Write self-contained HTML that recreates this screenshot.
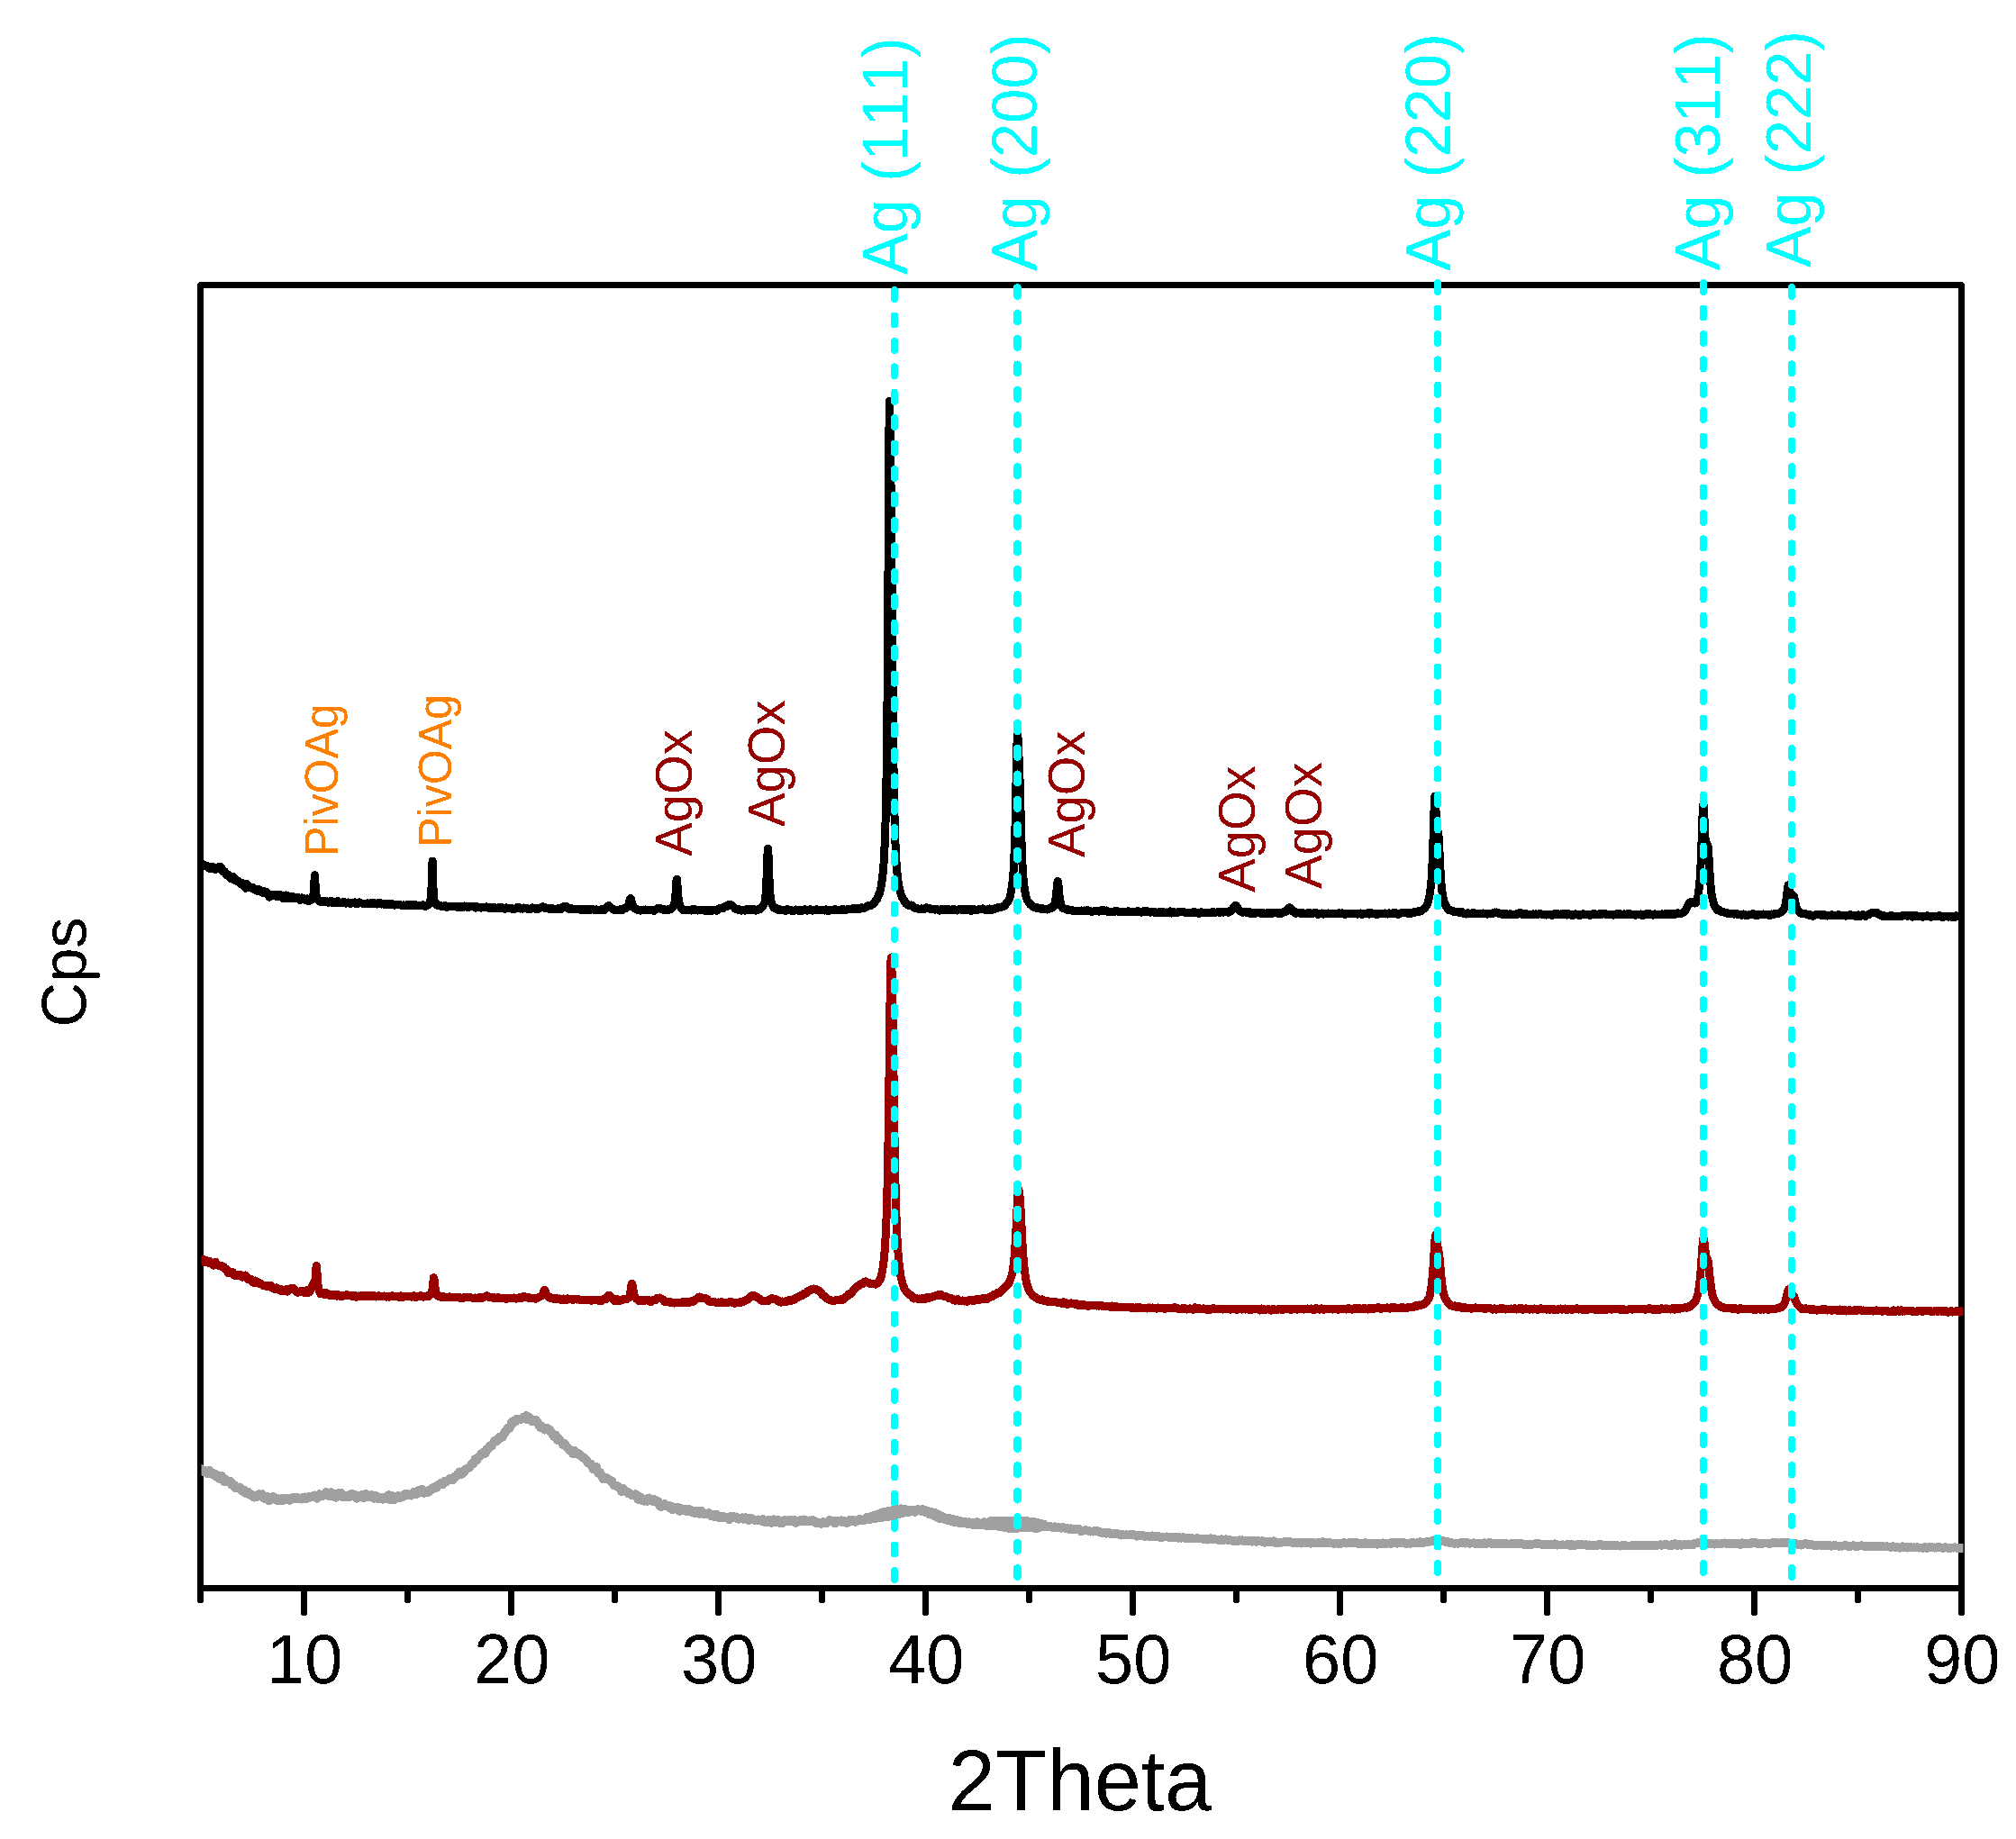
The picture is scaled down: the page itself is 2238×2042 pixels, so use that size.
<!DOCTYPE html>
<html lang="en">
<head>
<meta charset="utf-8">
<title>XRD pattern</title>
<style>html,body{margin:0;padding:0;background:#fff}svg{display:block}</style>
</head>
<body>
<svg width="2238" height="2042" viewBox="0 0 2238 2042">
<rect width="2238" height="2042" fill="#fff"/>
<g fill="none" stroke="#000" stroke-width="7" stroke-linecap="round" stroke-linejoin="round" shape-rendering="crispEdges">
<rect x="222.5" y="316.5" width="1955.0" height="1447.0"/>
<path d="M222.5 1763.5V1776.5M337.5 1763.5V1790.5M452.5 1763.5V1776.5M567.5 1763.5V1790.5M682.5 1763.5V1776.5M797.5 1763.5V1790.5M912.5 1763.5V1776.5M1027.5 1763.5V1790.5M1142.5 1763.5V1776.5M1257.5 1763.5V1790.5M1372.5 1763.5V1776.5M1487.5 1763.5V1790.5M1602.5 1763.5V1776.5M1717.5 1763.5V1790.5M1832.5 1763.5V1776.5M1947.5 1763.5V1790.5M2062.5 1763.5V1776.5M2177.5 1763.5V1790.5"/>
</g>
<clipPath id="cp"><rect x="223.5" y="0" width="1956.0" height="2042"/></clipPath>
<g clip-path="url(#cp)" shape-rendering="crispEdges">
<path d="M222.5 1400.4L222.96 1399.9L223.42 1400.5L223.88 1400.5L224.34 1399.9L224.8 1400.2L225.26 1399.1L225.72 1398L226.18 1399.6L226.64 1399.7L227.1 1400.8L227.56 1401.7L228.02 1400.9L228.48 1400.5L228.94 1399.7L229.4 1399.9L229.86 1400.5L230.32 1400.2L230.78 1400.3L231.24 1400.1L231.7 1400.1L232.16 1401.5L232.62 1402.6L233.08 1403L233.54 1402L234 1401.7L234.46 1402.1L234.92 1402.2L235.38 1402.2L235.84 1403.2L236.3 1402.8L236.76 1403.3L237.22 1405.2L237.68 1404.2L238.14 1403.7L238.6 1402.1L239.06 1401.2L239.52 1402L239.98 1402.5L240.44 1404L240.9 1404.6L241.36 1404.7L241.82 1405.1L242.28 1405.3L242.74 1405L243.2 1405.5L243.66 1405.5L244.12 1405.6L244.58 1405.5L245.04 1405.2L245.5 1405.6L245.96 1406.4L246.42 1407.1L246.88 1407.2L247.34 1406.5L247.8 1406.9L248.26 1406.6L248.72 1407L249.18 1408.8L249.64 1408.9L250.1 1409.3L250.56 1410.1L251.02 1409.6L251.48 1409.4L251.94 1410.9L252.4 1411.1L252.86 1413.3L253.32 1413.2L253.78 1412.8L254.24 1412.9L254.7 1412.1L255.16 1412.7L255.62 1413.8L256.08 1413.9L256.54 1413L257 1413.2L257.46 1412.5L257.92 1412.6L258.38 1412.9L258.84 1413L259.3 1413.8L259.76 1414.5L260.22 1416.1L260.68 1416L261.14 1415L261.6 1415.9L262.06 1415.2L262.52 1416.1L262.98 1416.4L263.44 1415.6L263.9 1415.6L264.36 1415.6L264.82 1416.9L265.28 1416.4L265.74 1416.6L266.2 1415.8L266.66 1415.6L267.12 1415.6L267.58 1416.6L268.04 1417L268.5 1417.8L268.96 1418.2L269.42 1416.5L269.88 1417.5L270.34 1416.9L270.8 1417L271.26 1417.4L271.72 1416.1L272.18 1416L272.64 1416.8L273.1 1416.6L273.56 1418.2L274.02 1419.4L274.48 1418.4L274.94 1420L275.4 1420.5L275.86 1419.4L276.32 1420.8L276.78 1420L277.24 1420.2L277.7 1421.6L278.16 1421.4L278.62 1421.9L279.08 1420.7L279.54 1421.1L280 1422.5L280.46 1422.7L280.92 1424.1L281.38 1423.2L281.84 1423.1L282.3 1422.7L282.76 1423.2L283.22 1422.2L283.68 1422L284.14 1422.7L284.6 1423.2L285.06 1425L285.52 1424.5L285.98 1424.7L286.44 1423.5L286.9 1424.3L287.36 1425.4L287.82 1425.6L288.28 1425.7L288.74 1425.3L289.2 1424.9L289.66 1425.1L290.12 1426.1L290.58 1426.3L291.04 1426.5L291.5 1427.3L291.96 1427.3L292.42 1427.3L292.88 1427.2L293.34 1427.4L293.8 1427.6L294.26 1427.5L294.72 1428L295.18 1427.6L295.64 1427.6L296.1 1428.1L296.56 1428.7L297.02 1428.1L297.48 1428.2L297.94 1428.1L298.4 1427.2L298.86 1428.4L299.32 1428.5L299.78 1428.3L300.24 1428.1L300.7 1427.3L301.16 1427.6L301.62 1428.9L302.08 1429.8L302.54 1429.6L303 1430.3L303.46 1429.6L303.92 1430.5L304.38 1431.4L304.84 1431.3L305.3 1431.5L305.76 1430.4L306.22 1430.7L306.68 1430.4L307.14 1429.9L307.6 1431.2L308.06 1431.3L308.52 1431.8L308.98 1432.2L309.44 1432L309.9 1432.6L310.36 1431.3L310.82 1431.4L311.28 1431.6L311.74 1431.2L312.2 1433L312.66 1433.8L313.12 1433.1L313.58 1433.5L314.04 1433.1L314.5 1432.2L314.96 1433.4L315.42 1433.8L315.88 1433.6L316.34 1433.6L316.8 1432.5L317.26 1431.8L317.72 1432.1L318.18 1432.1L318.64 1432.8L319.1 1434.2L319.56 1433.1L320.02 1433L320.48 1432.9L320.94 1431.7L321.4 1431.6L321.86 1431.6L322.32 1430.8L322.78 1430.8L323.24 1430.7L323.7 1430.5L324.16 1430.5L324.62 1430.4L325.08 1431L325.54 1430.7L326 1430.5L326.46 1431.3L326.92 1431.5L327.38 1432.6L327.84 1433.5L328.3 1433.4L328.76 1434.5L329.22 1434.6L329.68 1435.1L330.14 1435.3L330.6 1434.9L331.06 1434.5L331.52 1434.1L331.98 1434.3L332.44 1434.1L332.9 1434.5L333.36 1434.6L333.82 1433.7L334.28 1433.6L334.74 1433.8L335.2 1433.6L335.66 1433.7L336.12 1434.3L336.58 1434.6L337.04 1435L337.5 1435.2L337.96 1435.3L338.42 1435.2L338.88 1434.6L339.34 1434.7L339.8 1433.7L340.26 1432.8L340.72 1433.9L341.18 1434.8L341.64 1434.5L342.1 1435.5L342.56 1434.8L343.02 1434L343.48 1434.8L343.94 1434.3L344.4 1433.6L344.86 1432.3L345.32 1431.2L345.78 1430.4L346.24 1428.8L346.7 1427.8L347.16 1426.8L347.62 1425.4L348.08 1425.4L348.54 1425.8L349 1425.3L349.46 1424.1L349.92 1421.2L350.38 1415.5L350.84 1409L351.3 1405.5L351.76 1409.4L352.22 1417L352.68 1422.9L353.14 1427.8L353.6 1430.8L354.06 1432.6L354.52 1434.5L354.98 1434.8L355.44 1435.9L355.9 1436.7L356.36 1436.5L356.82 1436.4L357.28 1436.3L357.74 1436.2L358.2 1435.7L358.66 1436.4L359.12 1436.3L359.58 1436.6L360.04 1437.4L360.5 1436.6L360.96 1436.9L361.42 1436.4L361.88 1435.5L362.34 1436.3L362.8 1436.1L363.26 1435.9L363.72 1436.5L364.18 1436.6L364.64 1437.2L365.1 1438.3L365.56 1438.3L366.02 1437.8L366.48 1437.4L366.94 1437.2L367.4 1437.5L367.86 1438.3L368.32 1438.5L368.78 1438.5L369.24 1438.2L369.7 1437.8L370.16 1438L370.62 1438.1L371.08 1438L371.54 1438L372 1437.8L372.46 1437.7L372.92 1438.1L373.38 1439L373.84 1439.2L374.3 1438.8L374.76 1438.8L375.22 1437.9L375.68 1437.8L376.14 1438.2L376.6 1438.7L377.06 1439.2L377.52 1439.5L377.98 1439.1L378.44 1438.8L378.9 1438.2L379.36 1438.1L379.82 1438.5L380.28 1438.4L380.74 1439.2L381.2 1439.2L381.66 1439L382.12 1439L382.58 1438.7L383.04 1438.2L383.5 1438.2L383.96 1438L384.42 1437.7L384.88 1437.7L385.34 1437.7L385.8 1438.2L386.26 1438.1L386.72 1438.9L387.18 1438.8L387.64 1438.5L388.1 1438.4L388.56 1438.3L389.02 1438.6L389.48 1438.7L389.94 1439.2L390.4 1439L390.86 1439.3L391.32 1439.4L391.78 1439L392.24 1439L392.7 1438.6L393.16 1438.3L393.62 1438.2L394.08 1438.7L394.54 1438.8L395 1439.4L395.46 1440.2L395.92 1440L396.38 1439.7L396.84 1439.7L397.3 1439L397.76 1439.1L398.22 1439.5L398.68 1439.6L399.14 1439.5L399.6 1438.9L400.06 1438.8L400.52 1438.8L400.98 1439L401.44 1439.3L401.9 1439.2L402.36 1438.9L402.82 1439L403.28 1438.8L403.74 1438.8L404.2 1439.1L404.66 1438.9L405.12 1439.1L405.58 1439.1L406.04 1439.1L406.5 1439.3L406.96 1439L407.42 1439.6L407.88 1439.6L408.34 1439.4L408.8 1439.5L409.26 1438.9L409.72 1439L410.18 1439.1L410.64 1438.9L411.1 1438.9L411.56 1438.7L412.02 1438.4L412.48 1439.2L412.94 1439.7L413.4 1439.6L413.86 1439.5L414.32 1439.1L414.78 1438.8L415.24 1438.8L415.7 1438.9L416.16 1439L416.62 1439.1L417.08 1439.4L417.54 1439.9L418 1439.6L418.46 1439.7L418.92 1439.3L419.38 1439.2L419.84 1439L420.3 1439.2L420.76 1438.8L421.22 1438.9L421.68 1439.1L422.14 1439.1L422.6 1439.4L423.06 1439.4L423.52 1439.5L423.98 1439.3L424.44 1439.6L424.9 1439.6L425.36 1439.3L425.82 1439.3L426.28 1438.9L426.74 1439L427.2 1439.1L427.66 1439.5L428.12 1439.7L428.58 1440L429.04 1440.2L429.5 1439.4L429.96 1439.6L430.42 1439.5L430.88 1439.3L431.34 1440L431.8 1440.2L432.26 1439.7L432.72 1439.9L433.18 1439.7L433.64 1439.7L434.1 1439.4L434.56 1439.2L435.02 1439L435.48 1438.7L435.94 1439.3L436.4 1439.4L436.86 1439.7L437.32 1439.9L437.78 1439.7L438.24 1439.8L438.7 1439.8L439.16 1439.4L439.62 1439.6L440.08 1439.5L440.54 1439.5L441 1439.5L441.46 1439.5L441.92 1439.8L442.38 1440.2L442.84 1440.3L443.3 1440.3L443.76 1439.7L444.22 1439L444.68 1438.9L445.14 1438.9L445.6 1439.3L446.06 1439.8L446.52 1440.4L446.98 1440.8L447.44 1440.4L447.9 1440.2L448.36 1439.6L448.82 1439.1L449.28 1439.3L449.74 1439.6L450.2 1439.7L450.66 1439.6L451.12 1439.5L451.58 1439.2L452.04 1439.1L452.5 1439.3L452.96 1439.3L453.42 1439.3L453.88 1439.5L454.34 1439.3L454.8 1439.3L455.26 1439.3L455.72 1439.8L456.18 1439.8L456.64 1440L457.1 1440.1L457.56 1439.5L458.02 1439.1L458.48 1439.1L458.94 1438.9L459.4 1439.2L459.86 1439.5L460.32 1439.1L460.78 1439.5L461.24 1440.2L461.7 1440.7L462.16 1440.7L462.62 1440.3L463.08 1439.8L463.54 1439.2L464 1439.4L464.46 1439.6L464.92 1439.9L465.38 1439.8L465.84 1439.9L466.3 1439.6L466.76 1438.7L467.22 1439.2L467.68 1438.7L468.14 1438.9L468.6 1439.5L469.06 1439.4L469.52 1439.8L469.98 1440.1L470.44 1439.8L470.9 1439.6L471.36 1439.9L471.82 1439.7L472.28 1439.6L472.74 1439.5L473.2 1439L473.66 1439.2L474.12 1439.2L474.58 1439.4L475.04 1439.7L475.5 1439.7L475.96 1439.4L476.42 1439.4L476.88 1438.3L477.34 1437.8L477.8 1437.4L478.26 1436.4L478.72 1436L479.18 1434.5L479.64 1433.1L480.1 1430.4L480.56 1427L481.02 1422.2L481.48 1418.6L481.94 1419.9L482.4 1424L482.86 1428.6L483.32 1432L483.78 1434.2L484.24 1435.9L484.7 1437.1L485.16 1438.3L485.62 1438.9L486.08 1439.2L486.54 1439.2L487 1438.8L487.46 1439.2L487.92 1439.3L488.38 1439.4L488.84 1439.8L489.3 1439.8L489.76 1440.3L490.22 1440.5L490.68 1440.3L491.14 1440.3L491.6 1439.9L492.06 1439.7L492.52 1440.2L492.98 1440.1L493.44 1440.2L493.9 1440.5L494.36 1440.4L494.82 1440.6L495.28 1440.7L495.74 1440.4L496.2 1440.2L496.66 1440.1L497.12 1440L497.58 1440.4L498.04 1440.2L498.5 1440.3L498.96 1439.8L499.42 1439.8L499.88 1440.3L500.34 1440.2L500.8 1440.6L501.26 1440.3L501.72 1440L502.18 1440.1L502.64 1440.4L503.1 1440.2L503.56 1440.4L504.02 1440.2L504.48 1440.4L504.94 1440.3L505.4 1440.2L505.86 1440.4L506.32 1440.1L506.78 1440.4L507.24 1440.6L507.7 1440.5L508.16 1440.6L508.62 1440.4L509.08 1440.2L509.54 1440.6L510 1440.8L510.46 1441.4L510.92 1441.4L511.38 1441.7L511.84 1441.5L512.3 1441.7L512.76 1442L513.22 1441.2L513.68 1441.3L514.14 1440.7L514.6 1440.7L515.06 1440.8L515.52 1440.8L515.98 1440.9L516.44 1440.6L516.9 1440.8L517.36 1440.6L517.82 1440.4L518.28 1440.4L518.74 1440.4L519.2 1440.5L519.66 1440.2L520.12 1440.3L520.58 1440.2L521.04 1440.3L521.5 1440.7L521.96 1440.8L522.42 1440.8L522.88 1440.8L523.34 1440.9L523.8 1441.1L524.26 1441.4L524.72 1441.4L525.18 1441.3L525.64 1441.7L526.1 1441.1L526.56 1441.1L527.02 1441.3L527.48 1440.9L527.94 1441.1L528.4 1441.5L528.86 1441.6L529.32 1441.7L529.78 1441.7L530.24 1441.5L530.7 1441.1L531.16 1441.4L531.62 1441.2L532.08 1440.8L532.54 1440.6L533 1440.1L533.46 1440.6L533.92 1440.8L534.38 1441.3L534.84 1441.4L535.3 1441.1L535.76 1441.1L536.22 1440.7L536.68 1440.3L537.14 1440.2L537.6 1440L538.06 1440.1L538.52 1440L538.98 1439.9L539.44 1439.5L539.9 1439.4L540.36 1439.1L540.82 1438.7L541.28 1439.2L541.74 1439.1L542.2 1439.7L542.66 1440.2L543.12 1440.3L543.58 1440.1L544.04 1440.1L544.5 1440.3L544.96 1440.2L545.42 1440.8L545.88 1440.8L546.34 1440.8L546.8 1441.1L547.26 1441L547.72 1440.8L548.18 1440.9L548.64 1440.9L549.1 1440.9L549.56 1441.3L550.02 1441L550.48 1441L550.94 1441.1L551.4 1441.3L551.86 1441.5L552.32 1441.1L552.78 1440.7L553.24 1440.5L553.7 1441L554.16 1441.3L554.62 1441.7L555.08 1441.8L555.54 1441.5L556 1441.6L556.46 1441.2L556.92 1441.3L557.38 1441.5L557.84 1441.2L558.3 1441.4L558.76 1441.4L559.22 1441.2L559.68 1441.5L560.14 1441.4L560.6 1441.8L561.06 1442L561.52 1442.1L561.98 1442.6L562.44 1442L562.9 1442L563.36 1441.7L563.82 1441.4L564.28 1441.7L564.74 1441.8L565.2 1441.9L565.66 1441.8L566.12 1441.6L566.58 1441.7L567.04 1441.8L567.5 1441.4L567.96 1441.7L568.42 1441.5L568.88 1441.3L569.34 1441.5L569.8 1441.1L570.26 1441L570.72 1441.1L571.18 1441L571.64 1441.4L572.1 1441.7L572.56 1441.7L573.02 1442.1L573.48 1441.9L573.94 1441.4L574.4 1441.4L574.86 1441.3L575.32 1441.6L575.78 1441.6L576.24 1441.3L576.7 1440.9L577.16 1440.5L577.62 1440.4L578.08 1440.9L578.54 1441.4L579 1441.5L579.46 1440.8L579.92 1440.3L580.38 1439.9L580.84 1439.6L581.3 1439.8L581.76 1440L582.22 1440L582.68 1439.8L583.14 1439.9L583.6 1440.2L584.06 1440L584.52 1440.2L584.98 1440.9L585.44 1440.9L585.9 1440.9L586.36 1441.1L586.82 1440.7L587.28 1440.7L587.74 1441.1L588.2 1441.3L588.66 1441.8L589.12 1441.7L589.58 1441.6L590.04 1441.4L590.5 1441.5L590.96 1441.9L591.42 1441.9L591.88 1441.9L592.34 1441.4L592.8 1441.2L593.26 1441.5L593.72 1441.6L594.18 1441.8L594.64 1442.3L595.1 1442L595.56 1441.7L596.02 1441.6L596.48 1440.9L596.94 1441.2L597.4 1441L597.86 1440.5L598.32 1440.3L598.78 1439.8L599.24 1439.7L599.7 1439.9L600.16 1439.5L600.62 1439.2L601.08 1439L601.54 1438.1L602 1437.6L602.46 1436.9L602.92 1435.7L603.38 1434.5L603.84 1433.3L604.3 1432.2L604.76 1432.3L605.22 1433.4L605.68 1434.8L606.14 1436.1L606.6 1437.2L607.06 1438L607.52 1438.6L607.98 1439.2L608.44 1439.4L608.9 1439.3L609.36 1439.8L609.82 1440.7L610.28 1441.1L610.74 1441.2L611.2 1441L611.66 1440.9L612.12 1441.1L612.58 1441.8L613.04 1441.8L613.5 1441.8L613.96 1441.8L614.42 1441.6L614.88 1442.2L615.34 1442.2L615.8 1442.8L616.26 1442.8L616.72 1442.6L617.18 1442.3L617.64 1441.9L618.1 1441.6L618.56 1441.8L619.02 1442L619.48 1442.1L619.94 1442.4L620.4 1442.2L620.86 1442.2L621.32 1442L621.78 1442.5L622.24 1442.6L622.7 1443L623.16 1443.5L623.62 1443.4L624.08 1443.5L624.54 1443.1L625 1442.3L625.46 1442.2L625.92 1442L626.38 1442.5L626.84 1443.2L627.3 1443.1L627.76 1443.8L628.22 1443.9L628.68 1443.5L629.14 1443.2L629.6 1442.6L630.06 1441.9L630.52 1442.3L630.98 1442.4L631.44 1442.7L631.9 1443L632.36 1442.7L632.82 1442.4L633.28 1442.3L633.74 1442.2L634.2 1442.5L634.66 1443L635.12 1443.1L635.58 1443.3L636.04 1443.2L636.5 1442.8L636.96 1442.7L637.42 1443.1L637.88 1443L638.34 1442.9L638.8 1442.6L639.26 1442.6L639.72 1442.6L640.18 1443L640.64 1443L641.1 1442.7L641.56 1442.4L642.02 1442.6L642.48 1442.7L642.94 1443.1L643.4 1443.4L643.86 1443.4L644.32 1443.5L644.78 1443.1L645.24 1443.3L645.7 1443.1L646.16 1443.1L646.62 1443.4L647.08 1443.4L647.54 1443.3L648 1443.8L648.46 1443.8L648.92 1443.2L649.38 1443.7L649.84 1443.3L650.3 1443.1L650.76 1443.4L651.22 1443.3L651.68 1443.5L652.14 1443.5L652.6 1443.6L653.06 1443.2L653.52 1443.3L653.98 1443.3L654.44 1443.1L654.9 1443.4L655.36 1443.4L655.82 1443.8L656.28 1444.2L656.74 1444.1L657.2 1443.8L657.66 1443.9L658.12 1443.7L658.58 1443.8L659.04 1443.7L659.5 1443.6L659.96 1443.8L660.42 1443.8L660.88 1444L661.34 1443.6L661.8 1443.5L662.26 1443.2L662.72 1443.2L663.18 1443.6L663.64 1443.5L664.1 1443.9L664.56 1444.2L665.02 1444.1L665.48 1444.1L665.94 1443.3L666.4 1443.2L666.86 1443.1L667.32 1443.3L667.78 1444.4L668.24 1444.1L668.7 1444.1L669.16 1443.5L669.62 1442.7L670.08 1443L670.54 1442.9L671 1442.8L671.46 1442.9L671.92 1442.6L672.38 1442.6L672.84 1441.8L673.3 1441.4L673.76 1440.5L674.22 1439.7L674.68 1439.3L675.14 1438.6L675.6 1438.1L676.06 1438.2L676.52 1438.3L676.98 1439.1L677.44 1439.8L677.9 1440.1L678.36 1441.2L678.82 1441.2L679.28 1441.7L679.74 1442L680.2 1442L680.66 1442.7L681.12 1443.6L681.58 1443.9L682.04 1444.5L682.5 1444L682.96 1443.4L683.42 1443.2L683.88 1442.3L684.34 1442.5L684.8 1442.4L685.26 1442.9L685.72 1444L686.18 1444.2L686.64 1444.6L687.1 1444.4L687.56 1443.9L688.02 1444.2L688.48 1443.5L688.94 1444.1L689.4 1444.1L689.86 1443.4L690.32 1443.8L690.78 1443L691.24 1442.9L691.7 1443.1L692.16 1442.9L692.62 1442.8L693.08 1442.8L693.54 1442.7L694 1442.2L694.46 1442.4L694.92 1442.4L695.38 1442.3L695.84 1442.4L696.3 1441.7L696.76 1441.5L697.22 1441.1L697.68 1441.1L698.14 1440.9L698.6 1439.8L699.06 1438.6L699.52 1436.4L699.98 1433.5L700.44 1430.5L700.9 1427.3L701.36 1425.3L701.82 1425.7L702.28 1427.4L702.74 1431.1L703.2 1434L703.66 1436.4L704.12 1438.2L704.58 1439.2L705.04 1440.1L705.5 1440.6L705.96 1441.5L706.42 1442L706.88 1442.7L707.34 1442.7L707.8 1443.1L708.26 1443.8L708.72 1444L709.18 1444.6L709.64 1444.2L710.1 1443.9L710.56 1443.6L711.02 1443.4L711.48 1444.3L711.94 1444.3L712.4 1444.4L712.86 1444.9L713.32 1444.2L713.78 1444L714.24 1444L714.7 1443.9L715.16 1444.3L715.62 1444.1L716.08 1444.1L716.54 1444.1L717 1443.5L717.46 1443.9L717.92 1444L718.38 1444L718.84 1444.1L719.3 1443.9L719.76 1443.9L720.22 1443.7L720.68 1444.1L721.14 1444.6L721.6 1445.1L722.06 1445.8L722.52 1445.7L722.98 1445.2L723.44 1444.7L723.9 1444.4L724.36 1444.2L724.82 1443.7L725.28 1443.6L725.74 1443L726.2 1443L726.66 1443.3L727.12 1443.5L727.58 1443.5L728.04 1443.3L728.5 1442.6L728.96 1442.1L729.42 1441.6L729.88 1441.7L730.34 1442.1L730.8 1441.8L731.26 1441.4L731.72 1441.1L732.18 1441.1L732.64 1441L733.1 1441.9L733.56 1442L734.02 1441.8L734.48 1441.9L734.94 1442.3L735.4 1442.5L735.86 1443.4L736.32 1443.9L736.78 1444.2L737.24 1445.1L737.7 1444.9L738.16 1445.2L738.62 1445.3L739.08 1444.9L739.54 1445.3L740 1445.4L740.46 1445.4L740.92 1445.3L741.38 1445.6L741.84 1445.7L742.3 1445.5L742.76 1446.1L743.22 1445.9L743.68 1446.1L744.14 1446.2L744.6 1445.9L745.06 1445.9L745.52 1446.4L745.98 1446.6L746.44 1446.6L746.9 1446.5L747.36 1446.8L747.82 1446.9L748.28 1447L748.74 1447.1L749.2 1446.7L749.66 1446.6L750.12 1446.7L750.58 1446.8L751.04 1446.8L751.5 1446.8L751.96 1446.7L752.42 1446.6L752.88 1446.7L753.34 1446.6L753.8 1446.5L754.26 1446.7L754.72 1446.7L755.18 1446.5L755.64 1446.7L756.1 1446.6L756.56 1446.4L757.02 1446.7L757.48 1446.1L757.94 1445.9L758.4 1445.6L758.86 1445.1L759.32 1445.8L759.78 1446.5L760.24 1446.5L760.7 1446.8L761.16 1446.9L761.62 1445.8L762.08 1446.1L762.54 1446.3L763 1445.5L763.46 1446.1L763.92 1446.2L764.38 1445.9L764.84 1446.7L765.3 1446.4L765.76 1446.1L766.22 1446.1L766.68 1445.7L767.14 1445.8L767.6 1445.4L768.06 1445L768.52 1444.5L768.98 1444.1L769.44 1444.3L769.9 1444.7L770.36 1445.1L770.82 1444.4L771.28 1444L771.74 1443.7L772.2 1442.7L772.66 1443L773.12 1442.4L773.58 1441.7L774.04 1441.9L774.5 1441.8L774.96 1441.9L775.42 1441.5L775.88 1440.7L776.34 1439.9L776.8 1440L777.26 1440.1L777.72 1440.4L778.18 1440.9L778.64 1440.9L779.1 1441.5L779.56 1441.6L780.02 1441.9L780.48 1441.9L780.94 1441.6L781.4 1441.5L781.86 1441.6L782.32 1441.5L782.78 1441.4L783.24 1442.2L783.7 1442.2L784.16 1442.3L784.62 1442.7L785.08 1442.6L785.54 1442.8L786 1443.6L786.46 1444.2L786.92 1444.6L787.38 1445.3L787.84 1445.1L788.3 1445.4L788.76 1445.3L789.22 1445.1L789.68 1445.1L790.14 1445L790.6 1445L791.06 1445.4L791.52 1445.9L791.98 1445.8L792.44 1445.8L792.9 1445.8L793.36 1445.5L793.82 1445.9L794.28 1446.3L794.74 1446.3L795.2 1446.5L795.66 1446.5L796.12 1446.4L796.58 1446.2L797.04 1446.1L797.5 1446L797.96 1446.1L798.42 1446.4L798.88 1446.7L799.34 1446.6L799.8 1446.5L800.26 1446.2L800.72 1445.6L801.18 1445.6L801.64 1445.8L802.1 1445.8L802.56 1446.6L803.02 1446.8L803.48 1446.8L803.94 1446.8L804.4 1446.2L804.86 1446.3L805.32 1446.3L805.78 1446.4L806.24 1446.6L806.7 1446.7L807.16 1446.3L807.62 1446.1L808.08 1446L808.54 1446L809 1446L809.46 1446.1L809.92 1446.1L810.38 1445.4L810.84 1445.7L811.3 1445.3L811.76 1445.5L812.22 1446.2L812.68 1446.5L813.14 1446.6L813.6 1446.6L814.06 1446.9L814.52 1446.8L814.98 1446.9L815.44 1447.2L815.9 1447.1L816.36 1447.1L816.82 1447L817.28 1446.9L817.74 1446.6L818.2 1446.3L818.66 1446.6L819.12 1446.5L819.58 1446.4L820.04 1446.5L820.5 1446.6L820.96 1446.1L821.42 1445.8L821.88 1445.9L822.34 1445.9L822.8 1446.2L823.26 1446L823.72 1445.7L824.18 1445.3L824.64 1445.2L825.1 1445.4L825.56 1444.9L826.02 1445L826.48 1444.6L826.94 1444.5L827.4 1444L827.86 1443.4L828.32 1443.5L828.78 1443.1L829.24 1443.3L829.7 1443.2L830.16 1442.8L830.62 1442.4L831.08 1441.7L831.54 1441.4L832 1440.5L832.46 1439.9L832.92 1440.2L833.38 1439.6L833.84 1439.4L834.3 1439.5L834.76 1438.7L835.22 1438.7L835.68 1438.8L836.14 1438.5L836.6 1438.5L837.06 1438.5L837.52 1438.7L837.98 1439L838.44 1439.6L838.9 1440.1L839.36 1440.2L839.82 1440.4L840.28 1440.6L840.74 1440.6L841.2 1441.1L841.66 1441.6L842.12 1441.6L842.58 1441.8L843.04 1442L843.5 1442.2L843.96 1442.6L844.42 1443.2L844.88 1443.6L845.34 1444.1L845.8 1444.3L846.26 1444.6L846.72 1444.4L847.18 1444.3L847.64 1444.4L848.1 1444.8L848.56 1444.9L849.02 1444.9L849.48 1444.8L849.94 1444.5L850.4 1444.9L850.86 1444.9L851.32 1444.8L851.78 1444.8L852.24 1444.2L852.7 1444.5L853.16 1444.3L853.62 1443.8L854.08 1443.6L854.54 1442.7L855 1442.5L855.46 1442.1L855.92 1441.9L856.38 1441.9L856.84 1441.9L857.3 1441.8L857.76 1441.8L858.22 1442L858.68 1442.5L859.14 1443L859.6 1442.6L860.06 1442.9L860.52 1442.7L860.98 1442.7L861.44 1443.3L861.9 1442.8L862.36 1443.3L862.82 1443.7L863.28 1444.4L863.74 1445L864.2 1445L864.66 1445L865.12 1444.7L865.58 1445.7L866.04 1445.6L866.5 1445.9L866.96 1446.1L867.42 1445.2L867.88 1445.2L868.34 1445.2L868.8 1445L869.26 1445.4L869.72 1445.6L870.18 1445.5L870.64 1445.6L871.1 1445.5L871.56 1445.3L872.02 1444.9L872.48 1444.9L872.94 1445L873.4 1445L873.86 1445.2L874.32 1445L874.78 1444.7L875.24 1444.1L875.7 1443.8L876.16 1443.3L876.62 1443.3L877.08 1444L877.54 1444.1L878 1444.7L878.46 1444.5L878.92 1444L879.38 1443.8L879.84 1443L880.3 1442.9L880.76 1442.8L881.22 1442.6L881.68 1443.2L882.14 1442.8L882.6 1442.5L883.06 1442.2L883.52 1441.4L883.98 1441.2L884.44 1440.8L884.9 1440.6L885.36 1440.4L885.82 1440.3L886.28 1440.4L886.74 1440.3L887.2 1439.7L887.66 1439.9L888.12 1439.6L888.58 1438.9L889.04 1438.9L889.5 1438.2L889.96 1438.2L890.42 1438.7L890.88 1438.5L891.34 1438.3L891.8 1437.5L892.26 1436.6L892.72 1436.2L893.18 1436.3L893.64 1436.4L894.1 1436.4L894.56 1436.3L895.02 1435.7L895.48 1435.1L895.94 1434.5L896.4 1434.1L896.86 1433.4L897.32 1433L897.78 1433.3L898.24 1433L898.7 1433.2L899.16 1433.2L899.62 1432.4L900.08 1432.2L900.54 1431.7L901 1431.5L901.46 1431.6L901.92 1431.4L902.38 1431.5L902.84 1431.1L903.3 1431L903.76 1431.5L904.22 1431.2L904.68 1431.3L905.14 1431.5L905.6 1431.3L906.06 1431.8L906.52 1432.3L906.98 1432.4L907.44 1432.5L907.9 1432.7L908.36 1432.7L908.82 1432.9L909.28 1433.1L909.74 1433.5L910.2 1433.7L910.66 1434.1L911.12 1435.1L911.58 1435.6L912.04 1436.5L912.5 1437.4L912.96 1437.8L913.42 1438L913.88 1438.6L914.34 1438.6L914.8 1438.6L915.26 1439.5L915.72 1439.5L916.18 1440.1L916.64 1440.9L917.1 1441.1L917.56 1441.3L918.02 1442L918.48 1442.1L918.94 1442.6L919.4 1442.9L919.86 1443.1L920.32 1443.1L920.78 1443.1L921.24 1443.3L921.7 1443.3L922.16 1443.6L922.62 1443.6L923.08 1443.9L923.54 1444.4L924 1444.4L924.46 1444.4L924.92 1444.7L925.38 1444.3L925.84 1444.5L926.3 1444.1L926.76 1444.2L927.22 1443.9L927.68 1443.9L928.14 1444L928.6 1443.4L929.06 1443.7L929.52 1443.4L929.98 1443.4L930.44 1443.6L930.9 1443.4L931.36 1443.3L931.82 1443.4L932.28 1443.5L932.74 1443.4L933.2 1443.4L933.66 1443.2L934.12 1442.6L934.58 1442.8L935.04 1442.7L935.5 1442.8L935.96 1443.2L936.42 1442.7L936.88 1442.4L937.34 1441.4L937.8 1440.9L938.26 1440.7L938.72 1440L939.18 1440.1L939.64 1439.6L940.1 1439.2L940.56 1439.3L941.02 1438.7L941.48 1437.9L941.94 1437.3L942.4 1436.7L942.86 1436.7L943.32 1436.8L943.78 1437.2L944.24 1437L944.7 1436.5L945.16 1436L945.62 1435.3L946.08 1434.3L946.54 1433.9L947 1433.3L947.46 1432.7L947.92 1432.6L948.38 1431.9L948.84 1431.5L949.3 1431.2L949.76 1430.5L950.22 1429.8L950.68 1429.1L951.14 1428.4L951.6 1428.4L952.06 1428.6L952.52 1428.4L952.98 1428.2L953.44 1427.3L953.9 1426.9L954.36 1426.7L954.82 1426.1L955.28 1426.1L955.74 1425.5L956.2 1425.5L956.66 1425.7L957.12 1425.7L957.58 1425.5L958.04 1424.9L958.5 1424.4L958.96 1423.8L959.42 1424.1L959.88 1424L960.34 1423.4L960.8 1423.4L961.26 1422.9L961.72 1423.1L962.18 1423.7L962.64 1424L963.1 1424.2L963.56 1424.5L964.02 1424.5L964.48 1424.9L964.94 1425.1L965.4 1424.8L965.86 1425.3L966.32 1425L966.78 1425.1L967.24 1426L967.7 1425.7L968.16 1425.9L968.62 1425.9L969.08 1425.4L969.54 1425.4L970 1425.3L970.46 1425.3L970.92 1425.5L971.38 1425.6L971.84 1425.8L972.3 1426.2L972.76 1425.6L973.22 1425.5L973.68 1425.4L974.14 1424.6L974.6 1424.3L975.06 1423.9L975.52 1423.3L975.98 1422.3L976.44 1421.9L976.9 1420.9L977.36 1419.9L977.82 1418.9L978.28 1417.1L978.74 1415.2L979.2 1412.8L979.66 1410.3L980.12 1407.2L980.58 1404.3L981.04 1400.5L981.5 1396L981.96 1391.2L982.42 1384.6L982.88 1377.4L983.34 1369.1L983.8 1358.9L984.26 1346.3L984.72 1331.1L985.18 1312.4L985.64 1289.6L986.1 1263L986.56 1231.6L987.02 1195.1L987.48 1156.6L987.94 1118.5L988.4 1087.2L988.86 1068.2L989.32 1063L989.78 1070L990.24 1085.9L990.7 1107.7L991.16 1134.6L991.62 1165.8L992.08 1199.2L992.54 1232.1L993 1261.9L993.46 1288.6L993.92 1311.3L994.38 1330.3L994.84 1346.6L995.3 1359.8L995.76 1370L996.22 1378.8L996.68 1386.5L997.14 1392.8L997.6 1398.2L998.06 1402.7L998.52 1406.6L998.98 1410.2L999.44 1413.6L999.9 1416.5L1000.36 1418.9L1000.82 1420.9L1001.28 1423L1001.74 1424.7L1002.2 1426.1L1002.66 1427.3L1003.12 1428.4L1003.58 1429.8L1004.04 1430.8L1004.5 1431.9L1004.96 1432.3L1005.42 1433L1005.88 1433.9L1006.34 1434.2L1006.8 1435L1007.26 1435.4L1007.72 1435.5L1008.18 1436.7L1008.64 1437.3L1009.1 1437.3L1009.56 1437.5L1010.02 1437.5L1010.48 1437.7L1010.94 1438.3L1011.4 1439L1011.86 1438.8L1012.32 1439.4L1012.78 1439.8L1013.24 1440.6L1013.7 1441.4L1014.16 1441.7L1014.62 1442L1015.08 1441.7L1015.54 1441.7L1016 1441.4L1016.46 1441.4L1016.92 1441.4L1017.38 1441.7L1017.84 1442.1L1018.3 1442.1L1018.76 1442.4L1019.22 1442.1L1019.68 1442.1L1020.14 1442.1L1020.6 1442L1021.06 1442.1L1021.52 1442.2L1021.98 1442.3L1022.44 1442.5L1022.9 1442.4L1023.36 1441.9L1023.82 1441.9L1024.28 1441.4L1024.74 1441.7L1025.2 1441.8L1025.66 1441.7L1026.12 1442L1026.58 1442L1027.04 1442.4L1027.5 1442.4L1027.96 1442.1L1028.42 1441.1L1028.88 1440.7L1029.34 1440.6L1029.8 1440.8L1030.26 1441.6L1030.72 1441.5L1031.18 1441.4L1031.64 1441L1032.1 1440.6L1032.56 1440.4L1033.02 1440.4L1033.48 1440.3L1033.94 1440.3L1034.4 1440L1034.86 1439.8L1035.32 1440L1035.78 1439.6L1036.24 1439.5L1036.7 1439.4L1037.16 1439.4L1037.62 1439L1038.08 1439L1038.54 1439L1039 1438.4L1039.46 1438.7L1039.92 1438.5L1040.38 1438.5L1040.84 1438.2L1041.3 1438.1L1041.76 1437.6L1042.22 1437.1L1042.68 1437.6L1043.14 1438L1043.6 1438.3L1044.06 1438.2L1044.52 1437.7L1044.98 1437.4L1045.44 1438.2L1045.9 1438.5L1046.36 1438.9L1046.82 1439.1L1047.28 1438.9L1047.74 1439.1L1048.2 1439.2L1048.66 1439.6L1049.12 1439.7L1049.58 1439.9L1050.04 1440L1050.5 1439.7L1050.96 1439.8L1051.42 1439.9L1051.88 1440.3L1052.34 1440.8L1052.8 1441L1053.26 1441.5L1053.72 1441.8L1054.18 1441.5L1054.64 1441.7L1055.1 1441.2L1055.56 1441.6L1056.02 1441.6L1056.48 1441.8L1056.94 1442.6L1057.4 1442.5L1057.86 1443.2L1058.32 1443.4L1058.78 1443L1059.24 1443.1L1059.7 1443.3L1060.16 1443.6L1060.62 1444.3L1061.08 1444.1L1061.54 1443.4L1062 1443.1L1062.46 1442.6L1062.92 1442.5L1063.38 1443L1063.84 1443.4L1064.3 1443.9L1064.76 1444.5L1065.22 1445L1065.68 1444.5L1066.14 1444.6L1066.6 1444.8L1067.06 1444.1L1067.52 1444.7L1067.98 1444.5L1068.44 1444L1068.9 1444.6L1069.36 1444.5L1069.82 1444.8L1070.28 1445L1070.74 1445L1071.2 1444.5L1071.66 1444.5L1072.12 1444.4L1072.58 1444.6L1073.04 1445.3L1073.5 1444.8L1073.96 1445.1L1074.42 1444.7L1074.88 1444.2L1075.34 1444.2L1075.8 1444L1076.26 1443.6L1076.72 1443.6L1077.18 1443.5L1077.64 1443.3L1078.1 1443.5L1078.56 1443.7L1079.02 1444.1L1079.48 1444.2L1079.94 1443.9L1080.4 1443.9L1080.86 1443.9L1081.32 1444.1L1081.78 1444.3L1082.24 1444.3L1082.7 1443.5L1083.16 1443.1L1083.62 1442.8L1084.08 1442.5L1084.54 1443.1L1085 1443.5L1085.46 1443.4L1085.92 1443.3L1086.38 1443.1L1086.84 1442.8L1087.3 1442.8L1087.76 1443L1088.22 1443.1L1088.68 1443L1089.14 1442.9L1089.6 1442.6L1090.06 1442.4L1090.52 1441.9L1090.98 1442.2L1091.44 1442.2L1091.9 1441.9L1092.36 1442.5L1092.82 1442.1L1093.28 1441.7L1093.74 1441.6L1094.2 1441.1L1094.66 1441.3L1095.12 1441.6L1095.58 1442L1096.04 1442.3L1096.5 1441.9L1096.96 1441.7L1097.42 1441.5L1097.88 1441L1098.34 1440.9L1098.8 1440.3L1099.26 1439.9L1099.72 1440L1100.18 1440.2L1100.64 1440L1101.1 1439.8L1101.56 1439.4L1102.02 1438.7L1102.48 1438.3L1102.94 1438L1103.4 1437.4L1103.86 1437.1L1104.32 1437.2L1104.78 1437.1L1105.24 1437.2L1105.7 1437.3L1106.16 1437L1106.62 1436.7L1107.08 1436.3L1107.54 1435.4L1108 1435.6L1108.46 1435.3L1108.92 1435.7L1109.38 1435.8L1109.84 1435.3L1110.3 1434.8L1110.76 1434L1111.22 1433.2L1111.68 1432.7L1112.14 1432.7L1112.6 1432L1113.06 1432.2L1113.52 1431.5L1113.98 1430.9L1114.44 1430.6L1114.9 1429.7L1115.36 1429.9L1115.82 1429.2L1116.28 1428.8L1116.74 1428.5L1117.2 1428.1L1117.66 1427.9L1118.12 1427.4L1118.58 1427L1119.04 1426.1L1119.5 1425.5L1119.96 1424.8L1120.42 1424L1120.88 1422.6L1121.34 1421.6L1121.8 1420.2L1122.26 1418.7L1122.72 1417.5L1123.18 1415.7L1123.64 1414L1124.1 1411.4L1124.56 1409.2L1125.02 1405.5L1125.48 1401.6L1125.94 1397.3L1126.4 1390.9L1126.86 1385L1127.32 1377.5L1127.78 1368.7L1128.24 1359.7L1128.7 1348.6L1129.16 1338.6L1129.62 1330.2L1130.08 1323.7L1130.54 1321.2L1131 1321.1L1131.46 1322.9L1131.92 1327.1L1132.38 1332.3L1132.84 1338.8L1133.3 1347.3L1133.76 1356.1L1134.22 1365.6L1134.68 1374.7L1135.14 1383.1L1135.6 1390.3L1136.06 1396.6L1136.52 1402.3L1136.98 1406.8L1137.44 1410.7L1137.9 1414L1138.36 1417.4L1138.82 1420.1L1139.28 1423.1L1139.74 1425.2L1140.2 1426.5L1140.66 1428.1L1141.12 1429.2L1141.58 1430.6L1142.04 1432L1142.5 1432.7L1142.96 1433.8L1143.42 1434.6L1143.88 1435.2L1144.34 1435.9L1144.8 1436.3L1145.26 1437L1145.72 1437.2L1146.18 1438.3L1146.64 1438.5L1147.1 1438.9L1147.56 1439.4L1148.02 1439.5L1148.48 1440.2L1148.94 1440.1L1149.4 1440.3L1149.86 1440.6L1150.32 1440.6L1150.78 1441.2L1151.24 1441.8L1151.7 1442.1L1152.16 1442.4L1152.62 1442.5L1153.08 1442.7L1153.54 1443.2L1154 1443.2L1154.46 1443.4L1154.92 1443.6L1155.38 1443.1L1155.84 1443.3L1156.3 1443.2L1156.76 1442.9L1157.22 1443.3L1157.68 1443.5L1158.14 1443.9L1158.6 1444.2L1159.06 1444.2L1159.52 1444.1L1159.98 1444.5L1160.44 1444.4L1160.9 1444.6L1161.36 1444.5L1161.82 1444.2L1162.28 1444.4L1162.74 1444.2L1163.2 1444.9L1163.66 1445.5L1164.12 1445.3L1164.58 1445.5L1165.04 1445.6L1165.5 1445.2L1165.96 1445.4L1166.42 1445.1L1166.88 1445.3L1167.34 1445.5L1167.8 1445.7L1168.26 1445.8L1168.72 1445.3L1169.18 1445.2L1169.64 1445.2L1170.1 1445.2L1170.56 1445.2L1171.02 1445.5L1171.48 1445.6L1171.94 1445.8L1172.4 1446.1L1172.86 1445.9L1173.32 1446L1173.78 1446.4L1174.24 1446.2L1174.7 1446.5L1175.16 1446.7L1175.62 1446.6L1176.08 1446.8L1176.54 1446.8L1177 1446.5L1177.46 1446.5L1177.92 1446.4L1178.38 1447.1L1178.84 1447.4L1179.3 1447.2L1179.76 1447L1180.22 1446.1L1180.68 1445.7L1181.14 1446L1181.6 1446.3L1182.06 1446.5L1182.52 1446.5L1182.98 1446.6L1183.44 1447.2L1183.9 1447.4L1184.36 1448.3L1184.82 1448.4L1185.28 1448L1185.74 1448L1186.2 1447.4L1186.66 1447.5L1187.12 1447.3L1187.58 1447.1L1188.04 1447.4L1188.5 1446.9L1188.96 1446.8L1189.42 1447.6L1189.88 1447.4L1190.34 1447.3L1190.8 1447.7L1191.26 1447.1L1191.72 1447.2L1192.18 1447.7L1192.64 1447.5L1193.1 1447.6L1193.56 1447.8L1194.02 1448.3L1194.48 1448.5L1194.94 1448.6L1195.4 1448.1L1195.86 1447.9L1196.32 1448.1L1196.78 1448.7L1197.24 1449.5L1197.7 1449.4L1198.16 1449.5L1198.62 1449.3L1199.08 1449L1199.54 1448.8L1200 1448.9L1200.46 1449.3L1200.92 1449L1201.38 1449.3L1201.84 1449.2L1202.3 1448.6L1202.76 1449L1203.22 1448.6L1203.68 1448.7L1204.14 1449.2L1204.6 1449L1205.06 1449.4L1205.52 1449.1L1205.98 1449.1L1206.44 1449.2L1206.9 1449.6L1207.36 1450.2L1207.82 1450L1208.28 1450.2L1208.74 1449.8L1209.2 1449.5L1209.66 1449.9L1210.12 1449.8L1210.58 1449.6L1211.04 1449.7L1211.5 1449.7L1211.96 1449.4L1212.42 1449.3L1212.88 1449.5L1213.34 1449.2L1213.8 1449.7L1214.26 1449.8L1214.72 1449.8L1215.18 1449.8L1215.64 1449.5L1216.1 1449.9L1216.56 1449.6L1217.02 1449.9L1217.48 1450L1217.94 1450L1218.4 1449.9L1218.86 1449.8L1219.32 1449.9L1219.78 1449.7L1220.24 1450.2L1220.7 1449.8L1221.16 1449.5L1221.62 1449.7L1222.08 1449.4L1222.54 1449.5L1223 1449.9L1223.46 1450.2L1223.92 1450.2L1224.38 1449.9L1224.84 1450.1L1225.3 1450L1225.76 1450L1226.22 1450.6L1226.68 1450.1L1227.14 1450.1L1227.6 1450.5L1228.06 1450.4L1228.52 1450.8L1228.98 1450.6L1229.44 1450.4L1229.9 1450.7L1230.36 1450.6L1230.82 1450.7L1231.28 1450.8L1231.74 1450.8L1232.2 1451.3L1232.66 1451.5L1233.12 1451.2L1233.58 1451.3L1234.04 1450.6L1234.5 1450L1234.96 1450.5L1235.42 1450.8L1235.88 1450.9L1236.34 1451.4L1236.8 1451.2L1237.26 1451L1237.72 1451.2L1238.18 1450.9L1238.64 1451L1239.1 1450.9L1239.56 1451L1240.02 1451.1L1240.48 1451L1240.94 1451.1L1241.4 1451.1L1241.86 1451.4L1242.32 1451.7L1242.78 1451.6L1243.24 1451.8L1243.7 1451.6L1244.16 1451.7L1244.62 1451.3L1245.08 1451.2L1245.54 1451.6L1246 1451.6L1246.46 1451.5L1246.92 1451.4L1247.38 1451.2L1247.84 1451.3L1248.3 1451.6L1248.76 1451.9L1249.22 1451.9L1249.68 1452L1250.14 1451.9L1250.6 1451.9L1251.06 1451.4L1251.52 1451.6L1251.98 1451.5L1252.44 1451.3L1252.9 1451.9L1253.36 1451.3L1253.82 1451.4L1254.28 1451.9L1254.74 1451.9L1255.2 1452L1255.66 1452.4L1256.12 1452L1256.58 1451.8L1257.04 1451.8L1257.5 1451.8L1257.96 1451.8L1258.42 1451.9L1258.88 1452.1L1259.34 1452.3L1259.8 1452.3L1260.26 1452.4L1260.72 1452.4L1261.18 1451.9L1261.64 1451.7L1262.1 1451.5L1262.56 1451.1L1263.02 1451.1L1263.48 1451.2L1263.94 1451.3L1264.4 1451.4L1264.86 1452.5L1265.32 1452.6L1265.78 1452.8L1266.24 1452.8L1266.7 1452.1L1267.16 1452.3L1267.62 1452.3L1268.08 1452.4L1268.54 1452.4L1269 1452.5L1269.46 1452.1L1269.92 1452.2L1270.38 1452.7L1270.84 1452.5L1271.3 1452.5L1271.76 1452.5L1272.22 1452.5L1272.68 1452.5L1273.14 1452.8L1273.6 1453L1274.06 1452.2L1274.52 1452L1274.98 1452.1L1275.44 1452.1L1275.9 1452.5L1276.36 1452L1276.82 1452.3L1277.28 1452.2L1277.74 1452.4L1278.2 1452.5L1278.66 1452.6L1279.12 1452.5L1279.58 1452L1280.04 1452.4L1280.5 1452.2L1280.96 1452.3L1281.42 1452.6L1281.88 1452.7L1282.34 1452.6L1282.8 1452.5L1283.26 1452.9L1283.72 1453.1L1284.18 1452.9L1284.64 1452.6L1285.1 1452.4L1285.56 1452L1286.02 1452.2L1286.48 1452.6L1286.94 1452.4L1287.4 1452.7L1287.86 1452.6L1288.32 1452.8L1288.78 1452.9L1289.24 1452.5L1289.7 1452.7L1290.16 1452.4L1290.62 1452L1291.08 1452L1291.54 1452.3L1292 1452.5L1292.46 1453.1L1292.92 1453.3L1293.38 1452.7L1293.84 1452.2L1294.3 1452.3L1294.76 1452.4L1295.22 1452.8L1295.68 1452.9L1296.14 1452.4L1296.6 1452.1L1297.06 1452.2L1297.52 1452.2L1297.98 1452.8L1298.44 1452.9L1298.9 1452.9L1299.36 1453L1299.82 1452.7L1300.28 1452.8L1300.74 1452.8L1301.2 1452.4L1301.66 1452.3L1302.12 1452.4L1302.58 1451.9L1303.04 1451.8L1303.5 1452.1L1303.96 1451.8L1304.42 1451.9L1304.88 1452.1L1305.34 1452L1305.8 1452.1L1306.26 1452.1L1306.72 1452.2L1307.18 1452.4L1307.64 1452.7L1308.1 1453.2L1308.56 1453.7L1309.02 1453.6L1309.48 1453.6L1309.94 1453.7L1310.4 1453.5L1310.86 1453.5L1311.32 1453.4L1311.78 1452.9L1312.24 1452.9L1312.7 1452.5L1313.16 1452.9L1313.62 1453.3L1314.08 1453.5L1314.54 1453.6L1315 1453.4L1315.46 1453.3L1315.92 1452.8L1316.38 1453.2L1316.84 1453.4L1317.3 1453.4L1317.76 1453.9L1318.22 1453.6L1318.68 1453.3L1319.14 1453.2L1319.6 1453.5L1320.06 1453.5L1320.52 1453.7L1320.98 1453.8L1321.44 1452.9L1321.9 1453.1L1322.36 1453.1L1322.82 1453.1L1323.28 1453.7L1323.74 1453.8L1324.2 1454.2L1324.66 1454.3L1325.12 1453.8L1325.58 1453L1326.04 1452.5L1326.5 1451.9L1326.96 1452.1L1327.42 1452.5L1327.88 1452.9L1328.34 1453.6L1328.8 1453.4L1329.26 1453.5L1329.72 1452.8L1330.18 1452.8L1330.64 1453.2L1331.1 1452.7L1331.56 1452.8L1332.02 1453L1332.48 1453L1332.94 1453.4L1333.4 1453.7L1333.86 1453.6L1334.32 1453.8L1334.78 1453.8L1335.24 1453.7L1335.7 1453.2L1336.16 1452.9L1336.62 1453L1337.08 1453.2L1337.54 1453.7L1338 1453.5L1338.46 1453.5L1338.92 1453.6L1339.38 1453.9L1339.84 1454.5L1340.3 1454.3L1340.76 1454.1L1341.22 1453.6L1341.68 1453.7L1342.14 1453.8L1342.6 1454.1L1343.06 1454.5L1343.52 1454.3L1343.98 1454.2L1344.44 1453.7L1344.9 1453.5L1345.36 1453L1345.82 1453.2L1346.28 1453.4L1346.74 1453.2L1347.2 1453.2L1347.66 1452.7L1348.12 1452.8L1348.58 1453L1349.04 1453.2L1349.5 1453.5L1349.96 1453.6L1350.42 1453.4L1350.88 1453.4L1351.34 1453.7L1351.8 1453.6L1352.26 1453.6L1352.72 1453.2L1353.18 1453.2L1353.64 1453.3L1354.1 1453.5L1354.56 1453.4L1355.02 1453.3L1355.48 1453.1L1355.94 1453L1356.4 1453.5L1356.86 1453.8L1357.32 1454L1357.78 1454.1L1358.24 1453.8L1358.7 1453.5L1359.16 1453.3L1359.62 1453.3L1360.08 1453.4L1360.54 1453.7L1361 1453.9L1361.46 1453.7L1361.92 1453.9L1362.38 1453.7L1362.84 1453.9L1363.3 1453.8L1363.76 1453.3L1364.22 1453.1L1364.68 1453.1L1365.14 1453.4L1365.6 1453.5L1366.06 1454L1366.52 1453.7L1366.98 1453.9L1367.44 1453.7L1367.9 1453.6L1368.36 1453.2L1368.82 1453.4L1369.28 1453.4L1369.74 1453.3L1370.2 1453.7L1370.66 1453.2L1371.12 1453.6L1371.58 1453.6L1372.04 1453.8L1372.5 1453.9L1372.96 1454.4L1373.42 1454.4L1373.88 1453.9L1374.34 1453.8L1374.8 1453.4L1375.26 1453.3L1375.72 1453.3L1376.18 1453.2L1376.64 1453.1L1377.1 1453.3L1377.56 1453.8L1378.02 1453.8L1378.48 1454.1L1378.94 1453.8L1379.4 1453.6L1379.86 1453.6L1380.32 1453.6L1380.78 1453.3L1381.24 1453.2L1381.7 1453.5L1382.16 1453.4L1382.62 1454L1383.08 1453.7L1383.54 1453.8L1384 1453.5L1384.46 1453.4L1384.92 1453.5L1385.38 1453.2L1385.84 1453.9L1386.3 1454L1386.76 1454.2L1387.22 1454.5L1387.68 1453.9L1388.14 1453.8L1388.6 1453.7L1389.06 1453.9L1389.52 1454.2L1389.98 1454.1L1390.44 1454L1390.9 1453.7L1391.36 1453.3L1391.82 1453.3L1392.28 1453.3L1392.74 1453.1L1393.2 1453.3L1393.66 1453.7L1394.12 1453.8L1394.58 1453.9L1395.04 1453.7L1395.5 1453.5L1395.96 1453.6L1396.42 1453.6L1396.88 1454.2L1397.34 1454.3L1397.8 1454.6L1398.26 1454.9L1398.72 1454.3L1399.18 1454.4L1399.64 1453.6L1400.1 1453.6L1400.56 1453.7L1401.02 1453.1L1401.48 1453.4L1401.94 1453.1L1402.4 1453.9L1402.86 1454.3L1403.32 1454.4L1403.78 1454.6L1404.24 1453.9L1404.7 1454.1L1405.16 1454.1L1405.62 1454.3L1406.08 1454.1L1406.54 1453.9L1407 1454L1407.46 1453.8L1407.92 1453.8L1408.38 1453.8L1408.84 1453.9L1409.3 1454.3L1409.76 1454.4L1410.22 1454.8L1410.68 1455.1L1411.14 1454.9L1411.6 1455L1412.06 1454.3L1412.52 1453.8L1412.98 1453.5L1413.44 1453.3L1413.9 1453.7L1414.36 1453.7L1414.82 1453.9L1415.28 1453.9L1415.74 1454.1L1416.2 1454.7L1416.66 1454.9L1417.12 1454.9L1417.58 1454.8L1418.04 1454L1418.5 1453.8L1418.96 1454L1419.42 1453.4L1419.88 1453.5L1420.34 1453.2L1420.8 1453.3L1421.26 1454L1421.72 1453.8L1422.18 1453.9L1422.64 1453.6L1423.1 1453.7L1423.56 1454.3L1424.02 1454.3L1424.48 1454.4L1424.94 1454L1425.4 1453.6L1425.86 1453.7L1426.32 1453.8L1426.78 1453.9L1427.24 1453.7L1427.7 1453.9L1428.16 1453.9L1428.62 1453.6L1429.08 1453.6L1429.54 1453.5L1430 1453.1L1430.46 1453.6L1430.92 1453.7L1431.38 1453.9L1431.84 1454.1L1432.3 1454.1L1432.76 1454.1L1433.22 1454.2L1433.68 1453.9L1434.14 1454.1L1434.6 1454.1L1435.06 1453.7L1435.52 1453.8L1435.98 1453.2L1436.44 1453.2L1436.9 1453.8L1437.36 1453.8L1437.82 1453.6L1438.28 1453.5L1438.74 1453.9L1439.2 1453.6L1439.66 1454.2L1440.12 1453.8L1440.58 1453.2L1441.04 1453.4L1441.5 1453.6L1441.96 1453.8L1442.42 1453.6L1442.88 1453.8L1443.34 1453.5L1443.8 1453.6L1444.26 1453.9L1444.72 1453.6L1445.18 1453.8L1445.64 1453.8L1446.1 1453.9L1446.56 1453.9L1447.02 1453.7L1447.48 1454L1447.94 1453.8L1448.4 1453.9L1448.86 1453.8L1449.32 1453.3L1449.78 1453.8L1450.24 1453.8L1450.7 1453.7L1451.16 1453.5L1451.62 1453L1452.08 1453.3L1452.54 1453.5L1453 1453.5L1453.46 1453.6L1453.92 1453.1L1454.38 1453.2L1454.84 1453.3L1455.3 1452.9L1455.76 1453.4L1456.22 1453.2L1456.68 1453.6L1457.14 1453.9L1457.6 1454.2L1458.06 1454.3L1458.52 1454.4L1458.98 1454.7L1459.44 1454L1459.9 1453.5L1460.36 1453L1460.82 1452.7L1461.28 1453.2L1461.74 1453.4L1462.2 1453.6L1462.66 1453.4L1463.12 1453.4L1463.58 1453.5L1464.04 1453.6L1464.5 1453.9L1464.96 1454.1L1465.42 1453.8L1465.88 1453.4L1466.34 1453.4L1466.8 1453.2L1467.26 1452.9L1467.72 1453.2L1468.18 1453.4L1468.64 1453.6L1469.1 1454L1469.56 1454.2L1470.02 1453.6L1470.48 1453.6L1470.94 1453.7L1471.4 1453.2L1471.86 1453.2L1472.32 1453.3L1472.78 1453.1L1473.24 1453.5L1473.7 1453.7L1474.16 1453.2L1474.62 1453.5L1475.08 1453.1L1475.54 1453.3L1476 1453.6L1476.46 1453.6L1476.92 1453.5L1477.38 1453.2L1477.84 1453.4L1478.3 1453.4L1478.76 1453.7L1479.22 1454L1479.68 1453.7L1480.14 1453.5L1480.6 1453.4L1481.06 1453.3L1481.52 1453.2L1481.98 1453.2L1482.44 1453L1482.9 1453L1483.36 1453.1L1483.82 1453.5L1484.28 1453.6L1484.74 1454.1L1485.2 1454.1L1485.66 1454L1486.12 1454.1L1486.58 1453.7L1487.04 1453.8L1487.5 1453.3L1487.96 1453.6L1488.42 1453.7L1488.88 1453.6L1489.34 1453.7L1489.8 1453.7L1490.26 1453.8L1490.72 1453.4L1491.18 1453.8L1491.64 1453.7L1492.1 1453.4L1492.56 1453.8L1493.02 1453.4L1493.48 1453.4L1493.94 1453.7L1494.4 1453.7L1494.86 1454.1L1495.32 1453.5L1495.78 1453.2L1496.24 1452.8L1496.7 1452.5L1497.16 1452.7L1497.62 1452.6L1498.08 1452.9L1498.54 1453.2L1499 1453.5L1499.46 1453.5L1499.92 1453.8L1500.38 1454L1500.84 1454.2L1501.3 1453.9L1501.76 1453.7L1502.22 1453.4L1502.68 1453.2L1503.14 1453.6L1503.6 1453L1504.06 1452.7L1504.52 1453L1504.98 1452.7L1505.44 1453.3L1505.9 1453.4L1506.36 1452.8L1506.82 1453.3L1507.28 1452.9L1507.74 1452.8L1508.2 1453L1508.66 1452.4L1509.12 1452.7L1509.58 1452.8L1510.04 1452.9L1510.5 1453.2L1510.96 1453.2L1511.42 1453.3L1511.88 1453.3L1512.34 1453.5L1512.8 1453.2L1513.26 1453.5L1513.72 1452.9L1514.18 1453.2L1514.64 1453.5L1515.1 1452.7L1515.56 1453.3L1516.02 1453.3L1516.48 1453.1L1516.94 1454L1517.4 1453.6L1517.86 1453.5L1518.32 1453.9L1518.78 1453.5L1519.24 1453.4L1519.7 1452.7L1520.16 1452.6L1520.62 1452.7L1521.08 1452.8L1521.54 1453.5L1522 1453.4L1522.46 1453L1522.92 1453L1523.38 1452.6L1523.84 1452.3L1524.3 1452.9L1524.76 1453.3L1525.22 1453.3L1525.68 1452.9L1526.14 1452.5L1526.6 1452.1L1527.06 1452.1L1527.52 1452.3L1527.98 1452.3L1528.44 1452.3L1528.9 1452.2L1529.36 1451.9L1529.82 1451.9L1530.28 1451.5L1530.74 1451.8L1531.2 1452.2L1531.66 1452.7L1532.12 1453.1L1532.58 1452.9L1533.04 1453L1533.5 1452.7L1533.96 1453L1534.42 1452.6L1534.88 1452.8L1535.34 1452.8L1535.8 1452.5L1536.26 1452.4L1536.72 1452.3L1537.18 1452.3L1537.64 1452.6L1538.1 1452.4L1538.56 1452.6L1539.02 1452.4L1539.48 1451.9L1539.94 1452.3L1540.4 1452L1540.86 1452.2L1541.32 1452.3L1541.78 1452.8L1542.24 1452.7L1542.7 1452.9L1543.16 1453.1L1543.62 1451.9L1544.08 1452.2L1544.54 1451.5L1545 1451.3L1545.46 1452L1545.92 1451.9L1546.38 1452.3L1546.84 1452.1L1547.3 1452.2L1547.76 1451.6L1548.22 1451.6L1548.68 1452.1L1549.14 1452L1549.6 1452.4L1550.06 1452.2L1550.52 1452.1L1550.98 1452.2L1551.44 1452.2L1551.9 1452.7L1552.36 1452.3L1552.82 1452L1553.28 1452L1553.74 1452.1L1554.2 1452.5L1554.66 1452.5L1555.12 1452.6L1555.58 1452.1L1556.04 1451.4L1556.5 1451.5L1556.96 1451.9L1557.42 1451.9L1557.88 1452.1L1558.34 1452.3L1558.8 1452L1559.26 1452.3L1559.72 1452.3L1560.18 1452.2L1560.64 1452.2L1561.1 1452.3L1561.56 1452.5L1562.02 1452.1L1562.48 1452.1L1562.94 1451.7L1563.4 1451.5L1563.86 1451.6L1564.32 1451.3L1564.78 1451.3L1565.24 1451.7L1565.7 1451.6L1566.16 1451.8L1566.62 1451.8L1567.08 1451.4L1567.54 1451.7L1568 1451.8L1568.46 1451.8L1568.92 1451.7L1569.38 1451.2L1569.84 1450.9L1570.3 1450.7L1570.76 1450.2L1571.22 1449.9L1571.68 1450.1L1572.14 1449.9L1572.6 1450.1L1573.06 1450.3L1573.52 1450L1573.98 1449.6L1574.44 1449.5L1574.9 1449.3L1575.36 1449L1575.82 1449.4L1576.28 1449.4L1576.74 1449.1L1577.2 1449.2L1577.66 1449.2L1578.12 1448.7L1578.58 1448.7L1579.04 1448.5L1579.5 1448.7L1579.96 1448.8L1580.42 1448.3L1580.88 1448.1L1581.34 1447.3L1581.8 1447.2L1582.26 1447L1582.72 1446.4L1583.18 1446.1L1583.64 1445.6L1584.1 1444.8L1584.56 1444L1585.02 1443.3L1585.48 1442.4L1585.94 1442L1586.4 1441.1L1586.86 1439.8L1587.32 1438.1L1587.78 1435.8L1588.24 1433.3L1588.7 1430.1L1589.16 1427.3L1589.62 1423.4L1590.08 1418.8L1590.54 1413.8L1591 1407.3L1591.46 1400.4L1591.92 1393L1592.38 1384.9L1592.84 1377.8L1593.3 1373.4L1593.76 1371.2L1594.22 1372L1594.68 1374.9L1595.14 1378L1595.6 1381.5L1596.06 1384.9L1596.52 1387.2L1596.98 1389.5L1597.44 1392.1L1597.9 1395.3L1598.36 1399.8L1598.82 1405L1599.28 1410.6L1599.74 1415.7L1600.2 1420.7L1600.66 1424.6L1601.12 1427.8L1601.58 1431.2L1602.04 1433.3L1602.5 1435.8L1602.96 1438L1603.42 1439.3L1603.88 1440.7L1604.34 1441.6L1604.8 1442.5L1605.26 1443.3L1605.72 1443.8L1606.18 1444.7L1606.64 1445.1L1607.1 1446L1607.56 1447L1608.02 1447.3L1608.48 1447.8L1608.94 1447.9L1609.4 1448.7L1609.86 1449L1610.32 1449.2L1610.78 1449.8L1611.24 1449.5L1611.7 1449.9L1612.16 1450.3L1612.62 1450.3L1613.08 1450.8L1613.54 1450.7L1614 1450.6L1614.46 1450.4L1614.92 1449.8L1615.38 1450.2L1615.84 1450.3L1616.3 1451L1616.76 1451.5L1617.22 1450.9L1617.68 1451.3L1618.14 1450.9L1618.6 1450.9L1619.06 1451L1619.52 1450.5L1619.98 1450.4L1620.44 1450.6L1620.9 1451.2L1621.36 1451.5L1621.82 1452.1L1622.28 1452.3L1622.74 1452.5L1623.2 1452.7L1623.66 1452.7L1624.12 1452.5L1624.58 1452.2L1625.04 1451.7L1625.5 1451.4L1625.96 1451.4L1626.42 1451.7L1626.88 1452.2L1627.34 1452.4L1627.8 1452.2L1628.26 1452.3L1628.72 1452.5L1629.18 1452.5L1629.64 1452.9L1630.1 1453L1630.56 1452.8L1631.02 1452.7L1631.48 1452.6L1631.94 1452.4L1632.4 1452.3L1632.86 1452.5L1633.32 1453.2L1633.78 1452.8L1634.24 1452.8L1634.7 1452.8L1635.16 1452.1L1635.62 1452.5L1636.08 1452.7L1636.54 1452.5L1637 1452.4L1637.46 1452.4L1637.92 1452L1638.38 1452.4L1638.84 1452.4L1639.3 1452.7L1639.76 1452.8L1640.22 1452.5L1640.68 1452.3L1641.14 1452.3L1641.6 1452.3L1642.06 1452.4L1642.52 1452.7L1642.98 1452.7L1643.44 1452.9L1643.9 1452.6L1644.36 1452.3L1644.82 1452.2L1645.28 1452.4L1645.74 1452.7L1646.2 1452.9L1646.66 1453.1L1647.12 1453L1647.58 1453.2L1648.04 1453.3L1648.5 1452.7L1648.96 1452.8L1649.42 1453L1649.88 1452.7L1650.34 1453.1L1650.8 1452.8L1651.26 1452.4L1651.72 1452.9L1652.18 1452.9L1652.64 1452.8L1653.1 1452.8L1653.56 1452.7L1654.02 1452.3L1654.48 1452.7L1654.94 1453L1655.4 1453.1L1655.86 1453.6L1656.32 1453.7L1656.78 1453.9L1657.24 1454.1L1657.7 1454.1L1658.16 1453.4L1658.62 1453.1L1659.08 1452.9L1659.54 1453.2L1660 1453.7L1660.46 1453.9L1660.92 1454.1L1661.38 1453.4L1661.84 1453.2L1662.3 1453.3L1662.76 1453.1L1663.22 1453.3L1663.68 1453.4L1664.14 1453.2L1664.6 1452.9L1665.06 1452.8L1665.52 1453L1665.98 1453.2L1666.44 1453.4L1666.9 1452.9L1667.36 1453.1L1667.82 1452.5L1668.28 1452.6L1668.74 1453.4L1669.2 1453.1L1669.66 1453.4L1670.12 1453.8L1670.58 1453.7L1671.04 1454L1671.5 1454L1671.96 1453.6L1672.42 1453.4L1672.88 1453.5L1673.34 1453.4L1673.8 1453.7L1674.26 1454L1674.72 1453.8L1675.18 1453.3L1675.64 1453.3L1676.1 1453.1L1676.56 1453.2L1677.02 1453.5L1677.48 1453.1L1677.94 1453.5L1678.4 1453.1L1678.86 1453.8L1679.32 1453.8L1679.78 1453.3L1680.24 1453.6L1680.7 1452.8L1681.16 1452.8L1681.62 1452.6L1682.08 1452.9L1682.54 1453.3L1683 1453.6L1683.46 1454L1683.92 1453.7L1684.38 1453.8L1684.84 1453.7L1685.3 1453.3L1685.76 1453.6L1686.22 1453.1L1686.68 1453.1L1687.14 1453L1687.6 1452.4L1688.06 1452.6L1688.52 1452.5L1688.98 1453L1689.44 1453.3L1689.9 1453.7L1690.36 1454.2L1690.82 1454.1L1691.28 1454.2L1691.74 1453.5L1692.2 1453.5L1692.66 1453.3L1693.12 1453L1693.58 1453.3L1694.04 1452.9L1694.5 1453.3L1694.96 1453.8L1695.42 1453.5L1695.88 1453.9L1696.34 1453.6L1696.8 1453.4L1697.26 1453.8L1697.72 1454L1698.18 1454.2L1698.64 1454L1699.1 1453.7L1699.56 1453.5L1700.02 1453.6L1700.48 1453.9L1700.94 1454L1701.4 1454.1L1701.86 1453.8L1702.32 1453.5L1702.78 1453.3L1703.24 1453.5L1703.7 1453L1704.16 1453.2L1704.62 1453.7L1705.08 1453.1L1705.54 1453.5L1706 1453.9L1706.46 1453.9L1706.92 1454.3L1707.38 1454.3L1707.84 1453.7L1708.3 1453.5L1708.76 1453.6L1709.22 1453.4L1709.68 1453.6L1710.14 1453.2L1710.6 1452.8L1711.06 1453.1L1711.52 1452.9L1711.98 1453.3L1712.44 1453.6L1712.9 1453.6L1713.36 1454L1713.82 1453.9L1714.28 1453.7L1714.74 1453.6L1715.2 1453.1L1715.66 1453.3L1716.12 1453.7L1716.58 1453.9L1717.04 1454.1L1717.5 1454.1L1717.96 1453.8L1718.42 1453.6L1718.88 1453.6L1719.34 1453.5L1719.8 1453.6L1720.26 1454.1L1720.72 1454.2L1721.18 1454L1721.64 1454L1722.1 1453.6L1722.56 1453.5L1723.02 1453.4L1723.48 1453.5L1723.94 1453.9L1724.4 1453.8L1724.86 1454.3L1725.32 1454.2L1725.78 1453.9L1726.24 1454.2L1726.7 1454L1727.16 1454.1L1727.62 1454.4L1728.08 1454.7L1728.54 1454.6L1729 1454.6L1729.46 1454.2L1729.92 1453.6L1730.38 1453.7L1730.84 1453.2L1731.3 1453.6L1731.76 1453.5L1732.22 1453L1732.68 1453.2L1733.14 1453.2L1733.6 1453.9L1734.06 1454.2L1734.52 1454.1L1734.98 1454.1L1735.44 1453.7L1735.9 1453.9L1736.36 1453.7L1736.82 1453.5L1737.28 1453.2L1737.74 1453L1738.2 1453.4L1738.66 1454L1739.12 1454.3L1739.58 1454.5L1740.04 1454.4L1740.5 1453.9L1740.96 1453.5L1741.42 1453.4L1741.88 1453.3L1742.34 1453.4L1742.8 1453.3L1743.26 1453.5L1743.72 1453.4L1744.18 1453.6L1744.64 1454.2L1745.1 1454.4L1745.56 1454.3L1746.02 1454.1L1746.48 1454L1746.94 1453.5L1747.4 1453.5L1747.86 1453.8L1748.32 1453.6L1748.78 1453.6L1749.24 1453.6L1749.7 1453L1750.16 1453L1750.62 1452.8L1751.08 1453.3L1751.54 1453.7L1752 1453.7L1752.46 1454L1752.92 1453.8L1753.38 1453.5L1753.84 1453.7L1754.3 1453.6L1754.76 1453.1L1755.22 1453.7L1755.68 1453.6L1756.14 1453.8L1756.6 1454.4L1757.06 1454.6L1757.52 1454.8L1757.98 1454.5L1758.44 1454.5L1758.9 1453.8L1759.36 1453.6L1759.82 1453.8L1760.28 1453.5L1760.74 1453.7L1761.2 1453.6L1761.66 1453.8L1762.12 1453.9L1762.58 1454.2L1763.04 1454L1763.5 1453.7L1763.96 1453.9L1764.42 1453.5L1764.88 1453.8L1765.34 1453.5L1765.8 1453.2L1766.26 1453.3L1766.72 1453.2L1767.18 1453.5L1767.64 1453.7L1768.1 1453.8L1768.56 1453.5L1769.02 1453.5L1769.48 1453.4L1769.94 1453.8L1770.4 1454.2L1770.86 1454.1L1771.32 1454.7L1771.78 1454.5L1772.24 1454.4L1772.7 1454.5L1773.16 1454L1773.62 1453.8L1774.08 1453.4L1774.54 1453.6L1775 1453.4L1775.46 1453.6L1775.92 1454.3L1776.38 1453.7L1776.84 1453.8L1777.3 1453.5L1777.76 1453.2L1778.22 1453.7L1778.68 1453.9L1779.14 1454.1L1779.6 1454.6L1780.06 1454.5L1780.52 1454.6L1780.98 1454.7L1781.44 1453.8L1781.9 1454L1782.36 1453.9L1782.82 1453.9L1783.28 1454.2L1783.74 1454L1784.2 1453.8L1784.66 1453.9L1785.12 1454L1785.58 1453.7L1786.04 1453.7L1786.5 1453.5L1786.96 1453.3L1787.42 1453.7L1787.88 1453.8L1788.34 1454L1788.8 1454.2L1789.26 1454L1789.72 1453.7L1790.18 1453.2L1790.64 1453.3L1791.1 1453.3L1791.56 1453.7L1792.02 1453.8L1792.48 1453.7L1792.94 1453.8L1793.4 1453.8L1793.86 1453.8L1794.32 1453.8L1794.78 1453.7L1795.24 1453.6L1795.7 1453.9L1796.16 1453.7L1796.62 1453.8L1797.08 1454L1797.54 1453.8L1798 1454.1L1798.46 1453.7L1798.92 1453.6L1799.38 1453.6L1799.84 1453.9L1800.3 1454.3L1800.76 1454.4L1801.22 1454.2L1801.68 1453.8L1802.14 1453.8L1802.6 1453.8L1803.06 1454.2L1803.52 1454.2L1803.98 1454.2L1804.44 1454.1L1804.9 1454.1L1805.36 1454.1L1805.82 1454.2L1806.28 1454.3L1806.74 1454.1L1807.2 1454.2L1807.66 1454L1808.12 1453.9L1808.58 1453.8L1809.04 1453.8L1809.5 1453.5L1809.96 1453.7L1810.42 1453.8L1810.88 1453.6L1811.34 1453.9L1811.8 1454.1L1812.26 1454.1L1812.72 1453.6L1813.18 1453.7L1813.64 1453.1L1814.1 1453.1L1814.56 1453.6L1815.02 1453.5L1815.48 1453.7L1815.94 1453.6L1816.4 1453.1L1816.86 1453.1L1817.32 1453.3L1817.78 1453.1L1818.24 1453.5L1818.7 1453.3L1819.16 1453.1L1819.62 1453.5L1820.08 1453.5L1820.54 1453.2L1821 1453.7L1821.46 1453.8L1821.92 1453.2L1822.38 1453.3L1822.84 1453.1L1823.3 1453.3L1823.76 1453.8L1824.22 1453.8L1824.68 1453.5L1825.14 1453.4L1825.6 1453.8L1826.06 1454.1L1826.52 1454.3L1826.98 1454L1827.44 1453.2L1827.9 1453.4L1828.36 1453.3L1828.82 1453.3L1829.28 1453.6L1829.74 1453L1830.2 1453.1L1830.66 1453.1L1831.12 1452.9L1831.58 1453.2L1832.04 1453.2L1832.5 1453L1832.96 1453.5L1833.42 1453.2L1833.88 1453.7L1834.34 1454.2L1834.8 1453.6L1835.26 1454.2L1835.72 1454L1836.18 1454.2L1836.64 1454.7L1837.1 1454.1L1837.56 1454L1838.02 1453.8L1838.48 1453.5L1838.94 1453.9L1839.4 1453.5L1839.86 1453.7L1840.32 1454.1L1840.78 1453.8L1841.24 1454.4L1841.7 1453.9L1842.16 1453.8L1842.62 1454.1L1843.08 1453.5L1843.54 1453.4L1844 1453.2L1844.46 1452.9L1844.92 1453.1L1845.38 1453.2L1845.84 1453L1846.3 1453.3L1846.76 1453.1L1847.22 1453.2L1847.68 1453.2L1848.14 1453L1848.6 1453.4L1849.06 1453.7L1849.52 1453.6L1849.98 1453.6L1850.44 1453.1L1850.9 1453L1851.36 1453.3L1851.82 1453.2L1852.28 1453.2L1852.74 1453.5L1853.2 1453.9L1853.66 1453.6L1854.12 1454.1L1854.58 1453.5L1855.04 1453.2L1855.5 1453.1L1855.96 1452.8L1856.42 1452.9L1856.88 1452.7L1857.34 1453.1L1857.8 1453.4L1858.26 1453.5L1858.72 1453.9L1859.18 1454.1L1859.64 1454L1860.1 1453.7L1860.56 1453.1L1861.02 1453L1861.48 1452.5L1861.94 1452.6L1862.4 1453.1L1862.86 1452.9L1863.32 1453.6L1863.78 1453.4L1864.24 1453.1L1864.7 1453L1865.16 1452.4L1865.62 1452.6L1866.08 1452.2L1866.54 1452.3L1867 1452.1L1867.46 1452.2L1867.92 1452.5L1868.38 1452.4L1868.84 1452.3L1869.3 1452.1L1869.76 1452.1L1870.22 1451.8L1870.68 1451.6L1871.14 1452L1871.6 1452.1L1872.06 1451.9L1872.52 1452.1L1872.98 1451.4L1873.44 1451.1L1873.9 1451.7L1874.36 1451.8L1874.82 1451.7L1875.28 1451.6L1875.74 1450.7L1876.2 1450.4L1876.66 1450.1L1877.12 1449.4L1877.58 1449.5L1878.04 1449.1L1878.5 1448.9L1878.96 1448.4L1879.42 1447.8L1879.88 1447L1880.34 1446.6L1880.8 1446.3L1881.26 1445.6L1881.72 1445.2L1882.18 1444.2L1882.64 1443.4L1883.1 1442.4L1883.56 1441.2L1884.02 1439.7L1884.48 1438.1L1884.94 1436.7L1885.4 1434.4L1885.86 1431.7L1886.32 1428.4L1886.78 1423.8L1887.24 1419.8L1887.7 1415L1888.16 1409.2L1888.62 1403.5L1889.08 1396.4L1889.54 1389.3L1890 1383L1890.46 1377.7L1890.92 1375L1891.38 1375.1L1891.84 1377.4L1892.3 1381.7L1892.76 1385.9L1893.22 1390.1L1893.68 1393.5L1894.14 1395.4L1894.6 1396.7L1895.06 1397.5L1895.52 1398L1895.98 1399.6L1896.44 1402.2L1896.9 1406.1L1897.36 1411L1897.82 1415.4L1898.28 1420.2L1898.74 1423.7L1899.2 1427L1899.66 1430.9L1900.12 1433.4L1900.58 1436.1L1901.04 1438.4L1901.5 1439.6L1901.96 1440.8L1902.42 1441.8L1902.88 1442.7L1903.34 1443.4L1903.8 1444.3L1904.26 1445.6L1904.72 1446.3L1905.18 1447.5L1905.64 1448.3L1906.1 1448.6L1906.56 1448.8L1907.02 1448.8L1907.48 1449.3L1907.94 1449L1908.4 1449.6L1908.86 1449.9L1909.32 1450L1909.78 1451.1L1910.24 1451.2L1910.7 1451.4L1911.16 1451.6L1911.62 1451.5L1912.08 1451L1912.54 1451.5L1913 1451.5L1913.46 1451.6L1913.92 1452.3L1914.38 1452.2L1914.84 1452.4L1915.3 1452.5L1915.76 1452.5L1916.22 1452.3L1916.68 1452.4L1917.14 1452.7L1917.6 1452.5L1918.06 1452.7L1918.52 1452.5L1918.98 1452.4L1919.44 1452.6L1919.9 1452.9L1920.36 1453L1920.82 1452.8L1921.28 1453.1L1921.74 1452.3L1922.2 1452.2L1922.66 1452.7L1923.12 1452.7L1923.58 1453.5L1924.04 1453.7L1924.5 1453.3L1924.96 1453L1925.42 1452.6L1925.88 1452.4L1926.34 1452.8L1926.8 1453.1L1927.26 1453.3L1927.72 1453.4L1928.18 1453.3L1928.64 1453.6L1929.1 1453.8L1929.56 1454.2L1930.02 1454L1930.48 1453.4L1930.94 1453.2L1931.4 1452.7L1931.86 1452.5L1932.32 1453.4L1932.78 1453.7L1933.24 1453.8L1933.7 1453.6L1934.16 1453.3L1934.62 1453.3L1935.08 1453.5L1935.54 1454L1936 1454L1936.46 1453.7L1936.92 1453.5L1937.38 1453.7L1937.84 1453.5L1938.3 1453.7L1938.76 1453.8L1939.22 1453.5L1939.68 1453.4L1940.14 1453.8L1940.6 1453.6L1941.06 1453.6L1941.52 1453.2L1941.98 1453L1942.44 1453.3L1942.9 1453.4L1943.36 1453.5L1943.82 1453.4L1944.28 1453.6L1944.74 1453.4L1945.2 1453.7L1945.66 1453.6L1946.12 1453.4L1946.58 1454L1947.04 1454L1947.5 1454.5L1947.96 1454.9L1948.42 1454.5L1948.88 1454.6L1949.34 1453.6L1949.8 1453.2L1950.26 1453.4L1950.72 1453.6L1951.18 1454L1951.64 1453.8L1952.1 1454L1952.56 1453.6L1953.02 1453.3L1953.48 1453.9L1953.94 1453.5L1954.4 1453.8L1954.86 1454.3L1955.32 1454.1L1955.78 1454.1L1956.24 1453.8L1956.7 1453.6L1957.16 1453.8L1957.62 1453.8L1958.08 1454.1L1958.54 1454.1L1959 1454L1959.46 1453.9L1959.92 1453.7L1960.38 1453.9L1960.84 1453.6L1961.3 1453.7L1961.76 1453.7L1962.22 1453.8L1962.68 1454.4L1963.14 1454.4L1963.6 1454.2L1964.06 1453.9L1964.52 1453.1L1964.98 1453L1965.44 1453.2L1965.9 1453.2L1966.36 1453.4L1966.82 1453.5L1967.28 1453.4L1967.74 1453.8L1968.2 1453.8L1968.66 1453.5L1969.12 1453.5L1969.58 1453.2L1970.04 1453L1970.5 1453.4L1970.96 1453.4L1971.42 1452.9L1971.88 1453L1972.34 1452.6L1972.8 1452.7L1973.26 1452.9L1973.72 1452.8L1974.18 1452.9L1974.64 1452.4L1975.1 1452.2L1975.56 1451.9L1976.02 1451.6L1976.48 1451.7L1976.94 1451.4L1977.4 1451.7L1977.86 1451.3L1978.32 1451.2L1978.78 1450.8L1979.24 1450L1979.7 1449.2L1980.16 1448.6L1980.62 1447.6L1981.08 1447L1981.54 1446.4L1982 1444.5L1982.46 1443L1982.92 1441.3L1983.38 1439.4L1983.84 1437.5L1984.3 1435.4L1984.76 1433.2L1985.22 1432L1985.68 1431.7L1986.14 1432.3L1986.6 1433.2L1987.06 1433.9L1987.52 1435.3L1987.98 1436.6L1988.44 1437.9L1988.9 1438.5L1989.36 1438.8L1989.82 1438.4L1990.28 1437.9L1990.74 1438.3L1991.2 1438.8L1991.66 1439.9L1992.12 1441.5L1992.58 1443L1993.04 1444L1993.5 1445.1L1993.96 1446.2L1994.42 1446.7L1994.88 1447.8L1995.34 1448.3L1995.8 1449.1L1996.26 1449.8L1996.72 1450L1997.18 1450.9L1997.64 1450.9L1998.1 1451.6L1998.56 1451.9L1999.02 1452L1999.48 1452.6L1999.94 1452.8L2000.4 1453.5L2000.86 1453.7L2001.32 1453.6L2001.78 1453.5L2002.24 1453.2L2002.7 1453.6L2003.16 1453.4L2003.62 1453.3L2004.08 1453.1L2004.54 1452.6L2005 1453L2005.46 1453.3L2005.92 1453.6L2006.38 1453.7L2006.84 1453.6L2007.3 1453.7L2007.76 1453.8L2008.22 1453.8L2008.68 1453.9L2009.14 1454.2L2009.6 1454L2010.06 1454.1L2010.52 1454.3L2010.98 1453.9L2011.44 1454.5L2011.9 1454.3L2012.36 1454L2012.82 1454L2013.28 1453.7L2013.74 1454L2014.2 1454.2L2014.66 1454.3L2015.12 1454.9L2015.58 1454.9L2016.04 1454.9L2016.5 1455.1L2016.96 1455.1L2017.42 1454.9L2017.88 1454.7L2018.34 1454.4L2018.8 1454.4L2019.26 1454.6L2019.72 1454.6L2020.18 1454.8L2020.64 1454.3L2021.1 1454L2021.56 1454L2022.02 1453.8L2022.48 1454.2L2022.94 1453.8L2023.4 1454.3L2023.86 1454.2L2024.32 1453.8L2024.78 1454.2L2025.24 1454L2025.7 1453.9L2026.16 1453.9L2026.62 1453.9L2027.08 1454.1L2027.54 1454.5L2028 1454.5L2028.46 1455L2028.92 1454.7L2029.38 1454.4L2029.84 1454.8L2030.3 1454.6L2030.76 1454.5L2031.22 1454.5L2031.68 1454.3L2032.14 1454.6L2032.6 1454.6L2033.06 1455.1L2033.52 1455.2L2033.98 1455L2034.44 1455.1L2034.9 1454.4L2035.36 1454.3L2035.82 1454.5L2036.28 1454.5L2036.74 1454.8L2037.2 1454.9L2037.66 1454.9L2038.12 1455L2038.58 1454.7L2039.04 1454.6L2039.5 1454.8L2039.96 1455.3L2040.42 1455.8L2040.88 1455.4L2041.34 1455L2041.8 1454.2L2042.26 1454L2042.72 1454.4L2043.18 1454.5L2043.64 1454.7L2044.1 1455L2044.56 1455.4L2045.02 1455.1L2045.48 1455.2L2045.94 1455.4L2046.4 1454.8L2046.86 1455.1L2047.32 1454.8L2047.78 1454.3L2048.24 1454.9L2048.7 1455.3L2049.16 1455.7L2049.62 1456L2050.08 1455.6L2050.54 1455.4L2051 1455.2L2051.46 1455.2L2051.92 1454.9L2052.38 1454.8L2052.84 1454.7L2053.3 1454.9L2053.76 1454.9L2054.22 1455L2054.68 1455.3L2055.14 1455.2L2055.6 1455.4L2056.06 1455.8L2056.52 1455.8L2056.98 1455.7L2057.44 1455.6L2057.9 1455L2058.36 1454.7L2058.82 1454.8L2059.28 1454.6L2059.74 1454.8L2060.2 1455L2060.66 1455.1L2061.12 1455.2L2061.58 1455.2L2062.04 1454.8L2062.5 1454.5L2062.96 1454.6L2063.42 1454.7L2063.88 1454.9L2064.34 1454.9L2064.8 1454.9L2065.26 1454.8L2065.72 1454.8L2066.18 1455.1L2066.64 1455.2L2067.1 1455.3L2067.56 1455.6L2068.02 1455.1L2068.48 1455L2068.94 1455.2L2069.4 1455.1L2069.86 1455.3L2070.32 1455.3L2070.78 1455.3L2071.24 1455L2071.7 1455L2072.16 1455.3L2072.62 1455.4L2073.08 1455.6L2073.54 1455.8L2074 1455.5L2074.46 1455.2L2074.92 1455.1L2075.38 1455.1L2075.84 1455.5L2076.3 1455.3L2076.76 1455.8L2077.22 1455.8L2077.68 1455.5L2078.14 1455.8L2078.6 1455.7L2079.06 1455.8L2079.52 1456L2079.98 1455.9L2080.44 1455.7L2080.9 1455.5L2081.36 1455.4L2081.82 1455.4L2082.28 1455L2082.74 1454.9L2083.2 1454.8L2083.66 1455L2084.12 1455.6L2084.58 1455.8L2085.04 1456L2085.5 1455.8L2085.96 1455.9L2086.42 1455.7L2086.88 1455.9L2087.34 1455.9L2087.8 1455.8L2088.26 1456L2088.72 1455.9L2089.18 1456.2L2089.64 1455.9L2090.1 1455.8L2090.56 1455.7L2091.02 1455.8L2091.48 1455.9L2091.94 1455.9L2092.4 1455.8L2092.86 1455.5L2093.32 1455.8L2093.78 1456L2094.24 1456L2094.7 1455.9L2095.16 1455.9L2095.62 1456.4L2096.08 1456L2096.54 1456.4L2097 1456.5L2097.46 1456.1L2097.92 1456.7L2098.38 1456.7L2098.84 1456.6L2099.3 1456.3L2099.76 1456.1L2100.22 1456.4L2100.68 1455.8L2101.14 1455.8L2101.6 1455.5L2102.06 1454.8L2102.52 1455L2102.98 1455.6L2103.44 1456.2L2103.9 1456.5L2104.36 1456.5L2104.82 1456.3L2105.28 1455.9L2105.74 1455.7L2106.2 1455.6L2106.66 1455L2107.12 1455.3L2107.58 1455.5L2108.04 1455.8L2108.5 1456.4L2108.96 1455.9L2109.42 1455.5L2109.88 1455.4L2110.34 1454.7L2110.8 1455.1L2111.26 1455.6L2111.72 1456L2112.18 1456.2L2112.64 1455.7L2113.1 1455.6L2113.56 1455.5L2114.02 1455.8L2114.48 1456L2114.94 1455.8L2115.4 1455.5L2115.86 1455.5L2116.32 1455.2L2116.78 1455.5L2117.24 1455.6L2117.7 1455.1L2118.16 1455.7L2118.62 1455.7L2119.08 1455.5L2119.54 1455.9L2120 1455.4L2120.46 1455.4L2120.92 1455.7L2121.38 1455.8L2121.84 1456.2L2122.3 1456.2L2122.76 1455.9L2123.22 1456L2123.68 1455.9L2124.14 1456.2L2124.6 1456.5L2125.06 1456.3L2125.52 1456.3L2125.98 1456.1L2126.44 1456.1L2126.9 1456.4L2127.36 1456.6L2127.82 1456.4L2128.28 1456L2128.74 1455.7L2129.2 1455.8L2129.66 1455.8L2130.12 1455.7L2130.58 1455.5L2131.04 1455.5L2131.5 1455.4L2131.96 1455.5L2132.42 1455.7L2132.88 1455.8L2133.34 1455.8L2133.8 1456.3L2134.26 1456.3L2134.72 1455.9L2135.18 1456L2135.64 1455.6L2136.1 1455.6L2136.56 1455.8L2137.02 1455.4L2137.48 1455.6L2137.94 1455.5L2138.4 1455.9L2138.86 1456L2139.32 1455.9L2139.78 1455.9L2140.24 1455.3L2140.7 1455.4L2141.16 1455.6L2141.62 1455.8L2142.08 1456L2142.54 1456L2143 1456.1L2143.46 1455.8L2143.92 1456.1L2144.38 1456.1L2144.84 1456L2145.3 1456.6L2145.76 1456.3L2146.22 1456.3L2146.68 1456.3L2147.14 1455.9L2147.6 1455.7L2148.06 1455.6L2148.52 1455.5L2148.98 1455.3L2149.44 1455.6L2149.9 1455.8L2150.36 1456.1L2150.82 1456.3L2151.28 1456.3L2151.74 1456.2L2152.2 1455.8L2152.66 1455.7L2153.12 1455.7L2153.58 1455.8L2154.04 1455.9L2154.5 1455.8L2154.96 1456.2L2155.42 1456.2L2155.88 1456L2156.34 1456L2156.8 1456L2157.26 1455.8L2157.72 1456.1L2158.18 1456.9L2158.64 1456.7L2159.1 1456.8L2159.56 1456.6L2160.02 1456L2160.48 1455.8L2160.94 1455.9L2161.4 1456.2L2161.86 1456.5L2162.32 1457.2L2162.78 1457L2163.24 1456.7L2163.7 1456.7L2164.16 1456.7L2164.62 1456.5L2165.08 1456.3L2165.54 1455.9L2166 1455.5L2166.46 1456.4L2166.92 1456.6L2167.38 1457L2167.84 1456.8L2168.3 1456.3L2168.76 1456.4L2169.22 1456.6L2169.68 1456.5L2170.14 1456.4L2170.6 1456.6L2171.06 1455.9L2171.52 1455.8L2171.98 1455.8L2172.44 1455.8L2172.9 1455.9L2173.36 1456.3L2173.82 1456.6L2174.28 1456.9L2174.74 1457L2175.2 1457.1L2175.66 1456.7L2176.12 1456.6L2176.58 1456.2L2177.04 1455.8L2177.5 1456L2180.5 1456.0" fill="none" stroke="#980000" stroke-width="9" stroke-linejoin="round" stroke-linecap="butt"/>
<path d="M222.5 961.8L222.96 961.6L223.42 960.2L223.88 959.2L224.34 959.3L224.8 959.3L225.26 961L225.72 961.3L226.18 961L226.64 960.8L227.1 960.5L227.56 960.7L228.02 961.7L228.48 961.5L228.94 961.2L229.4 961.4L229.86 962L230.32 962.8L230.78 963.1L231.24 963.4L231.7 962.5L232.16 963L232.62 964.3L233.08 964.2L233.54 964.5L234 964.6L234.46 963.5L234.92 963.2L235.38 962.9L235.84 962.5L236.3 962.7L236.76 962.9L237.22 963.1L237.68 963.4L238.14 963.8L238.6 964.2L239.06 965.3L239.52 964.5L239.98 965.3L240.44 965L240.9 963.6L241.36 964.3L241.82 963.5L242.28 964L242.74 963.9L243.2 963.9L243.66 963.8L244.12 962.1L244.58 962.1L245.04 962.4L245.5 963L245.96 965L246.42 966.4L246.88 966.9L247.34 967.2L247.8 967.9L248.26 967.8L248.72 968L249.18 968.7L249.64 967.6L250.1 969.2L250.56 969.2L251.02 969.3L251.48 971.7L251.94 970.8L252.4 971.3L252.86 972.5L253.32 971L253.78 971.6L254.24 972.5L254.7 972.2L255.16 973.5L255.62 974.2L256.08 975L256.54 975.7L257 976L257.46 975.8L257.92 975L258.38 973.7L258.84 974.1L259.3 973.7L259.76 974.9L260.22 977.3L260.68 976.7L261.14 977.6L261.6 977.1L262.06 976.9L262.52 977.3L262.98 977.8L263.44 978.1L263.9 977.7L264.36 979.2L264.82 979L265.28 979.5L265.74 980L266.2 980L266.66 980.1L267.12 980.9L267.58 981.2L268.04 981.5L268.5 982.4L268.96 981.1L269.42 980.7L269.88 980.9L270.34 981.1L270.8 982.2L271.26 983.8L271.72 984.7L272.18 984.9L272.64 986.2L273.1 984.3L273.56 982.2L274.02 982.9L274.48 981.9L274.94 983.5L275.4 985.1L275.86 984.8L276.32 985.5L276.78 985.4L277.24 984.5L277.7 984.9L278.16 984.8L278.62 985.9L279.08 986.3L279.54 986.4L280 986.2L280.46 985.3L280.92 987L281.38 987.4L281.84 987.6L282.3 987.9L282.76 987.6L283.22 987L283.68 987.3L284.14 988.3L284.6 988.5L285.06 989.2L285.52 989.2L285.98 988.5L286.44 987.3L286.9 988.1L287.36 988.7L287.82 989L288.28 989.4L288.74 988.6L289.2 988.9L289.66 989.2L290.12 989.8L290.58 990.6L291.04 991L291.5 990.7L291.96 990.9L292.42 990.3L292.88 989.3L293.34 990.3L293.8 991L294.26 991.9L294.72 992L295.18 991.2L295.64 991L296.1 990.8L296.56 991.7L297.02 992L297.48 992.5L297.94 993.8L298.4 994.7L298.86 996.1L299.32 995.9L299.78 995.6L300.24 994.7L300.7 994.5L301.16 994.3L301.62 993.7L302.08 993.7L302.54 993.7L303 994.1L303.46 994.6L303.92 994.4L304.38 994.2L304.84 993.4L305.3 994.2L305.76 994.8L306.22 994.9L306.68 995.6L307.14 994.2L307.6 993.6L308.06 993.6L308.52 994.4L308.98 994.7L309.44 995.1L309.9 995.2L310.36 993.7L310.82 993.5L311.28 993.7L311.74 993.7L312.2 994.4L312.66 996.1L313.12 996.2L313.58 996.5L314.04 997.5L314.5 997.6L314.96 997L315.42 996.7L315.88 996.5L316.34 995.1L316.8 995.5L317.26 995.1L317.72 994L318.18 994.1L318.64 994.7L319.1 995.9L319.56 997.3L320.02 997.9L320.48 997L320.94 996.4L321.4 995.6L321.86 995.8L322.32 996.7L322.78 996L323.24 996.3L323.7 995.3L324.16 995.1L324.62 996.1L325.08 996.1L325.54 997.8L326 997.1L326.46 997.2L326.92 997.4L327.38 996.6L327.84 997.9L328.3 997.3L328.76 997.4L329.22 997.8L329.68 997.1L330.14 997.4L330.6 997L331.06 996.6L331.52 997.5L331.98 997.9L332.44 998.6L332.9 999.4L333.36 999L333.82 998.9L334.28 998L334.74 997.2L335.2 996.9L335.66 997.1L336.12 997.2L336.58 997.6L337.04 998L337.5 997.7L337.96 998.1L338.42 998.7L338.88 999.3L339.34 999.2L339.8 999.2L340.26 998.5L340.72 997.8L341.18 998.8L341.64 999.1L342.1 999.8L342.56 1000.6L343.02 999.8L343.48 999.5L343.94 999L344.4 998.7L344.86 998.7L345.32 998.9L345.78 999.1L346.24 998.9L346.7 998.5L347.16 997.1L347.62 994.6L348.08 991.8L348.54 986.3L349 976.8L349.46 971.7L349.92 979.5L350.38 987.4L350.84 992.6L351.3 995L351.76 996.5L352.22 998.2L352.68 998.7L353.14 999.6L353.6 1000.2L354.06 1000.2L354.52 1000.4L354.98 1001.1L355.44 1001L355.9 1001.7L356.36 1001.4L356.82 1001.1L357.28 1001.4L357.74 1000.6L358.2 1000.1L358.66 1000.5L359.12 1000.1L359.58 1000.1L360.04 1001.1L360.5 1000.6L360.96 1001.2L361.42 1001.5L361.88 1001L362.34 1001.3L362.8 1000.9L363.26 1001.1L363.72 1001.8L364.18 1002L364.64 1002.2L365.1 1002.1L365.56 1001.8L366.02 1000.9L366.48 1000.7L366.94 1000.6L367.4 1000.3L367.86 1001L368.32 1001.1L368.78 1002L369.24 1002.8L369.7 1002.2L370.16 1002.4L370.62 1001.6L371.08 1001.3L371.54 1002L372 1002.2L372.46 1002.6L372.92 1002.7L373.38 1002.6L373.84 1001.6L374.3 1001.1L374.76 1000.7L375.22 1000.7L375.68 1001.1L376.14 1002L376.6 1002.2L377.06 1002.7L377.52 1002.9L377.98 1002.9L378.44 1002.7L378.9 1002.5L379.36 1002.2L379.82 1001.9L380.28 1002.7L380.74 1002.1L381.2 1002.2L381.66 1002.2L382.12 1001.7L382.58 1001.8L383.04 1002.3L383.5 1002.3L383.96 1002.7L384.42 1003.2L384.88 1002.6L385.34 1002.4L385.8 1002.5L386.26 1002L386.72 1002.2L387.18 1002.5L387.64 1002.5L388.1 1003L388.56 1002.8L389.02 1003.2L389.48 1002.9L389.94 1002.7L390.4 1003.1L390.86 1002.5L391.32 1002.3L391.78 1002.2L392.24 1002.6L392.7 1002.3L393.16 1002L393.62 1002.2L394.08 1002L394.54 1002.5L395 1003.5L395.46 1003.2L395.92 1003.2L396.38 1003.1L396.84 1003L397.3 1003.5L397.76 1003.2L398.22 1002.8L398.68 1002.5L399.14 1001.9L399.6 1002.4L400.06 1002.6L400.52 1002.6L400.98 1002.8L401.44 1002.9L401.9 1003L402.36 1003L402.82 1003.4L403.28 1003.1L403.74 1003.1L404.2 1003.5L404.66 1003.4L405.12 1003.5L405.58 1003.5L406.04 1003.5L406.5 1003.7L406.96 1003.6L407.42 1003.4L407.88 1003.2L408.34 1002.9L408.8 1003L409.26 1003.2L409.72 1003.3L410.18 1003.4L410.64 1003.1L411.1 1002.9L411.56 1003L412.02 1003.1L412.48 1003.3L412.94 1003.1L413.4 1002.8L413.86 1002.1L414.32 1002.5L414.78 1002.9L415.24 1002.9L415.7 1003.4L416.16 1002.9L416.62 1003.1L417.08 1003L417.54 1003.5L418 1004L418.46 1004.1L418.92 1003.7L419.38 1003.4L419.84 1002.9L420.3 1002.6L420.76 1002.5L421.22 1002.3L421.68 1002.4L422.14 1002.5L422.6 1003.1L423.06 1003.5L423.52 1004L423.98 1003.8L424.44 1003.4L424.9 1003.5L425.36 1003.2L425.82 1003.4L426.28 1003.9L426.74 1004.1L427.2 1004.5L427.66 1004.6L428.12 1004.5L428.58 1004.3L429.04 1004L429.5 1004.4L429.96 1004.3L430.42 1004.3L430.88 1003.8L431.34 1003.8L431.8 1004.3L432.26 1004.2L432.72 1005L433.18 1004.5L433.64 1004L434.1 1003.7L434.56 1003.6L435.02 1004.1L435.48 1003.9L435.94 1004.1L436.4 1003.9L436.86 1004.3L437.32 1004.6L437.78 1004.9L438.24 1005.1L438.7 1004.7L439.16 1004.6L439.62 1004.3L440.08 1004.1L440.54 1004.4L441 1004.6L441.46 1004.8L441.92 1004.7L442.38 1004.3L442.84 1004.3L443.3 1004.2L443.76 1004.8L444.22 1004.7L444.68 1004.6L445.14 1005L445.6 1004.9L446.06 1005.3L446.52 1005.3L446.98 1005L447.44 1005.1L447.9 1004.9L448.36 1005.2L448.82 1005.4L449.28 1005.3L449.74 1005.4L450.2 1005.3L450.66 1005L451.12 1005L451.58 1004.8L452.04 1005L452.5 1005.1L452.96 1005.4L453.42 1005.2L453.88 1004.9L454.34 1005.3L454.8 1005L455.26 1005.6L455.72 1005.2L456.18 1004.9L456.64 1005L457.1 1004.8L457.56 1004.9L458.02 1005.1L458.48 1004.5L458.94 1004.8L459.4 1005.2L459.86 1005.3L460.32 1005.8L460.78 1005.3L461.24 1005.1L461.7 1004.8L462.16 1005L462.62 1005.2L463.08 1005.4L463.54 1005.6L464 1005.8L464.46 1005.5L464.92 1005.3L465.38 1005.3L465.84 1005.2L466.3 1005.5L466.76 1005.5L467.22 1005.4L467.68 1005.2L468.14 1005.2L468.6 1005.2L469.06 1004.9L469.52 1004.8L469.98 1005.2L470.44 1005.1L470.9 1005.6L471.36 1006.1L471.82 1005.8L472.28 1006.5L472.74 1006.2L473.2 1006L473.66 1005.9L474.12 1005L474.58 1004.9L475.04 1004.8L475.5 1004.4L475.96 1004.4L476.42 1003.7L476.88 1002.3L477.34 1001.5L477.8 999.6L478.26 997.1L478.72 992.2L479.18 981.4L479.64 963.8L480.1 956L480.56 972.1L481.02 987L481.48 994.9L481.94 999.1L482.4 1001.4L482.86 1002.7L483.32 1003.7L483.78 1004.2L484.24 1004.3L484.7 1005.3L485.16 1005.3L485.62 1005.1L486.08 1005.2L486.54 1004.9L487 1004.8L487.46 1005.1L487.92 1005.4L488.38 1005.2L488.84 1005.9L489.3 1006.1L489.76 1006.1L490.22 1006.4L490.68 1006.3L491.14 1006.6L491.6 1006.4L492.06 1006.3L492.52 1006.6L492.98 1006.2L493.44 1006.3L493.9 1006.1L494.36 1005.6L494.82 1006.2L495.28 1006.4L495.74 1007.1L496.2 1007.4L496.66 1007L497.12 1006.9L497.58 1006.5L498.04 1006.4L498.5 1006.6L498.96 1006.5L499.42 1006.5L499.88 1006.6L500.34 1006.3L500.8 1006.5L501.26 1006.6L501.72 1006.6L502.18 1006.7L502.64 1006.7L503.1 1006.5L503.56 1006.5L504.02 1006.5L504.48 1006.2L504.94 1006.3L505.4 1006.3L505.86 1006.4L506.32 1006.6L506.78 1006.8L507.24 1006.8L507.7 1006.9L508.16 1007.5L508.62 1007.2L509.08 1007.2L509.54 1007.1L510 1006.9L510.46 1007.3L510.92 1007.3L511.38 1007.5L511.84 1007.1L512.3 1007L512.76 1006.7L513.22 1007L513.68 1007.4L514.14 1007L514.6 1006.7L515.06 1006.5L515.52 1006L515.98 1006.5L516.44 1006.8L516.9 1006.6L517.36 1006.6L517.82 1006.6L518.28 1006.9L518.74 1007.2L519.2 1007.2L519.66 1007.4L520.12 1007.5L520.58 1007.3L521.04 1007.1L521.5 1006.4L521.96 1006.7L522.42 1006.3L522.88 1006.6L523.34 1006.9L523.8 1006.5L524.26 1006.8L524.72 1006.6L525.18 1006.4L525.64 1006.9L526.1 1006.7L526.56 1007.2L527.02 1007.6L527.48 1007.7L527.94 1008L528.4 1007.5L528.86 1007.2L529.32 1006.8L529.78 1007L530.24 1007.5L530.7 1007.5L531.16 1007.8L531.62 1007.4L532.08 1007.5L532.54 1007.6L533 1007.8L533.46 1008L533.92 1008.1L534.38 1008.1L534.84 1008L535.3 1007.9L535.76 1007.9L536.22 1007.9L536.68 1007.8L537.14 1007.7L537.6 1007.5L538.06 1007.6L538.52 1007.1L538.98 1007.5L539.44 1007.1L539.9 1006.9L540.36 1007.4L540.82 1007.3L541.28 1007.9L541.74 1008L542.2 1008.1L542.66 1008.1L543.12 1008.6L543.58 1008.7L544.04 1008.3L544.5 1008L544.96 1007.6L545.42 1008.2L545.88 1008.6L546.34 1008.6L546.8 1008.6L547.26 1008L547.72 1007.9L548.18 1008.2L548.64 1007.8L549.1 1007.7L549.56 1008.3L550.02 1007.8L550.48 1008L550.94 1008.5L551.4 1008.1L551.86 1008.2L552.32 1008.2L552.78 1008L553.24 1007.7L553.7 1007.8L554.16 1007.6L554.62 1007.2L555.08 1007.8L555.54 1008L556 1008.2L556.46 1008.6L556.92 1008.2L557.38 1007.9L557.84 1008.3L558.3 1008.4L558.76 1008.4L559.22 1008.8L559.68 1008.9L560.14 1008.8L560.6 1009.1L561.06 1008.7L561.52 1008.4L561.98 1007.9L562.44 1008L562.9 1008.2L563.36 1008.6L563.82 1008.8L564.28 1008.8L564.74 1008.5L565.2 1008.1L565.66 1008.4L566.12 1008.3L566.58 1008.7L567.04 1008.4L567.5 1008.6L567.96 1008.7L568.42 1008.9L568.88 1009.6L569.34 1009.2L569.8 1009.1L570.26 1009.5L570.72 1009.1L571.18 1009.2L571.64 1009L572.1 1008.8L572.56 1009.1L573.02 1008.8L573.48 1008.8L573.94 1008L574.4 1007.5L574.86 1007.1L575.32 1007.1L575.78 1007.2L576.24 1007.7L576.7 1008.2L577.16 1008.4L577.62 1009.1L578.08 1008.8L578.54 1008.7L579 1008.9L579.46 1009L579.92 1009.1L580.38 1009L580.84 1008.7L581.3 1008.1L581.76 1008.4L582.22 1008.6L582.68 1008.6L583.14 1008.6L583.6 1008.1L584.06 1008L584.52 1008.2L584.98 1008.4L585.44 1008.6L585.9 1009.3L586.36 1009.4L586.82 1009.4L587.28 1009.7L587.74 1009.4L588.2 1009.4L588.66 1009.5L589.12 1009.4L589.58 1008.8L590.04 1008.7L590.5 1008.3L590.96 1008L591.42 1008.6L591.88 1008.2L592.34 1008.6L592.8 1008.8L593.26 1008.3L593.72 1008.6L594.18 1008.9L594.64 1009.4L595.1 1009.6L595.56 1010L596.02 1009.9L596.48 1009.3L596.94 1009.2L597.4 1009.1L597.86 1008.6L598.32 1008.5L598.78 1008.7L599.24 1008.3L599.7 1008L600.16 1008.2L600.62 1007.6L601.08 1007.8L601.54 1007.5L602 1006.9L602.46 1006.9L602.92 1006.7L603.38 1007L603.84 1007.5L604.3 1007.6L604.76 1007.5L605.22 1007.6L605.68 1008L606.14 1008.9L606.6 1008.8L607.06 1008.9L607.52 1008.7L607.98 1008.4L608.44 1009L608.9 1008.9L609.36 1008.7L609.82 1009L610.28 1009.1L610.74 1009.2L611.2 1009.5L611.66 1009.1L612.12 1008.6L612.58 1008.9L613.04 1008.8L613.5 1008.7L613.96 1008.9L614.42 1009.1L614.88 1009.4L615.34 1009.7L615.8 1009.8L616.26 1009.7L616.72 1009.7L617.18 1009.4L617.64 1009.3L618.1 1009L618.56 1008.9L619.02 1009.2L619.48 1008.8L619.94 1009.2L620.4 1009.2L620.86 1008.8L621.32 1009.5L621.78 1009.2L622.24 1009.1L622.7 1009.4L623.16 1009L623.62 1008.6L624.08 1007.8L624.54 1007.3L625 1006.9L625.46 1006.6L625.92 1006.8L626.38 1006.7L626.84 1006.1L627.3 1006.2L627.76 1006.1L628.22 1006.1L628.68 1006.9L629.14 1006.8L629.6 1007.4L630.06 1007.9L630.52 1008.7L630.98 1009.2L631.44 1009.2L631.9 1009.4L632.36 1008.5L632.82 1008.4L633.28 1008.4L633.74 1008.5L634.2 1008.5L634.66 1008.8L635.12 1009.2L635.58 1009.2L636.04 1009.7L636.5 1009.8L636.96 1009.3L637.42 1009.3L637.88 1009.6L638.34 1009.5L638.8 1009.4L639.26 1009.2L639.72 1009.5L640.18 1009.5L640.64 1009.5L641.1 1009.9L641.56 1009.5L642.02 1009.5L642.48 1009.4L642.94 1009.8L643.4 1009.8L643.86 1009.7L644.32 1010.3L644.78 1009.9L645.24 1009.7L645.7 1009.9L646.16 1009.3L646.62 1009.6L647.08 1009.8L647.54 1009.8L648 1010.4L648.46 1010.6L648.92 1010.8L649.38 1010.8L649.84 1010.6L650.3 1010.4L650.76 1009.9L651.22 1009.5L651.68 1009.7L652.14 1009.7L652.6 1010.1L653.06 1009.8L653.52 1009.8L653.98 1009.9L654.44 1009.7L654.9 1010.5L655.36 1010.2L655.82 1010.1L656.28 1010L656.74 1009.7L657.2 1009.7L657.66 1009.6L658.12 1009.8L658.58 1009.8L659.04 1010.1L659.5 1010L659.96 1010.2L660.42 1010L660.88 1010L661.34 1010.3L661.8 1009.9L662.26 1010.2L662.72 1010.3L663.18 1010.5L663.64 1010.7L664.1 1010.6L664.56 1010.4L665.02 1010.1L665.48 1010.2L665.94 1010.3L666.4 1010.2L666.86 1010L667.32 1009.7L667.78 1009.7L668.24 1009.6L668.7 1010.1L669.16 1010.1L669.62 1010.1L670.08 1010.3L670.54 1009.8L671 1010.2L671.46 1009.8L671.92 1009.6L672.38 1009L672.84 1008.1L673.3 1008.2L673.76 1007.7L674.22 1007.3L674.68 1006.5L675.14 1005.7L675.6 1005.7L676.06 1005.6L676.52 1006L676.98 1006.6L677.44 1007.1L677.9 1007.7L678.36 1008.1L678.82 1008.1L679.28 1008.8L679.74 1008.8L680.2 1009.5L680.66 1010L681.12 1009.6L681.58 1010.2L682.04 1009.9L682.5 1010.3L682.96 1010.2L683.42 1010.2L683.88 1010.6L684.34 1010.1L684.8 1010.8L685.26 1010.9L685.72 1010.1L686.18 1010.6L686.64 1010.6L687.1 1010.3L687.56 1010.7L688.02 1010.5L688.48 1009.6L688.94 1009.7L689.4 1009.9L689.86 1009.6L690.32 1010.3L690.78 1010.7L691.24 1010L691.7 1009.6L692.16 1009.1L692.62 1008.6L693.08 1009L693.54 1009.1L694 1008.8L694.46 1008.3L694.92 1008.3L695.38 1007.9L695.84 1007.6L696.3 1007.4L696.76 1006.3L697.22 1005.4L697.68 1004.7L698.14 1003.1L698.6 1001.4L699.06 999.8L699.52 998.3L699.98 997.6L700.44 998.3L700.9 999.9L701.36 1001.7L701.82 1003L702.28 1004.3L702.74 1005.2L703.2 1005.9L703.66 1007.3L704.12 1008.2L704.58 1008.7L705.04 1008.8L705.5 1008.9L705.96 1008.8L706.42 1009.5L706.88 1010L707.34 1010.1L707.8 1010.6L708.26 1010.2L708.72 1010.1L709.18 1010.1L709.64 1010.1L710.1 1010.6L710.56 1010.9L711.02 1011.2L711.48 1011L711.94 1010.8L712.4 1010.7L712.86 1010.8L713.32 1010.7L713.78 1010.6L714.24 1010.8L714.7 1010.7L715.16 1010.7L715.62 1010.7L716.08 1010.5L716.54 1010L717 1010.4L717.46 1010.6L717.92 1010.4L718.38 1010.5L718.84 1010.4L719.3 1010.2L719.76 1010.3L720.22 1010.8L720.68 1010.6L721.14 1010.6L721.6 1011L722.06 1010.5L722.52 1010.7L722.98 1010.8L723.44 1010.8L723.9 1010.8L724.36 1011.1L724.82 1011.1L725.28 1011.3L725.74 1011.5L726.2 1011.1L726.66 1010.9L727.12 1010.1L727.58 1009.9L728.04 1009.8L728.5 1009.9L728.96 1009.9L729.42 1009.3L729.88 1009.2L730.34 1008.5L730.8 1008.2L731.26 1008.4L731.72 1008.3L732.18 1008.2L732.64 1008.3L733.1 1008.5L733.56 1008.7L734.02 1009.4L734.48 1010L734.94 1009.5L735.4 1009.6L735.86 1009.4L736.32 1009.2L736.78 1009.7L737.24 1010L737.7 1010.6L738.16 1010.9L738.62 1011L739.08 1010.8L739.54 1010.8L740 1010.7L740.46 1010.2L740.92 1010.2L741.38 1009.9L741.84 1009.6L742.3 1010L742.76 1010.2L743.22 1010L743.68 1010L744.14 1009.8L744.6 1009.1L745.06 1008.8L745.52 1008.4L745.98 1008L746.44 1007.6L746.9 1007.4L747.36 1006.9L747.82 1006.2L748.28 1004.7L748.74 1002.7L749.2 1000.1L749.66 996.1L750.12 990.5L750.58 983.3L751.04 977L751.5 976.3L751.96 982L752.42 989.5L752.88 995.1L753.34 999L753.8 1001.8L754.26 1003.7L754.72 1004.8L755.18 1006.5L755.64 1007.4L756.1 1008L756.56 1008.8L757.02 1008.8L757.48 1009.5L757.94 1010L758.4 1010.5L758.86 1010.6L759.32 1010.3L759.78 1010.3L760.24 1010.1L760.7 1010L761.16 1010L761.62 1010L762.08 1010L762.54 1010.3L763 1010.5L763.46 1010.3L763.92 1010.6L764.38 1010.7L764.84 1010.8L765.3 1010.5L765.76 1010.9L766.22 1010.8L766.68 1010.7L767.14 1011L767.6 1010.6L768.06 1009.9L768.52 1009.8L768.98 1010L769.44 1010.2L769.9 1010.7L770.36 1010.2L770.82 1009.8L771.28 1009.6L771.74 1010.1L772.2 1010.2L772.66 1010.5L773.12 1010.7L773.58 1010.6L774.04 1010.9L774.5 1010.3L774.96 1010.3L775.42 1010.2L775.88 1010.3L776.34 1010.8L776.8 1010.5L777.26 1010.8L777.72 1010.7L778.18 1010.9L778.64 1010.9L779.1 1010.8L779.56 1010.5L780.02 1010.4L780.48 1010.6L780.94 1010.3L781.4 1010.9L781.86 1011.1L782.32 1011.3L782.78 1011.3L783.24 1011.1L783.7 1011.1L784.16 1010.3L784.62 1010.7L785.08 1010.5L785.54 1010.7L786 1011.5L786.46 1011.4L786.92 1011.6L787.38 1011.2L787.84 1010.4L788.3 1010.3L788.76 1010.2L789.22 1010.8L789.68 1011.2L790.14 1011.2L790.6 1011.2L791.06 1010.9L791.52 1010.8L791.98 1010.7L792.44 1010.3L792.9 1010.1L793.36 1010.1L793.82 1010.4L794.28 1010.9L794.74 1010.7L795.2 1011.1L795.66 1010.8L796.12 1011L796.58 1011L797.04 1009.8L797.5 1009.5L797.96 1008.9L798.42 1009L798.88 1009.3L799.34 1009.1L799.8 1008.8L800.26 1008.6L800.72 1008.5L801.18 1008.8L801.64 1009L802.1 1008.9L802.56 1008.7L803.02 1008.2L803.48 1007.8L803.94 1007.1L804.4 1007.1L804.86 1006.7L805.32 1006.5L805.78 1006.9L806.24 1006.7L806.7 1006.3L807.16 1006.1L807.62 1005.3L808.08 1004.8L808.54 1004.9L809 1004.3L809.46 1004.5L809.92 1004.5L810.38 1004.9L810.84 1005.4L811.3 1004.9L811.76 1005.1L812.22 1004.9L812.68 1005L813.14 1005.7L813.6 1006.3L814.06 1006.8L814.52 1007L814.98 1007.6L815.44 1008.1L815.9 1008.4L816.36 1009.2L816.82 1009.5L817.28 1009.4L817.74 1009.5L818.2 1009.4L818.66 1009.6L819.12 1010L819.58 1010.4L820.04 1010.8L820.5 1010.5L820.96 1010.3L821.42 1010.1L821.88 1010L822.34 1010.5L822.8 1011L823.26 1011.1L823.72 1010.9L824.18 1010.8L824.64 1010.5L825.1 1010.4L825.56 1010.8L826.02 1010.6L826.48 1010.7L826.94 1011.2L827.4 1010.8L827.86 1010.8L828.32 1010.6L828.78 1009.7L829.24 1010.1L829.7 1010.1L830.16 1010.2L830.62 1010.3L831.08 1009.4L831.54 1009.7L832 1009.7L832.46 1009.9L832.92 1010.8L833.38 1010.6L833.84 1010.7L834.3 1010.7L834.76 1010.7L835.22 1010.4L835.68 1010.2L836.14 1009.6L836.6 1009.3L837.06 1009.7L837.52 1009.7L837.98 1010.6L838.44 1010.8L838.9 1011L839.36 1011.1L839.82 1011L840.28 1010.6L840.74 1010.2L841.2 1010.1L841.66 1009.5L842.12 1009.9L842.58 1009.9L843.04 1009.6L843.5 1009.7L843.96 1009.1L844.42 1008.6L844.88 1008.7L845.34 1008.1L845.8 1007.7L846.26 1007.3L846.72 1006.4L847.18 1005.7L847.64 1004.9L848.1 1003.7L848.56 1002.8L849.02 1001.3L849.48 998.1L849.94 994.2L850.4 987.5L850.86 978.8L851.32 967.5L851.78 953.8L852.24 942.9L852.7 942.3L853.16 952.5L853.62 966L854.08 978L854.54 986.7L855 992.9L855.46 997L855.92 1000.3L856.38 1001.9L856.84 1002.9L857.3 1004.4L857.76 1005.3L858.22 1006.6L858.68 1007.5L859.14 1008.4L859.6 1008.5L860.06 1008.6L860.52 1009.1L860.98 1008.9L861.44 1008.8L861.9 1008.7L862.36 1008.6L862.82 1009.2L863.28 1009.7L863.74 1010.2L864.2 1010.5L864.66 1009.9L865.12 1009.9L865.58 1009.8L866.04 1009.9L866.5 1010.1L866.96 1010.2L867.42 1010.4L867.88 1010.2L868.34 1010.6L868.8 1010.4L869.26 1010.7L869.72 1010.7L870.18 1010L870.64 1010.4L871.1 1010.4L871.56 1010.6L872.02 1011.4L872.48 1011.3L872.94 1010.8L873.4 1010.2L873.86 1009.7L874.32 1009.5L874.78 1009.8L875.24 1010L875.7 1010L876.16 1010.4L876.62 1010.1L877.08 1010.3L877.54 1010.3L878 1010.3L878.46 1010.7L878.92 1011L879.38 1011.6L879.84 1011.5L880.3 1011.6L880.76 1011.5L881.22 1011.3L881.68 1011.3L882.14 1011.1L882.6 1010.8L883.06 1010.5L883.52 1010.3L883.98 1010L884.44 1010.3L884.9 1010.7L885.36 1011L885.82 1011.2L886.28 1011.3L886.74 1011.2L887.2 1010.7L887.66 1010.8L888.12 1011.1L888.58 1011.2L889.04 1011.6L889.5 1011.7L889.96 1010.9L890.42 1010.3L890.88 1010.1L891.34 1010.1L891.8 1010.6L892.26 1010.2L892.72 1010.1L893.18 1010.1L893.64 1009.8L894.1 1010.3L894.56 1010.5L895.02 1010.5L895.48 1010.7L895.94 1010.9L896.4 1011.1L896.86 1010.9L897.32 1010.7L897.78 1010.3L898.24 1010L898.7 1010L899.16 1009.9L899.62 1009.9L900.08 1010L900.54 1010.3L901 1010.7L901.46 1010.9L901.92 1011.1L902.38 1010.8L902.84 1010.8L903.3 1011L903.76 1010.9L904.22 1010.9L904.68 1011L905.14 1010.7L905.6 1010.6L906.06 1010.1L906.52 1009.8L906.98 1010.3L907.44 1010.2L907.9 1010.7L908.36 1010.7L908.82 1010.1L909.28 1010.3L909.74 1010.3L910.2 1010.6L910.66 1010.6L911.12 1010.5L911.58 1010.4L912.04 1010.1L912.5 1010.5L912.96 1010.3L913.42 1010.2L913.88 1010.9L914.34 1010.7L914.8 1010.8L915.26 1011L915.72 1010.2L916.18 1010.3L916.64 1010.1L917.1 1009.9L917.56 1010L918.02 1010.2L918.48 1010.6L918.94 1011.1L919.4 1011.6L919.86 1011.1L920.32 1011.1L920.78 1010.6L921.24 1010.1L921.7 1010.5L922.16 1010.7L922.62 1010.8L923.08 1011L923.54 1010.8L924 1010.5L924.46 1010.6L924.92 1010.3L925.38 1010.3L925.84 1010.1L926.3 1009.7L926.76 1009.9L927.22 1009.8L927.68 1010.2L928.14 1010.5L928.6 1010.6L929.06 1010.4L929.52 1010.3L929.98 1010.2L930.44 1010.2L930.9 1010.2L931.36 1010.4L931.82 1010.5L932.28 1010.6L932.74 1010.8L933.2 1010.3L933.66 1010.4L934.12 1009.9L934.58 1009.8L935.04 1009.7L935.5 1009.6L935.96 1009.9L936.42 1010.3L936.88 1009.9L937.34 1010.1L937.8 1010.2L938.26 1010.1L938.72 1010.4L939.18 1010.2L939.64 1010.1L940.1 1009.9L940.56 1009.6L941.02 1009.5L941.48 1009.6L941.94 1009.1L942.4 1009.4L942.86 1009.2L943.32 1009.3L943.78 1009.5L944.24 1009.6L944.7 1009.9L945.16 1009.5L945.62 1010L946.08 1010L946.54 1009.6L947 1009.5L947.46 1008.6L947.92 1008.8L948.38 1008.7L948.84 1008.8L949.3 1009.4L949.76 1009.3L950.22 1009.4L950.68 1009.1L951.14 1008.4L951.6 1008.4L952.06 1008.3L952.52 1008.6L952.98 1009.4L953.44 1009L953.9 1009L954.36 1009.5L954.82 1009.1L955.28 1009L955.74 1008.7L956.2 1008.4L956.66 1007.9L957.12 1008.2L957.58 1008.6L958.04 1008.3L958.5 1008.6L958.96 1008.4L959.42 1008.2L959.88 1008.2L960.34 1007.7L960.8 1007.7L961.26 1007.3L961.72 1007L962.18 1006.9L962.64 1006.4L963.1 1006.1L963.56 1006.2L964.02 1005.7L964.48 1005.8L964.94 1005.8L965.4 1005.3L965.86 1005.8L966.32 1005.7L966.78 1005.3L967.24 1005.2L967.7 1004.9L968.16 1004.1L968.62 1003.9L969.08 1003.5L969.54 1003L970 1003.4L970.46 1002.8L970.92 1002.3L971.38 1001.5L971.84 1000.5L972.3 1000.2L972.76 999.1L973.22 999L973.68 998.5L974.14 996.9L974.6 996.2L975.06 994.9L975.52 993.5L975.98 993L976.44 991.9L976.9 990.4L977.36 988.3L977.82 986L978.28 983.6L978.74 980.5L979.2 977.3L979.66 973.4L980.12 969.5L980.58 964.4L981.04 958.7L981.5 951.5L981.96 942L982.42 931.2L982.88 917.7L983.34 900.2L983.8 877.7L984.26 849L984.72 810.9L985.18 761.3L985.64 698L986.1 620.6L986.56 538.7L987.02 473L987.48 445.4L987.94 458.2L988.4 491.6L988.86 526.1L989.32 562L989.78 607.2L990.24 664.2L990.7 724.5L991.16 778.8L991.62 823.2L992.08 858.2L992.54 885.2L993 906L993.46 922.4L993.92 935.3L994.38 945.9L994.84 954.4L995.3 961.2L995.76 967L996.22 971.9L996.68 975.8L997.14 979.5L997.6 982.1L998.06 984.6L998.52 987L998.98 988.8L999.44 990.9L999.9 992L1000.36 993.6L1000.82 994.5L1001.28 995.7L1001.74 997.2L1002.2 997.5L1002.66 998.8L1003.12 999.2L1003.58 999.5L1004.04 1000.7L1004.5 1001.4L1004.96 1002.1L1005.42 1003.2L1005.88 1003.4L1006.34 1003.6L1006.8 1004.1L1007.26 1004L1007.72 1004.4L1008.18 1005.1L1008.64 1005.1L1009.1 1005.6L1009.56 1005.7L1010.02 1005.8L1010.48 1005.8L1010.94 1005.2L1011.4 1005.2L1011.86 1005L1012.32 1005.5L1012.78 1006.4L1013.24 1006.7L1013.7 1007.3L1014.16 1007.5L1014.62 1007.5L1015.08 1008.1L1015.54 1008.2L1016 1008.3L1016.46 1008.4L1016.92 1008.4L1017.38 1008.5L1017.84 1008.7L1018.3 1008.9L1018.76 1009L1019.22 1009.2L1019.68 1009L1020.14 1009.6L1020.6 1009L1021.06 1009L1021.52 1009.2L1021.98 1009L1022.44 1009.1L1022.9 1008.9L1023.36 1009L1023.82 1009.1L1024.28 1009.3L1024.74 1009.4L1025.2 1009.1L1025.66 1009.2L1026.12 1009.2L1026.58 1009.2L1027.04 1008.9L1027.5 1008.3L1027.96 1008.1L1028.42 1007.8L1028.88 1008.1L1029.34 1008.5L1029.8 1008.5L1030.26 1008.9L1030.72 1009L1031.18 1008.7L1031.64 1009.1L1032.1 1008.6L1032.56 1009.1L1033.02 1009.2L1033.48 1009.1L1033.94 1009.6L1034.4 1009.3L1034.86 1009.5L1035.32 1009.6L1035.78 1009.4L1036.24 1009.5L1036.7 1009.6L1037.16 1009.6L1037.62 1010.2L1038.08 1009.8L1038.54 1009.7L1039 1009.5L1039.46 1009.2L1039.92 1009.6L1040.38 1009.9L1040.84 1010.1L1041.3 1010.1L1041.76 1010.2L1042.22 1010.3L1042.68 1010.5L1043.14 1011L1043.6 1010.7L1044.06 1010.6L1044.52 1010.1L1044.98 1009.5L1045.44 1009.7L1045.9 1010L1046.36 1010.2L1046.82 1010.4L1047.28 1010.3L1047.74 1010.2L1048.2 1010.3L1048.66 1010.1L1049.12 1009.6L1049.58 1009.2L1050.04 1009.2L1050.5 1009.3L1050.96 1010.3L1051.42 1010.7L1051.88 1010.8L1052.34 1010.6L1052.8 1009.8L1053.26 1009.8L1053.72 1010L1054.18 1010.4L1054.64 1010.6L1055.1 1010.7L1055.56 1010.4L1056.02 1010.4L1056.48 1010.5L1056.94 1010.2L1057.4 1009.8L1057.86 1009.6L1058.32 1009.6L1058.78 1009.5L1059.24 1010.1L1059.7 1010.4L1060.16 1010.3L1060.62 1010.8L1061.08 1010.9L1061.54 1010.9L1062 1011L1062.46 1011.1L1062.92 1010.3L1063.38 1010.1L1063.84 1009.9L1064.3 1009.8L1064.76 1009.7L1065.22 1009.9L1065.68 1010L1066.14 1009.8L1066.6 1010L1067.06 1010.3L1067.52 1010.2L1067.98 1010L1068.44 1010.2L1068.9 1009.7L1069.36 1010L1069.82 1010.3L1070.28 1010.2L1070.74 1010.4L1071.2 1009.9L1071.66 1009.4L1072.12 1009.9L1072.58 1009.6L1073.04 1010.1L1073.5 1010.3L1073.96 1009.8L1074.42 1010L1074.88 1010.2L1075.34 1010.4L1075.8 1010.1L1076.26 1009.8L1076.72 1009.6L1077.18 1009.8L1077.64 1010.6L1078.1 1011.4L1078.56 1011L1079.02 1010.7L1079.48 1010L1079.94 1009.6L1080.4 1010.1L1080.86 1009.7L1081.32 1010.2L1081.78 1010.3L1082.24 1010L1082.7 1010.3L1083.16 1010.5L1083.62 1010.3L1084.08 1010.1L1084.54 1010.2L1085 1010.1L1085.46 1010.2L1085.92 1010L1086.38 1009.7L1086.84 1009.4L1087.3 1009.2L1087.76 1009.7L1088.22 1009.7L1088.68 1010L1089.14 1010L1089.6 1009.7L1090.06 1009.7L1090.52 1009.5L1090.98 1009L1091.44 1009.3L1091.9 1009.6L1092.36 1009.5L1092.82 1009.9L1093.28 1010.3L1093.74 1010.1L1094.2 1010.3L1094.66 1010L1095.12 1010L1095.58 1010.3L1096.04 1010.2L1096.5 1010.2L1096.96 1010L1097.42 1009.6L1097.88 1009.3L1098.34 1009.2L1098.8 1009L1099.26 1009.4L1099.72 1009.9L1100.18 1010.4L1100.64 1010.6L1101.1 1010.4L1101.56 1010.4L1102.02 1009.8L1102.48 1009.7L1102.94 1009.5L1103.4 1009.2L1103.86 1009.5L1104.32 1008.7L1104.78 1008.6L1105.24 1008.1L1105.7 1008.2L1106.16 1008.5L1106.62 1008.3L1107.08 1008.5L1107.54 1007.8L1108 1007.7L1108.46 1007.4L1108.92 1007.5L1109.38 1007.7L1109.84 1007.4L1110.3 1007.8L1110.76 1007.4L1111.22 1007.1L1111.68 1007.2L1112.14 1006.7L1112.6 1006.6L1113.06 1006.4L1113.52 1006.4L1113.98 1006.3L1114.44 1006.3L1114.9 1006.3L1115.36 1005.5L1115.82 1005.3L1116.28 1004.5L1116.74 1004L1117.2 1003.2L1117.66 1002.1L1118.12 1001.8L1118.58 1001.4L1119.04 1000.8L1119.5 1000.2L1119.96 999L1120.42 997.9L1120.88 996.8L1121.34 994.8L1121.8 993.1L1122.26 990.7L1122.72 988.4L1123.18 985.7L1123.64 982.5L1124.1 978.4L1124.56 973.7L1125.02 967.8L1125.48 959.7L1125.94 950.4L1126.4 938.3L1126.86 923L1127.32 904.3L1127.78 882L1128.24 857.6L1128.7 835.4L1129.16 820.6L1129.62 815.6L1130.08 820.2L1130.54 829.8L1131 839.5L1131.46 849.8L1131.92 861.8L1132.38 876.3L1132.84 893.8L1133.3 911.4L1133.76 927.5L1134.22 941.4L1134.68 952.8L1135.14 962.1L1135.6 969.6L1136.06 975.6L1136.52 980.4L1136.98 984.4L1137.44 987.8L1137.9 990.2L1138.36 992.6L1138.82 994.8L1139.28 996.3L1139.74 997.8L1140.2 999L1140.66 1000L1141.12 1000.5L1141.58 1001.4L1142.04 1001.6L1142.5 1002.3L1142.96 1003.4L1143.42 1004.2L1143.88 1004.7L1144.34 1004.9L1144.8 1004.9L1145.26 1005L1145.72 1005.7L1146.18 1006.2L1146.64 1006.8L1147.1 1006.9L1147.56 1007.2L1148.02 1007.2L1148.48 1007L1148.94 1007.3L1149.4 1007.4L1149.86 1008L1150.32 1008.1L1150.78 1007.9L1151.24 1007.9L1151.7 1007.9L1152.16 1008.1L1152.62 1008.5L1153.08 1008.3L1153.54 1008.5L1154 1008.9L1154.46 1008.8L1154.92 1008.9L1155.38 1009.2L1155.84 1009.2L1156.3 1009.3L1156.76 1009.4L1157.22 1008.8L1157.68 1008.7L1158.14 1008.9L1158.6 1009.1L1159.06 1010L1159.52 1009.9L1159.98 1009.9L1160.44 1009.9L1160.9 1009.4L1161.36 1009.7L1161.82 1009.6L1162.28 1009.6L1162.74 1010.1L1163.2 1009.7L1163.66 1009.4L1164.12 1009.4L1164.58 1008.7L1165.04 1008.6L1165.5 1008.8L1165.96 1008.8L1166.42 1008.5L1166.88 1008.4L1167.34 1007.6L1167.8 1007.4L1168.26 1007.1L1168.72 1006.9L1169.18 1007.2L1169.64 1006.6L1170.1 1006L1170.56 1004.2L1171.02 1002.7L1171.48 1000.3L1171.94 997.6L1172.4 994.3L1172.86 989.4L1173.32 984.9L1173.78 980.2L1174.24 978.6L1174.7 980.6L1175.16 985L1175.62 989.7L1176.08 994.7L1176.54 998.1L1177 1000.7L1177.46 1003.8L1177.92 1005.1L1178.38 1006.6L1178.84 1007.7L1179.3 1007.7L1179.76 1008.2L1180.22 1008.4L1180.68 1008.5L1181.14 1008.9L1181.6 1009L1182.06 1009.1L1182.52 1009.4L1182.98 1009.4L1183.44 1009.6L1183.9 1010.2L1184.36 1009.8L1184.82 1009.9L1185.28 1010.1L1185.74 1009.7L1186.2 1009.9L1186.66 1010.5L1187.12 1010.5L1187.58 1010.5L1188.04 1010.7L1188.5 1010.3L1188.96 1010.1L1189.42 1010.3L1189.88 1010.5L1190.34 1011L1190.8 1011.5L1191.26 1011.6L1191.72 1011.7L1192.18 1011.7L1192.64 1011.1L1193.1 1011.2L1193.56 1011.1L1194.02 1011.2L1194.48 1011.6L1194.94 1011.5L1195.4 1011.3L1195.86 1011.1L1196.32 1011.1L1196.78 1011.2L1197.24 1011.6L1197.7 1011.7L1198.16 1011.8L1198.62 1012L1199.08 1011.9L1199.54 1011.7L1200 1011.3L1200.46 1011L1200.92 1011.1L1201.38 1011.1L1201.84 1011.8L1202.3 1011.6L1202.76 1011.4L1203.22 1011.5L1203.68 1010.9L1204.14 1011.3L1204.6 1011.2L1205.06 1011L1205.52 1010.9L1205.98 1010.9L1206.44 1011.3L1206.9 1011.4L1207.36 1011.5L1207.82 1011.2L1208.28 1010.9L1208.74 1011L1209.2 1011.4L1209.66 1011.3L1210.12 1011.8L1210.58 1012L1211.04 1012.1L1211.5 1012.3L1211.96 1012L1212.42 1012.3L1212.88 1012L1213.34 1012.1L1213.8 1012.1L1214.26 1011.8L1214.72 1011.8L1215.18 1011.7L1215.64 1011.6L1216.1 1011.6L1216.56 1011.7L1217.02 1011.8L1217.48 1011.2L1217.94 1011.2L1218.4 1011.6L1218.86 1011.7L1219.32 1012.1L1219.78 1012.1L1220.24 1012L1220.7 1011.8L1221.16 1011.7L1221.62 1011.3L1222.08 1011.1L1222.54 1010.9L1223 1010.6L1223.46 1011.2L1223.92 1011L1224.38 1011.1L1224.84 1011.4L1225.3 1010.7L1225.76 1011.1L1226.22 1010.9L1226.68 1011.4L1227.14 1011.4L1227.6 1011.2L1228.06 1011.5L1228.52 1011.1L1228.98 1011.4L1229.44 1011.9L1229.9 1012.2L1230.36 1012.8L1230.82 1012.6L1231.28 1012.6L1231.74 1012.6L1232.2 1012L1232.66 1012L1233.12 1012.3L1233.58 1012.5L1234.04 1012.2L1234.5 1012.8L1234.96 1012.4L1235.42 1012.2L1235.88 1012.8L1236.34 1012.3L1236.8 1012.2L1237.26 1012.3L1237.72 1011.9L1238.18 1011.7L1238.64 1011.4L1239.1 1011.4L1239.56 1011.4L1240.02 1011.6L1240.48 1011.9L1240.94 1011.9L1241.4 1012.2L1241.86 1012.1L1242.32 1012.5L1242.78 1012.5L1243.24 1012.5L1243.7 1012.6L1244.16 1012.2L1244.62 1012L1245.08 1012L1245.54 1012.2L1246 1012.3L1246.46 1012.3L1246.92 1012.3L1247.38 1012.4L1247.84 1012.6L1248.3 1012.9L1248.76 1012.9L1249.22 1012.5L1249.68 1012.3L1250.14 1012.1L1250.6 1012.1L1251.06 1012.5L1251.52 1012.3L1251.98 1012.3L1252.44 1011.8L1252.9 1012.1L1253.36 1012.2L1253.82 1012.1L1254.28 1012.8L1254.74 1012.3L1255.2 1012.2L1255.66 1012.4L1256.12 1012.3L1256.58 1012.2L1257.04 1012.6L1257.5 1012.5L1257.96 1012.6L1258.42 1012.7L1258.88 1012.7L1259.34 1012.5L1259.8 1012.6L1260.26 1013L1260.72 1012.5L1261.18 1012.8L1261.64 1012.2L1262.1 1011.9L1262.56 1011.7L1263.02 1011.4L1263.48 1011.8L1263.94 1012.1L1264.4 1012.6L1264.86 1012.8L1265.32 1012.6L1265.78 1012.4L1266.24 1012.8L1266.7 1013.2L1267.16 1013.1L1267.62 1012.9L1268.08 1012.1L1268.54 1011.9L1269 1012.1L1269.46 1012L1269.92 1012.2L1270.38 1012L1270.84 1011.9L1271.3 1012.1L1271.76 1012.4L1272.22 1012.3L1272.68 1012.4L1273.14 1012.2L1273.6 1011.9L1274.06 1012.4L1274.52 1012.6L1274.98 1012.8L1275.44 1012.8L1275.9 1012.8L1276.36 1012.6L1276.82 1012.7L1277.28 1013.1L1277.74 1012.7L1278.2 1012.6L1278.66 1012.8L1279.12 1012.3L1279.58 1012.3L1280.04 1012.3L1280.5 1012.2L1280.96 1012.5L1281.42 1013L1281.88 1013.4L1282.34 1013.3L1282.8 1013.5L1283.26 1013.1L1283.72 1013L1284.18 1013.1L1284.64 1013.1L1285.1 1013.5L1285.56 1013.5L1286.02 1013.3L1286.48 1013.2L1286.94 1012.7L1287.4 1013L1287.86 1012.8L1288.32 1012.7L1288.78 1013L1289.24 1012.4L1289.7 1012.7L1290.16 1013L1290.62 1012.6L1291.08 1013L1291.54 1013.1L1292 1012.8L1292.46 1013.5L1292.92 1013.4L1293.38 1013.6L1293.84 1013.6L1294.3 1013.2L1294.76 1013L1295.22 1013.4L1295.68 1013.5L1296.14 1013.3L1296.6 1013.2L1297.06 1012.9L1297.52 1012.6L1297.98 1012.6L1298.44 1012.4L1298.9 1011.8L1299.36 1012.5L1299.82 1012.7L1300.28 1013.4L1300.74 1014.1L1301.2 1013.6L1301.66 1013.4L1302.12 1013.1L1302.58 1013L1303.04 1012.7L1303.5 1013.1L1303.96 1013.4L1304.42 1013.5L1304.88 1013.7L1305.34 1013.2L1305.8 1013.6L1306.26 1013.6L1306.72 1013.3L1307.18 1013.5L1307.64 1012.7L1308.1 1012.3L1308.56 1012.6L1309.02 1012.7L1309.48 1012.9L1309.94 1013L1310.4 1012.9L1310.86 1012.9L1311.32 1012.9L1311.78 1013L1312.24 1012.9L1312.7 1012.8L1313.16 1012.8L1313.62 1012.4L1314.08 1012.4L1314.54 1012.8L1315 1013.1L1315.46 1013.4L1315.92 1013.7L1316.38 1013.9L1316.84 1013.4L1317.3 1013.3L1317.76 1013.3L1318.22 1013.3L1318.68 1013.3L1319.14 1013.1L1319.6 1013.3L1320.06 1013.3L1320.52 1013.4L1320.98 1013.7L1321.44 1013.7L1321.9 1013.4L1322.36 1013.1L1322.82 1013.1L1323.28 1013.1L1323.74 1012.9L1324.2 1013.6L1324.66 1013.5L1325.12 1012.9L1325.58 1013.2L1326.04 1012.6L1326.5 1013L1326.96 1013.5L1327.42 1013.8L1327.88 1013.8L1328.34 1013.5L1328.8 1013.7L1329.26 1013.6L1329.72 1014.1L1330.18 1014.2L1330.64 1014L1331.1 1014L1331.56 1014.2L1332.02 1013.8L1332.48 1013.4L1332.94 1013.1L1333.4 1012.7L1333.86 1013.2L1334.32 1013.3L1334.78 1013.5L1335.24 1013.6L1335.7 1013.8L1336.16 1013.7L1336.62 1013.6L1337.08 1013.5L1337.54 1013.8L1338 1013.8L1338.46 1013.9L1338.92 1013.9L1339.38 1013.3L1339.84 1013.6L1340.3 1013.5L1340.76 1013.4L1341.22 1013.5L1341.68 1013.4L1342.14 1013.3L1342.6 1013.2L1343.06 1013.4L1343.52 1013.2L1343.98 1013.6L1344.44 1013.7L1344.9 1013.3L1345.36 1013.1L1345.82 1012.6L1346.28 1012.7L1346.74 1013.1L1347.2 1013.2L1347.66 1013.3L1348.12 1013.1L1348.58 1012.9L1349.04 1013.3L1349.5 1013.4L1349.96 1013.1L1350.42 1013.1L1350.88 1012.8L1351.34 1012.7L1351.8 1012.7L1352.26 1012.7L1352.72 1013.1L1353.18 1013.1L1353.64 1013.1L1354.1 1012.9L1354.56 1012.5L1355.02 1012.8L1355.48 1013.1L1355.94 1012.9L1356.4 1013L1356.86 1012.9L1357.32 1012.7L1357.78 1013.1L1358.24 1012.7L1358.7 1012.6L1359.16 1012.3L1359.62 1012.2L1360.08 1012.7L1360.54 1012.3L1361 1012.5L1361.46 1012.6L1361.92 1012.4L1362.38 1013.1L1362.84 1013L1363.3 1013.2L1363.76 1013.1L1364.22 1012.3L1364.68 1012.1L1365.14 1011.3L1365.6 1011.4L1366.06 1011.7L1366.52 1011.8L1366.98 1011.8L1367.44 1011.1L1367.9 1010.2L1368.36 1009L1368.82 1008.4L1369.28 1007.5L1369.74 1006.9L1370.2 1006.5L1370.66 1006L1371.12 1005.6L1371.58 1005.3L1372.04 1005.2L1372.5 1005.7L1372.96 1006.3L1373.42 1007.1L1373.88 1008.1L1374.34 1008.8L1374.8 1010.1L1375.26 1010.8L1375.72 1011.3L1376.18 1011.1L1376.64 1011.2L1377.1 1011.7L1377.56 1011.9L1378.02 1012.4L1378.48 1012.8L1378.94 1013.1L1379.4 1013.1L1379.86 1013.3L1380.32 1013L1380.78 1012.7L1381.24 1012.8L1381.7 1012.6L1382.16 1012.4L1382.62 1012.5L1383.08 1012.4L1383.54 1013L1384 1013.3L1384.46 1013.2L1384.92 1012.9L1385.38 1012.7L1385.84 1012.5L1386.3 1012.4L1386.76 1013.2L1387.22 1012.9L1387.68 1013.5L1388.14 1014.6L1388.6 1014.2L1389.06 1014.6L1389.52 1014.4L1389.98 1013.5L1390.44 1013.6L1390.9 1013.8L1391.36 1013.4L1391.82 1014L1392.28 1014L1392.74 1013.9L1393.2 1014.5L1393.66 1013.8L1394.12 1013.5L1394.58 1013.5L1395.04 1013.3L1395.5 1013.6L1395.96 1013.9L1396.42 1013.8L1396.88 1013.5L1397.34 1013.2L1397.8 1013.1L1398.26 1013.2L1398.72 1013.5L1399.18 1013.5L1399.64 1014.1L1400.1 1014.6L1400.56 1014.5L1401.02 1014.6L1401.48 1014.2L1401.94 1013.9L1402.4 1013.8L1402.86 1014.4L1403.32 1014.4L1403.78 1014.4L1404.24 1014.5L1404.7 1014.6L1405.16 1014.8L1405.62 1014.7L1406.08 1014.4L1406.54 1013.8L1407 1013.5L1407.46 1014.1L1407.92 1014.3L1408.38 1014.3L1408.84 1014.6L1409.3 1014L1409.76 1014.1L1410.22 1013.7L1410.68 1014L1411.14 1013.9L1411.6 1013.8L1412.06 1014.6L1412.52 1014.3L1412.98 1014.2L1413.44 1014L1413.9 1013.7L1414.36 1013.7L1414.82 1013.9L1415.28 1013.8L1415.74 1013.6L1416.2 1013.5L1416.66 1013.2L1417.12 1013.8L1417.58 1013.8L1418.04 1013.9L1418.5 1014.2L1418.96 1014.4L1419.42 1013.9L1419.88 1014.2L1420.34 1014L1420.8 1013.5L1421.26 1014.1L1421.72 1014L1422.18 1013.8L1422.64 1014.1L1423.1 1013.7L1423.56 1013.4L1424.02 1013.1L1424.48 1012.7L1424.94 1012.8L1425.4 1012.6L1425.86 1012.7L1426.32 1012.8L1426.78 1012.4L1427.24 1012.1L1427.7 1012.2L1428.16 1011.4L1428.62 1010.5L1429.08 1009.9L1429.54 1009L1430 1008.3L1430.46 1008.1L1430.92 1007.9L1431.38 1007.6L1431.84 1007.8L1432.3 1008.1L1432.76 1008.8L1433.22 1010L1433.68 1010.8L1434.14 1011.5L1434.6 1011.6L1435.06 1011.3L1435.52 1011.2L1435.98 1011.4L1436.44 1011.6L1436.9 1012.1L1437.36 1013L1437.82 1013.4L1438.28 1014.4L1438.74 1014.1L1439.2 1013.9L1439.66 1013.8L1440.12 1013.4L1440.58 1013.4L1441.04 1013.3L1441.5 1013.4L1441.96 1013.2L1442.42 1013.8L1442.88 1014L1443.34 1014.3L1443.8 1014.4L1444.26 1014L1444.72 1013.7L1445.18 1013.6L1445.64 1014L1446.1 1014.1L1446.56 1014.2L1447.02 1014.1L1447.48 1014L1447.94 1014.2L1448.4 1014.3L1448.86 1014.5L1449.32 1014.7L1449.78 1014.4L1450.24 1014.5L1450.7 1014.3L1451.16 1013.8L1451.62 1013.9L1452.08 1013.9L1452.54 1014.1L1453 1014.2L1453.46 1014.3L1453.92 1014.2L1454.38 1013.9L1454.84 1013.7L1455.3 1014L1455.76 1014L1456.22 1014.2L1456.68 1014.7L1457.14 1014.4L1457.6 1014.2L1458.06 1014L1458.52 1013.7L1458.98 1013.6L1459.44 1013.8L1459.9 1013.6L1460.36 1013.6L1460.82 1013.7L1461.28 1013.8L1461.74 1014.3L1462.2 1014.8L1462.66 1015.2L1463.12 1015.3L1463.58 1015.2L1464.04 1014.8L1464.5 1014.6L1464.96 1014.4L1465.42 1014.4L1465.88 1014.2L1466.34 1014.2L1466.8 1014.1L1467.26 1014L1467.72 1014.1L1468.18 1014.5L1468.64 1014.8L1469.1 1015.1L1469.56 1014.9L1470.02 1014.5L1470.48 1014.4L1470.94 1014.4L1471.4 1014.6L1471.86 1014.2L1472.32 1014.5L1472.78 1014.3L1473.24 1014.1L1473.7 1014.3L1474.16 1014L1474.62 1014.1L1475.08 1014.4L1475.54 1014.5L1476 1014.5L1476.46 1014.7L1476.92 1014.5L1477.38 1014.5L1477.84 1014.7L1478.3 1014.4L1478.76 1014.2L1479.22 1014.2L1479.68 1014.3L1480.14 1014.1L1480.6 1014.5L1481.06 1014.3L1481.52 1014.1L1481.98 1014.2L1482.44 1014.3L1482.9 1014.4L1483.36 1014.4L1483.82 1014.6L1484.28 1014.4L1484.74 1014.8L1485.2 1014.8L1485.66 1014.6L1486.12 1014.4L1486.58 1013.9L1487.04 1014.2L1487.5 1014.4L1487.96 1014.5L1488.42 1014.7L1488.88 1014L1489.34 1014.1L1489.8 1014.3L1490.26 1013.9L1490.72 1014.2L1491.18 1014L1491.64 1014.2L1492.1 1014.7L1492.56 1015.1L1493.02 1015.5L1493.48 1015.4L1493.94 1015.1L1494.4 1014.5L1494.86 1014.1L1495.32 1014.1L1495.78 1014.4L1496.24 1014.5L1496.7 1014.7L1497.16 1014.3L1497.62 1014.1L1498.08 1014.6L1498.54 1014.5L1499 1014.6L1499.46 1014.5L1499.92 1014.3L1500.38 1014.3L1500.84 1014.4L1501.3 1014.4L1501.76 1014.5L1502.22 1014.6L1502.68 1014.4L1503.14 1014.7L1503.6 1014.5L1504.06 1014.3L1504.52 1014.7L1504.98 1014.3L1505.44 1014.4L1505.9 1014.8L1506.36 1015L1506.82 1015.1L1507.28 1014.9L1507.74 1014.8L1508.2 1014.5L1508.66 1014.7L1509.12 1014.6L1509.58 1014.4L1510.04 1014L1510.5 1013.9L1510.96 1014.6L1511.42 1014.8L1511.88 1015.5L1512.34 1015.6L1512.8 1015.3L1513.26 1014.9L1513.72 1015L1514.18 1014.9L1514.64 1014.5L1515.1 1014.5L1515.56 1014.3L1516.02 1014.3L1516.48 1014.6L1516.94 1014.4L1517.4 1014L1517.86 1013.9L1518.32 1013.6L1518.78 1013.8L1519.24 1014.1L1519.7 1014.8L1520.16 1015.1L1520.62 1015L1521.08 1014.6L1521.54 1013.8L1522 1013.7L1522.46 1013.7L1522.92 1013.9L1523.38 1014L1523.84 1014.3L1524.3 1014.5L1524.76 1014.7L1525.22 1014.9L1525.68 1015L1526.14 1014.8L1526.6 1014.7L1527.06 1015.1L1527.52 1014.6L1527.98 1015.2L1528.44 1015L1528.9 1015L1529.36 1015L1529.82 1015.2L1530.28 1014.8L1530.74 1014.8L1531.2 1014.7L1531.66 1014.2L1532.12 1014.7L1532.58 1014.4L1533.04 1014.3L1533.5 1014.5L1533.96 1014.2L1534.42 1014.2L1534.88 1014.6L1535.34 1014.3L1535.8 1014.8L1536.26 1014.6L1536.72 1014.4L1537.18 1014.6L1537.64 1014L1538.1 1014.4L1538.56 1014.1L1539.02 1014.3L1539.48 1015L1539.94 1014.7L1540.4 1015L1540.86 1014.6L1541.32 1014L1541.78 1013.9L1542.24 1013.9L1542.7 1013.9L1543.16 1014.5L1543.62 1014.6L1544.08 1014.5L1544.54 1014.6L1545 1014.5L1545.46 1014.5L1545.92 1014.7L1546.38 1014.4L1546.84 1014.2L1547.3 1013.8L1547.76 1013.3L1548.22 1013.7L1548.68 1013.5L1549.14 1013.8L1549.6 1014.2L1550.06 1014.5L1550.52 1014.8L1550.98 1015.2L1551.44 1015.1L1551.9 1015L1552.36 1015.2L1552.82 1015.1L1553.28 1015L1553.74 1014.6L1554.2 1014.4L1554.66 1014.3L1555.12 1014.2L1555.58 1014.1L1556.04 1013.6L1556.5 1013.6L1556.96 1013.7L1557.42 1013.5L1557.88 1013.6L1558.34 1013.9L1558.8 1013.6L1559.26 1014L1559.72 1013.9L1560.18 1013.2L1560.64 1013.4L1561.1 1013.5L1561.56 1013.7L1562.02 1014.1L1562.48 1014.3L1562.94 1014.1L1563.4 1013.8L1563.86 1013.8L1564.32 1013.7L1564.78 1013.8L1565.24 1014.2L1565.7 1014.4L1566.16 1014L1566.62 1013.8L1567.08 1013.5L1567.54 1013.3L1568 1013L1568.46 1013.2L1568.92 1012.9L1569.38 1012.8L1569.84 1013L1570.3 1012.6L1570.76 1013L1571.22 1012.6L1571.68 1012.7L1572.14 1012.6L1572.6 1012.1L1573.06 1012.5L1573.52 1012L1573.98 1012.1L1574.44 1012.2L1574.9 1011.8L1575.36 1012.2L1575.82 1012L1576.28 1011.9L1576.74 1012L1577.2 1011.4L1577.66 1011.5L1578.12 1011.2L1578.58 1010.8L1579.04 1010.6L1579.5 1010.1L1579.96 1009.7L1580.42 1009.2L1580.88 1009.1L1581.34 1008.3L1581.8 1007.9L1582.26 1007.5L1582.72 1006.7L1583.18 1006.2L1583.64 1005.6L1584.1 1004.8L1584.56 1003.6L1585.02 1002.3L1585.48 1000.2L1585.94 998.4L1586.4 997L1586.86 994.8L1587.32 992.4L1587.78 989.3L1588.24 985.1L1588.7 980.9L1589.16 975.4L1589.62 967.4L1590.08 958.4L1590.54 946.6L1591 932.7L1591.46 917.8L1591.92 902.1L1592.38 889.9L1592.84 884L1593.3 886.4L1593.76 894.5L1594.22 904.4L1594.68 913L1595.14 918.6L1595.6 921.6L1596.06 922.6L1596.52 924.3L1596.98 927.7L1597.44 934.5L1597.9 943.5L1598.36 953.5L1598.82 963.2L1599.28 971.1L1599.74 977.9L1600.2 983.5L1600.66 988.1L1601.12 991.6L1601.58 995L1602.04 996.7L1602.5 998.6L1602.96 1000.5L1603.42 1001.7L1603.88 1003.2L1604.34 1004.2L1604.8 1005.2L1605.26 1006.1L1605.72 1006.9L1606.18 1007.5L1606.64 1008.2L1607.1 1008.9L1607.56 1010L1608.02 1010.3L1608.48 1010.5L1608.94 1010.5L1609.4 1010.5L1609.86 1010.6L1610.32 1010.6L1610.78 1011.1L1611.24 1011.3L1611.7 1011.4L1612.16 1011.7L1612.62 1011.4L1613.08 1011.6L1613.54 1012L1614 1012.3L1614.46 1012.6L1614.92 1012.8L1615.38 1012.8L1615.84 1012.5L1616.3 1012.7L1616.76 1012.3L1617.22 1012.5L1617.68 1012.5L1618.14 1012.6L1618.6 1013L1619.06 1012.8L1619.52 1013.2L1619.98 1013.4L1620.44 1013.3L1620.9 1013.9L1621.36 1013.7L1621.82 1013.5L1622.28 1013.3L1622.74 1012.6L1623.2 1012.8L1623.66 1013.2L1624.12 1013.6L1624.58 1014.4L1625.04 1014.8L1625.5 1014.2L1625.96 1014.3L1626.42 1014.6L1626.88 1014.2L1627.34 1015L1627.8 1014.8L1628.26 1014.3L1628.72 1013.9L1629.18 1013.7L1629.64 1013.9L1630.1 1014.2L1630.56 1014.7L1631.02 1014.8L1631.48 1014.6L1631.94 1014.1L1632.4 1014.1L1632.86 1014.1L1633.32 1014.8L1633.78 1015L1634.24 1015L1634.7 1014.5L1635.16 1013.6L1635.62 1013.4L1636.08 1013.7L1636.54 1014.2L1637 1014.6L1637.46 1014.7L1637.92 1014.5L1638.38 1014.6L1638.84 1014.8L1639.3 1014.9L1639.76 1014.9L1640.22 1014.8L1640.68 1014.8L1641.14 1014.9L1641.6 1014.8L1642.06 1014.4L1642.52 1014.3L1642.98 1014.3L1643.44 1014.3L1643.9 1014.5L1644.36 1014.3L1644.82 1014.5L1645.28 1014.4L1645.74 1014.4L1646.2 1014.6L1646.66 1014.1L1647.12 1014.4L1647.58 1014.1L1648.04 1014.2L1648.5 1014.4L1648.96 1014.2L1649.42 1014.3L1649.88 1014.6L1650.34 1014.9L1650.8 1015.1L1651.26 1015.2L1651.72 1014.7L1652.18 1014.9L1652.64 1014.3L1653.1 1014.1L1653.56 1014.5L1654.02 1014.2L1654.48 1014.3L1654.94 1014.6L1655.4 1014.2L1655.86 1014.2L1656.32 1014.4L1656.78 1014.2L1657.24 1014.6L1657.7 1014.3L1658.16 1013.5L1658.62 1013.5L1659.08 1013.1L1659.54 1013L1660 1013.4L1660.46 1013.3L1660.92 1013.1L1661.38 1013L1661.84 1013.3L1662.3 1013.2L1662.76 1013.3L1663.22 1013.5L1663.68 1013.7L1664.14 1014.1L1664.6 1014.5L1665.06 1014.8L1665.52 1014.8L1665.98 1014.7L1666.44 1015L1666.9 1015.2L1667.36 1015.4L1667.82 1015.3L1668.28 1015.3L1668.74 1014.8L1669.2 1014.6L1669.66 1015L1670.12 1015L1670.58 1015.5L1671.04 1015.5L1671.5 1015.6L1671.96 1015.2L1672.42 1014.7L1672.88 1014.9L1673.34 1014.9L1673.8 1015.1L1674.26 1015.7L1674.72 1015.9L1675.18 1015.7L1675.64 1015.7L1676.1 1015.5L1676.56 1014.7L1677.02 1015.1L1677.48 1015.2L1677.94 1015.2L1678.4 1015.6L1678.86 1015.3L1679.32 1015.4L1679.78 1015.2L1680.24 1015.3L1680.7 1015.3L1681.16 1015.3L1681.62 1015.8L1682.08 1015.7L1682.54 1015.8L1683 1015.2L1683.46 1014.7L1683.92 1014.7L1684.38 1014.8L1684.84 1015.1L1685.3 1015.1L1685.76 1014.8L1686.22 1014.1L1686.68 1014L1687.14 1013.7L1687.6 1013.5L1688.06 1013.9L1688.52 1014.1L1688.98 1014.4L1689.44 1014.9L1689.9 1015.5L1690.36 1015.4L1690.82 1015.8L1691.28 1015.4L1691.74 1014.9L1692.2 1014.4L1692.66 1014.4L1693.12 1014.8L1693.58 1015.2L1694.04 1015.6L1694.5 1015.5L1694.96 1015.2L1695.42 1015L1695.88 1015.3L1696.34 1015.3L1696.8 1015.7L1697.26 1015.6L1697.72 1015.5L1698.18 1015.4L1698.64 1015L1699.1 1015L1699.56 1015.1L1700.02 1015.1L1700.48 1015.3L1700.94 1015.1L1701.4 1015.1L1701.86 1014.9L1702.32 1014.9L1702.78 1015.2L1703.24 1015.3L1703.7 1015.3L1704.16 1015.3L1704.62 1015.3L1705.08 1015L1705.54 1015.5L1706 1015.8L1706.46 1015.7L1706.92 1015.5L1707.38 1015.3L1707.84 1015.2L1708.3 1014.8L1708.76 1014.9L1709.22 1014.7L1709.68 1014.8L1710.14 1014.7L1710.6 1014.8L1711.06 1014.9L1711.52 1015.2L1711.98 1015.7L1712.44 1015.8L1712.9 1015.7L1713.36 1015.3L1713.82 1015.4L1714.28 1015.3L1714.74 1015.4L1715.2 1015.7L1715.66 1015.6L1716.12 1015.7L1716.58 1016.1L1717.04 1015.5L1717.5 1015.5L1717.96 1015.3L1718.42 1015.1L1718.88 1015.5L1719.34 1015.6L1719.8 1015.7L1720.26 1015.5L1720.72 1015.3L1721.18 1015.5L1721.64 1015.6L1722.1 1015.9L1722.56 1016.3L1723.02 1016L1723.48 1016.3L1723.94 1016.2L1724.4 1015.8L1724.86 1015.4L1725.32 1014.8L1725.78 1014.7L1726.24 1014.3L1726.7 1015.1L1727.16 1015.1L1727.62 1015L1728.08 1015.3L1728.54 1014.9L1729 1015.1L1729.46 1014.8L1729.92 1014.9L1730.38 1014.9L1730.84 1015L1731.3 1015L1731.76 1015.5L1732.22 1016L1732.68 1015.6L1733.14 1015.5L1733.6 1015L1734.06 1014.7L1734.52 1015.1L1734.98 1015.5L1735.44 1015.8L1735.9 1015.7L1736.36 1015.3L1736.82 1015L1737.28 1014.7L1737.74 1014.6L1738.2 1015.3L1738.66 1015.4L1739.12 1015.8L1739.58 1016.1L1740.04 1015.4L1740.5 1015.2L1740.96 1014.9L1741.42 1014.8L1741.88 1014.9L1742.34 1015.5L1742.8 1015.4L1743.26 1015.2L1743.72 1015.3L1744.18 1015.5L1744.64 1015.8L1745.1 1016.4L1745.56 1016.2L1746.02 1016L1746.48 1016L1746.94 1016.1L1747.4 1016.1L1747.86 1016L1748.32 1015.7L1748.78 1014.9L1749.24 1015.2L1749.7 1015.3L1750.16 1015.2L1750.62 1015.7L1751.08 1015.5L1751.54 1015.4L1752 1016L1752.46 1016L1752.92 1016.3L1753.38 1016.6L1753.84 1016.3L1754.3 1016.1L1754.76 1016.2L1755.22 1016.2L1755.68 1015.9L1756.14 1015.7L1756.6 1015.3L1757.06 1014.7L1757.52 1015.3L1757.98 1015.4L1758.44 1015.6L1758.9 1015.8L1759.36 1015.6L1759.82 1015.7L1760.28 1015.8L1760.74 1015.5L1761.2 1015.4L1761.66 1015.2L1762.12 1015.1L1762.58 1015.7L1763.04 1015.8L1763.5 1015.9L1763.96 1016.2L1764.42 1016.3L1764.88 1016.3L1765.34 1016.2L1765.8 1016.2L1766.26 1015.9L1766.72 1015.5L1767.18 1015.8L1767.64 1015.3L1768.1 1015.2L1768.56 1015.1L1769.02 1014.7L1769.48 1015L1769.94 1014.6L1770.4 1014.9L1770.86 1015.3L1771.32 1015.3L1771.78 1015.8L1772.24 1015.4L1772.7 1015.2L1773.16 1015.2L1773.62 1015.5L1774.08 1015.8L1774.54 1015.4L1775 1015.1L1775.46 1014.6L1775.92 1014.7L1776.38 1015.2L1776.84 1015.3L1777.3 1015.5L1777.76 1015L1778.22 1014.8L1778.68 1015L1779.14 1014.8L1779.6 1015L1780.06 1014.8L1780.52 1014.5L1780.98 1014.8L1781.44 1014.6L1781.9 1014.9L1782.36 1014.8L1782.82 1015.2L1783.28 1015.5L1783.74 1015.5L1784.2 1015.4L1784.66 1015.1L1785.12 1015.2L1785.58 1015.1L1786.04 1015.8L1786.5 1015.5L1786.96 1015.4L1787.42 1015.8L1787.88 1015.4L1788.34 1015.6L1788.8 1015.5L1789.26 1015L1789.72 1015.4L1790.18 1015.4L1790.64 1015.8L1791.1 1016.2L1791.56 1015.9L1792.02 1015.9L1792.48 1015.6L1792.94 1015.3L1793.4 1015.4L1793.86 1014.8L1794.32 1014.9L1794.78 1014.8L1795.24 1014.7L1795.7 1014.9L1796.16 1015.2L1796.62 1015.5L1797.08 1015.4L1797.54 1015.8L1798 1015.1L1798.46 1014.6L1798.92 1014.9L1799.38 1015.1L1799.84 1015.5L1800.3 1016L1800.76 1015.9L1801.22 1015.9L1801.68 1015.8L1802.14 1015.3L1802.6 1015.1L1803.06 1014.8L1803.52 1015L1803.98 1015.2L1804.44 1015.6L1804.9 1015.3L1805.36 1015.2L1805.82 1015.1L1806.28 1014.8L1806.74 1015L1807.2 1015.2L1807.66 1015.8L1808.12 1015.4L1808.58 1015.4L1809.04 1015.3L1809.5 1014.7L1809.96 1015.2L1810.42 1015.2L1810.88 1015.3L1811.34 1015.3L1811.8 1015.5L1812.26 1015.5L1812.72 1015.4L1813.18 1015.4L1813.64 1015.2L1814.1 1015.3L1814.56 1015.8L1815.02 1016.2L1815.48 1016.3L1815.94 1016.3L1816.4 1015.6L1816.86 1015.6L1817.32 1015.3L1817.78 1015.1L1818.24 1015.4L1818.7 1015.1L1819.16 1015.1L1819.62 1015.9L1820.08 1015.5L1820.54 1015.5L1821 1015.4L1821.46 1014.9L1821.92 1015.3L1822.38 1015.9L1822.84 1016.5L1823.3 1016.6L1823.76 1016.4L1824.22 1016.1L1824.68 1015.8L1825.14 1015.8L1825.6 1015.5L1826.06 1015.4L1826.52 1015.1L1826.98 1014.9L1827.44 1014.8L1827.9 1014.4L1828.36 1015L1828.82 1015.2L1829.28 1015.3L1829.74 1015.8L1830.2 1015.1L1830.66 1015L1831.12 1014.9L1831.58 1014.8L1832.04 1015.4L1832.5 1015.4L1832.96 1015.5L1833.42 1015.3L1833.88 1015.3L1834.34 1015.4L1834.8 1015.9L1835.26 1016.1L1835.72 1015.9L1836.18 1015.7L1836.64 1015L1837.1 1015.1L1837.56 1015L1838.02 1015.4L1838.48 1015.8L1838.94 1015.5L1839.4 1015.5L1839.86 1015.5L1840.32 1015.5L1840.78 1015.8L1841.24 1015.7L1841.7 1015.6L1842.16 1015.2L1842.62 1015.5L1843.08 1015.6L1843.54 1015.6L1844 1015.7L1844.46 1015L1844.92 1015.2L1845.38 1015L1845.84 1015.1L1846.3 1015.4L1846.76 1015.3L1847.22 1015.3L1847.68 1015.4L1848.14 1015.3L1848.6 1015L1849.06 1014.6L1849.52 1014.2L1849.98 1014.1L1850.44 1014.6L1850.9 1015L1851.36 1015.2L1851.82 1014.9L1852.28 1014.8L1852.74 1015.3L1853.2 1015.1L1853.66 1015.3L1854.12 1015.6L1854.58 1015.1L1855.04 1015.1L1855.5 1015.1L1855.96 1014.7L1856.42 1014.7L1856.88 1014.9L1857.34 1015.1L1857.8 1014.8L1858.26 1015.1L1858.72 1014.9L1859.18 1014.9L1859.64 1015.3L1860.1 1015.1L1860.56 1015.1L1861.02 1014.6L1861.48 1014L1861.94 1014.1L1862.4 1013.8L1862.86 1014L1863.32 1014.1L1863.78 1014.2L1864.24 1014.4L1864.7 1014.6L1865.16 1014.6L1865.62 1014.7L1866.08 1014.7L1866.54 1014.2L1867 1013.9L1867.46 1013.6L1867.92 1013.4L1868.38 1013.5L1868.84 1013.3L1869.3 1012.4L1869.76 1012.4L1870.22 1011.9L1870.68 1011.3L1871.14 1011.2L1871.6 1009.7L1872.06 1008.8L1872.52 1007.9L1872.98 1006.8L1873.44 1006.2L1873.9 1005.1L1874.36 1004.3L1874.82 1003.3L1875.28 1002.6L1875.74 1002L1876.2 1001.8L1876.66 1001.7L1877.12 1001.5L1877.58 1001.4L1878.04 1001.3L1878.5 1001.9L1878.96 1002.1L1879.42 1002.5L1879.88 1002.7L1880.34 1002.7L1880.8 1003L1881.26 1003L1881.72 1003L1882.18 1002.8L1882.64 1002.6L1883.1 1002L1883.56 1001.3L1884.02 999.8L1884.48 997.2L1884.94 994.7L1885.4 992L1885.86 988.6L1886.32 985L1886.78 979.8L1887.24 973.5L1887.7 966.4L1888.16 957.2L1888.62 946.6L1889.08 933.5L1889.54 919.2L1890 906.3L1890.46 896.3L1890.92 893.1L1891.38 896.5L1891.84 905.2L1892.3 915.6L1892.76 925.5L1893.22 933L1893.68 937.9L1894.14 940.1L1894.6 940L1895.06 938.8L1895.52 937.7L1895.98 939.2L1896.44 942.9L1896.9 950L1897.36 957.8L1897.82 965.9L1898.28 973.2L1898.74 979.5L1899.2 984.9L1899.66 989.2L1900.12 993.2L1900.58 996L1901.04 997.8L1901.5 999.8L1901.96 1001.3L1902.42 1002.5L1902.88 1004.6L1903.34 1005.5L1903.8 1006.5L1904.26 1007.1L1904.72 1007.6L1905.18 1008.4L1905.64 1009.2L1906.1 1010.4L1906.56 1010.1L1907.02 1010.1L1907.48 1010.1L1907.94 1010L1908.4 1010.6L1908.86 1011.4L1909.32 1011.8L1909.78 1011.7L1910.24 1012.1L1910.7 1011.9L1911.16 1011.8L1911.62 1012.2L1912.08 1012.3L1912.54 1012.8L1913 1012.9L1913.46 1012.7L1913.92 1013L1914.38 1012.9L1914.84 1013.3L1915.3 1013.7L1915.76 1013.3L1916.22 1013.2L1916.68 1013.4L1917.14 1013.5L1917.6 1013.9L1918.06 1014.4L1918.52 1014.7L1918.98 1014.7L1919.44 1014.9L1919.9 1015L1920.36 1014.8L1920.82 1014.8L1921.28 1014.5L1921.74 1014.5L1922.2 1014.7L1922.66 1014.8L1923.12 1014.9L1923.58 1014.9L1924.04 1014.5L1924.5 1014.7L1924.96 1015.1L1925.42 1014.9L1925.88 1015L1926.34 1014.7L1926.8 1014.7L1927.26 1014.7L1927.72 1015.1L1928.18 1015.2L1928.64 1014.8L1929.1 1015.4L1929.56 1015.1L1930.02 1015.4L1930.48 1015.9L1930.94 1015.4L1931.4 1015.6L1931.86 1015.6L1932.32 1015.8L1932.78 1015.8L1933.24 1015.9L1933.7 1016.2L1934.16 1015.6L1934.62 1015.4L1935.08 1015.3L1935.54 1014.9L1936 1015.4L1936.46 1015.8L1936.92 1015.8L1937.38 1016.1L1937.84 1015.8L1938.3 1016.2L1938.76 1016.5L1939.22 1016.3L1939.68 1016.9L1940.14 1016.4L1940.6 1016.4L1941.06 1016.2L1941.52 1015.5L1941.98 1015.8L1942.44 1015.5L1942.9 1015.5L1943.36 1015.6L1943.82 1015.4L1944.28 1015.4L1944.74 1015.4L1945.2 1015L1945.66 1014.7L1946.12 1014.8L1946.58 1014.9L1947.04 1015.3L1947.5 1015.9L1947.96 1016L1948.42 1016L1948.88 1016.3L1949.34 1015.6L1949.8 1015.6L1950.26 1016.1L1950.72 1015.9L1951.18 1016.4L1951.64 1016.2L1952.1 1015.5L1952.56 1015.5L1953.02 1015.2L1953.48 1015.5L1953.94 1015.8L1954.4 1015.7L1954.86 1015.6L1955.32 1015.4L1955.78 1015.5L1956.24 1015.4L1956.7 1015.4L1957.16 1015.3L1957.62 1015L1958.08 1015.5L1958.54 1015.6L1959 1015.4L1959.46 1015.4L1959.92 1015.4L1960.38 1015.3L1960.84 1015.3L1961.3 1015.6L1961.76 1015.6L1962.22 1015.3L1962.68 1015.5L1963.14 1015.7L1963.6 1016L1964.06 1016.5L1964.52 1016.6L1964.98 1016L1965.44 1015.6L1965.9 1015.3L1966.36 1015L1966.82 1015.4L1967.28 1015.1L1967.74 1015.1L1968.2 1015.5L1968.66 1015.5L1969.12 1015.2L1969.58 1015.1L1970.04 1014.4L1970.5 1014.3L1970.96 1014.3L1971.42 1014.4L1971.88 1014.6L1972.34 1014.5L1972.8 1014.7L1973.26 1014.7L1973.72 1014.6L1974.18 1014.2L1974.64 1014.2L1975.1 1014L1975.56 1013.7L1976.02 1013.4L1976.48 1013L1976.94 1013L1977.4 1012.9L1977.86 1012.5L1978.32 1012L1978.78 1011.1L1979.24 1010.5L1979.7 1010.3L1980.16 1009.6L1980.62 1008.9L1981.08 1007.7L1981.54 1006L1982 1004.3L1982.46 1001.7L1982.92 999.1L1983.38 995.6L1983.84 992.1L1984.3 988.4L1984.76 985.1L1985.22 982.8L1985.68 982.4L1986.14 984.1L1986.6 986.6L1987.06 989.9L1987.52 992.3L1987.98 994.3L1988.44 995.9L1988.9 996.8L1989.36 997.1L1989.82 996.6L1990.28 995.7L1990.74 994.9L1991.2 994.7L1991.66 996L1992.12 997.9L1992.58 1000.5L1993.04 1003.1L1993.5 1004.9L1993.96 1006.7L1994.42 1007.6L1994.88 1008.7L1995.34 1009.7L1995.8 1010.5L1996.26 1011.6L1996.72 1011.7L1997.18 1012.3L1997.64 1012.8L1998.1 1013.1L1998.56 1013.9L1999.02 1014.1L1999.48 1014.4L1999.94 1014.4L2000.4 1014.5L2000.86 1014.6L2001.32 1014.3L2001.78 1014.6L2002.24 1014.6L2002.7 1014.4L2003.16 1014.7L2003.62 1014.7L2004.08 1014.7L2004.54 1015.1L2005 1015.2L2005.46 1015L2005.92 1015.6L2006.38 1015.4L2006.84 1015.2L2007.3 1015.5L2007.76 1015.4L2008.22 1015.7L2008.68 1016.3L2009.14 1016.3L2009.6 1016.7L2010.06 1016.4L2010.52 1015.9L2010.98 1016.3L2011.44 1016.1L2011.9 1016.4L2012.36 1017.3L2012.82 1017.1L2013.28 1016.8L2013.74 1016.7L2014.2 1016.1L2014.66 1016L2015.12 1015.9L2015.58 1015.6L2016.04 1015.5L2016.5 1015.4L2016.96 1015.7L2017.42 1015.8L2017.88 1015.8L2018.34 1015.6L2018.8 1015.4L2019.26 1015.4L2019.72 1015.7L2020.18 1015.6L2020.64 1016L2021.1 1016.1L2021.56 1016.3L2022.02 1016.6L2022.48 1016L2022.94 1016.3L2023.4 1016.1L2023.86 1016.1L2024.32 1016.2L2024.78 1015.7L2025.24 1015.8L2025.7 1015.7L2026.16 1015.8L2026.62 1016.1L2027.08 1016.5L2027.54 1016.4L2028 1016.7L2028.46 1017L2028.92 1016.6L2029.38 1016.9L2029.84 1016.8L2030.3 1016.3L2030.76 1016.7L2031.22 1016.4L2031.68 1016.3L2032.14 1016.5L2032.6 1016L2033.06 1016.2L2033.52 1016L2033.98 1015.9L2034.44 1016.1L2034.9 1016.1L2035.36 1016.3L2035.82 1016.4L2036.28 1016.5L2036.74 1016.7L2037.2 1016.6L2037.66 1016.9L2038.12 1016.9L2038.58 1016.8L2039.04 1016.6L2039.5 1016.1L2039.96 1016L2040.42 1015.9L2040.88 1015.7L2041.34 1016.2L2041.8 1016.2L2042.26 1016.3L2042.72 1016.4L2043.18 1016.2L2043.64 1016.6L2044.1 1016.8L2044.56 1016.7L2045.02 1016.9L2045.48 1016.6L2045.94 1016.6L2046.4 1016.6L2046.86 1016.3L2047.32 1016.4L2047.78 1016.4L2048.24 1016.7L2048.7 1017L2049.16 1017.1L2049.62 1017L2050.08 1017L2050.54 1016.7L2051 1016.7L2051.46 1016.5L2051.92 1016.4L2052.38 1016.4L2052.84 1016L2053.3 1015.7L2053.76 1015.6L2054.22 1015.6L2054.68 1015.7L2055.14 1016.4L2055.6 1016.4L2056.06 1016.6L2056.52 1017L2056.98 1016.5L2057.44 1016.8L2057.9 1016.7L2058.36 1016.3L2058.82 1016.7L2059.28 1016.8L2059.74 1017.4L2060.2 1017.8L2060.66 1017.5L2061.12 1017.5L2061.58 1016.6L2062.04 1016.3L2062.5 1016L2062.96 1015.9L2063.42 1016.3L2063.88 1016.7L2064.34 1017.4L2064.8 1017.2L2065.26 1017.3L2065.72 1017.1L2066.18 1016.8L2066.64 1016.7L2067.1 1016.6L2067.56 1016L2068.02 1015.7L2068.48 1015.9L2068.94 1015.8L2069.4 1016.1L2069.86 1017L2070.32 1017L2070.78 1017.3L2071.24 1017.4L2071.7 1016.9L2072.16 1016.7L2072.62 1016.1L2073.08 1015.9L2073.54 1015.7L2074 1015.8L2074.46 1015.8L2074.92 1015.4L2075.38 1015.3L2075.84 1014.6L2076.3 1014.3L2076.76 1014.1L2077.22 1013.8L2077.68 1013.8L2078.14 1013.7L2078.6 1013.5L2079.06 1013.9L2079.52 1013.7L2079.98 1013.4L2080.44 1013.5L2080.9 1013L2081.36 1013L2081.82 1013.6L2082.28 1013.1L2082.74 1013.3L2083.2 1013.5L2083.66 1013.5L2084.12 1014.2L2084.58 1014.5L2085.04 1015L2085.5 1015.1L2085.96 1015.2L2086.42 1015.6L2086.88 1015.6L2087.34 1015.9L2087.8 1016L2088.26 1016L2088.72 1015.9L2089.18 1016.4L2089.64 1017.3L2090.1 1017.5L2090.56 1017.6L2091.02 1017.6L2091.48 1016.8L2091.94 1016.8L2092.4 1017L2092.86 1017L2093.32 1017.2L2093.78 1017.1L2094.24 1017.4L2094.7 1017.2L2095.16 1017.6L2095.62 1017.5L2096.08 1017.2L2096.54 1017.6L2097 1017.2L2097.46 1017.3L2097.92 1017.2L2098.38 1016.7L2098.84 1017.1L2099.3 1017.1L2099.76 1017L2100.22 1017.1L2100.68 1016.8L2101.14 1017L2101.6 1017.3L2102.06 1017.5L2102.52 1017.3L2102.98 1017.5L2103.44 1017.3L2103.9 1017.2L2104.36 1017.4L2104.82 1017.2L2105.28 1017.4L2105.74 1017.5L2106.2 1017.5L2106.66 1017.2L2107.12 1017.2L2107.58 1017.2L2108.04 1017.4L2108.5 1017.6L2108.96 1017.8L2109.42 1017.2L2109.88 1017.1L2110.34 1017L2110.8 1017.1L2111.26 1017.4L2111.72 1017.1L2112.18 1016.7L2112.64 1016.3L2113.1 1016.1L2113.56 1016.3L2114.02 1016.9L2114.48 1016.8L2114.94 1017L2115.4 1016.9L2115.86 1016.4L2116.32 1016.9L2116.78 1016.8L2117.24 1017.1L2117.7 1017.3L2118.16 1016.8L2118.62 1016.9L2119.08 1016.6L2119.54 1016.4L2120 1016.5L2120.46 1016.8L2120.92 1016.9L2121.38 1016.6L2121.84 1016.9L2122.3 1016.9L2122.76 1017L2123.22 1018.1L2123.68 1017.6L2124.14 1017.5L2124.6 1017.6L2125.06 1016.6L2125.52 1017.2L2125.98 1017.1L2126.44 1016.7L2126.9 1017.4L2127.36 1017.4L2127.82 1017.3L2128.28 1017.5L2128.74 1016.9L2129.2 1017.3L2129.66 1017.2L2130.12 1017.3L2130.58 1017.5L2131.04 1017.3L2131.5 1017.6L2131.96 1017.7L2132.42 1017.9L2132.88 1017.6L2133.34 1017.8L2133.8 1018.1L2134.26 1018.3L2134.72 1017.9L2135.18 1017.7L2135.64 1017.6L2136.1 1017.2L2136.56 1018L2137.02 1018L2137.48 1018L2137.94 1017.7L2138.4 1017.2L2138.86 1016.8L2139.32 1016.7L2139.78 1017.1L2140.24 1017.6L2140.7 1018L2141.16 1018L2141.62 1017.8L2142.08 1017.8L2142.54 1017.8L2143 1017.7L2143.46 1018.3L2143.92 1017.7L2144.38 1017.7L2144.84 1017.7L2145.3 1017.4L2145.76 1017.8L2146.22 1017.9L2146.68 1017.5L2147.14 1017.4L2147.6 1017.2L2148.06 1017L2148.52 1017L2148.98 1017.1L2149.44 1017.4L2149.9 1017.7L2150.36 1017.7L2150.82 1017.3L2151.28 1017.2L2151.74 1016.8L2152.2 1016.8L2152.66 1016.8L2153.12 1016.7L2153.58 1016.9L2154.04 1017.3L2154.5 1017.6L2154.96 1018L2155.42 1018.2L2155.88 1018.3L2156.34 1018.3L2156.8 1018.2L2157.26 1017.9L2157.72 1018.2L2158.18 1017.9L2158.64 1017.7L2159.1 1017.6L2159.56 1017.3L2160.02 1017.4L2160.48 1017.1L2160.94 1017.1L2161.4 1017.4L2161.86 1017.4L2162.32 1017.9L2162.78 1018.1L2163.24 1017.8L2163.7 1017.9L2164.16 1017.7L2164.62 1017.9L2165.08 1018L2165.54 1018.1L2166 1018.1L2166.46 1017.8L2166.92 1018L2167.38 1018.2L2167.84 1018.3L2168.3 1018.4L2168.76 1018.4L2169.22 1018.4L2169.68 1018.5L2170.14 1018.3L2170.6 1017.5L2171.06 1017L2171.52 1016.8L2171.98 1017L2172.44 1017.5L2172.9 1017.6L2173.36 1017.8L2173.82 1017.7L2174.28 1017.6L2174.74 1017.5L2175.2 1017.5L2175.66 1017.4L2176.12 1017.7L2176.58 1018L2177.04 1017.9L2177.5 1018L2180.5 1018.0" fill="none" stroke="#000" stroke-width="9" stroke-linejoin="round" stroke-linecap="butt"/>
</g>
<line shape-rendering="crispEdges" x1="993.0" y1="322.0" x2="993.0" y2="1756.0" stroke="#00ffff" stroke-width="8" stroke-linecap="round" stroke-dasharray="10.00 18.44"/>
<g clip-path="url(#cp)" shape-rendering="crispEdges">
<polygon points="960.0,1681.3 970.0,1677.8 979.8,1674.3 989.8,1672.3 999.7,1670.3 1009.6,1672.3 1019.5,1671.3 1029.4,1672.8 1039.4,1675.3 1049.3,1680.3 1059.2,1682.2 1069.1,1684.7 1079.0,1686.2 1089.0,1688.2 1094.0,1686.5 1098.9,1684.2 1108.8,1684.2 1118.7,1684.2 1128.7,1684.5 1138.6,1684.2 1148.5,1685.2 1153.0,1686.3 1158.4,1687.7 1162.0,1688.5 1162.0,1699.0 1158.4,1699.6 1153.0,1701.7 1148.5,1701.6 1138.6,1701.1 1128.7,1701.6 1118.7,1701.6 1108.8,1699.6 1098.9,1699.1 1094.0,1698.6 1089.0,1698.1 1079.0,1697.6 1069.1,1696.1 1059.2,1695.1 1049.3,1692.2 1039.4,1689.7 1029.4,1684.7 1019.5,1682.2 1009.6,1683.2 999.7,1685.7 989.8,1688.2 979.8,1689.7 970.0,1691.2 960.0,1692.7" fill="#a0a0a0"/>
<path d="M222.5 1631.6L222.96 1631L223.42 1632L223.88 1632.8L224.34 1632.8L224.8 1632.4L225.26 1634L225.72 1632.7L226.18 1632.6L226.64 1633.4L227.1 1634.1L227.56 1633.7L228.02 1634.3L228.48 1634.2L228.94 1634.5L229.4 1635.5L229.86 1636L230.32 1636.3L230.78 1636.3L231.24 1635.1L231.7 1634L232.16 1632.7L232.62 1632.3L233.08 1633.1L233.54 1634.5L234 1633.9L234.46 1635.1L234.92 1636.5L235.38 1636.3L235.84 1635.7L236.3 1637.2L236.76 1636.4L237.22 1635.7L237.68 1636.9L238.14 1636.7L238.6 1637.7L239.06 1639.2L239.52 1639.7L239.98 1639L240.44 1639.9L240.9 1638.9L241.36 1637.8L241.82 1638.8L242.28 1638.8L242.74 1639.3L243.2 1639.9L243.66 1642.2L244.12 1640.7L244.58 1640.4L245.04 1639.8L245.5 1639.9L245.96 1639.1L246.42 1638.9L246.88 1640.9L247.34 1641.2L247.8 1642.6L248.26 1643.1L248.72 1645.3L249.18 1644.1L249.64 1644.3L250.1 1643.6L250.56 1643.9L251.02 1642.9L251.48 1644.3L251.94 1644.7L252.4 1644.5L252.86 1644.2L253.32 1645.2L253.78 1644.9L254.24 1644.7L254.7 1644.5L255.16 1644.6L255.62 1645.1L256.08 1646.6L256.54 1646.4L257 1646.6L257.46 1649.1L257.92 1648.3L258.38 1647.7L258.84 1648.4L259.3 1648.9L259.76 1648.4L260.22 1649.5L260.68 1649.9L261.14 1651L261.6 1652.3L262.06 1652L262.52 1651.1L262.98 1652L263.44 1652L263.9 1651.2L264.36 1651.5L264.82 1652.2L265.28 1651.2L265.74 1651.2L266.2 1652.1L266.66 1653L267.12 1652.4L267.58 1653.2L268.04 1654.4L268.5 1654.2L268.96 1655.1L269.42 1656.2L269.88 1656.3L270.34 1655.6L270.8 1655.6L271.26 1654.6L271.72 1655.6L272.18 1656.4L272.64 1657.1L273.1 1658.6L273.56 1658.7L274.02 1658.6L274.48 1657L274.94 1656.7L275.4 1656.3L275.86 1657.6L276.32 1657.4L276.78 1659.1L277.24 1659.3L277.7 1660.1L278.16 1659.6L278.62 1660.3L279.08 1660.9L279.54 1661L280 1659.9L280.46 1660.6L280.92 1661.3L281.38 1660.4L281.84 1661.5L282.3 1662.8L282.76 1662.6L283.22 1662.5L283.68 1662.4L284.14 1661.5L284.6 1662.1L285.06 1662.4L285.52 1661.6L285.98 1661.2L286.44 1661.3L286.9 1659.8L287.36 1659.1L287.82 1659.8L288.28 1660.4L288.74 1661.6L289.2 1661.4L289.66 1660.6L290.12 1660.2L290.58 1659.7L291.04 1659L291.5 1661L291.96 1661.6L292.42 1662.4L292.88 1663.6L293.34 1664L293.8 1663.2L294.26 1663.7L294.72 1663.3L295.18 1662.1L295.64 1661.8L296.1 1661.5L296.56 1662.8L297.02 1663.7L297.48 1665.4L297.94 1666.3L298.4 1666.3L298.86 1664.6L299.32 1664.3L299.78 1663.6L300.24 1663.6L300.7 1664.4L301.16 1665.1L301.62 1663.9L302.08 1664.2L302.54 1663.2L303 1661.6L303.46 1662.1L303.92 1664.3L304.38 1663.8L304.84 1664.3L305.3 1665.1L305.76 1665L306.22 1664L306.68 1663.3L307.14 1663.6L307.6 1664.3L308.06 1664.6L308.52 1664.9L308.98 1666.4L309.44 1666.3L309.9 1666.1L310.36 1665.4L310.82 1664.7L311.28 1665.4L311.74 1666.1L312.2 1665.7L312.66 1665.9L313.12 1666.5L313.58 1664.4L314.04 1663.6L314.5 1663.7L314.96 1663.4L315.42 1663.7L315.88 1664.4L316.34 1663.5L316.8 1663.9L317.26 1664.9L317.72 1664.8L318.18 1664.7L318.64 1665.4L319.1 1665.5L319.56 1664.1L320.02 1663.9L320.48 1664.7L320.94 1665.5L321.4 1665.7L321.86 1666L322.32 1665L322.78 1664L323.24 1663.4L323.7 1663.2L324.16 1663L324.62 1663.1L325.08 1664.3L325.54 1664.5L326 1662.9L326.46 1663.2L326.92 1664.4L327.38 1663.7L327.84 1663.2L328.3 1663.7L328.76 1663.2L329.22 1662.6L329.68 1662.4L330.14 1663.1L330.6 1663.6L331.06 1664.3L331.52 1663.8L331.98 1664.1L332.44 1663.7L332.9 1663.7L333.36 1663.9L333.82 1664.7L334.28 1664.8L334.74 1664.1L335.2 1663.3L335.66 1662.8L336.12 1662.5L336.58 1662.6L337.04 1663.4L337.5 1664.4L337.96 1663.8L338.42 1663L338.88 1662.2L339.34 1662.6L339.8 1663.3L340.26 1664L340.72 1663.5L341.18 1663.6L341.64 1663.4L342.1 1662.2L342.56 1662.1L343.02 1662.6L343.48 1663L343.94 1662.6L344.4 1662.4L344.86 1661.5L345.32 1662.5L345.78 1662.2L346.24 1661.6L346.7 1661.3L347.16 1662.2L347.62 1661.2L348.08 1660.9L348.54 1661L349 1660.7L349.46 1660.2L349.92 1660.2L350.38 1661.9L350.84 1662L351.3 1662L351.76 1662.7L352.22 1663.9L352.68 1660.9L353.14 1661.2L353.6 1661.6L354.06 1660.5L354.52 1659.1L354.98 1659.8L355.44 1660.4L355.9 1660L356.36 1661.4L356.82 1661.4L357.28 1661.6L357.74 1660.4L358.2 1660.5L358.66 1659.4L359.12 1659.7L359.58 1660.3L360.04 1659.7L360.5 1658.5L360.96 1658.3L361.42 1657.5L361.88 1656.6L362.34 1657L362.8 1657.8L363.26 1658.2L363.72 1659.4L364.18 1659.7L364.64 1660.2L365.1 1661.3L365.56 1659.9L366.02 1659.3L366.48 1658.3L366.94 1657.4L367.4 1656.9L367.86 1658.1L368.32 1658.1L368.78 1660.6L369.24 1660.8L369.7 1661.2L370.16 1662.2L370.62 1662.2L371.08 1661L371.54 1661.6L372 1661.5L372.46 1662.3L372.92 1662.8L373.38 1662.7L373.84 1660.8L374.3 1660.5L374.76 1658.9L375.22 1658.1L375.68 1658.2L376.14 1659.3L376.6 1658.8L377.06 1659L377.52 1658.6L377.98 1657.8L378.44 1657.4L378.9 1659.1L379.36 1658.6L379.82 1660L380.28 1660L380.74 1662.5L381.2 1661.7L381.66 1661.5L382.12 1661.2L382.58 1662.4L383.04 1660.9L383.5 1660.6L383.96 1661.4L384.42 1661.8L384.88 1661.9L385.34 1661.7L385.8 1661.8L386.26 1662.1L386.72 1660.9L387.18 1660.8L387.64 1661.7L388.1 1662.1L388.56 1660.6L389.02 1660.8L389.48 1659.4L389.94 1659.5L390.4 1658.4L390.86 1659.2L391.32 1660L391.78 1661.3L392.24 1659.9L392.7 1660L393.16 1661.1L393.62 1660.7L394.08 1660L394.54 1661.7L395 1662.5L395.46 1662.5L395.92 1662.9L396.38 1663.9L396.84 1662.9L397.3 1662.6L397.76 1662.1L398.22 1662.2L398.68 1660.6L399.14 1661.1L399.6 1661.1L400.06 1661.2L400.52 1661.4L400.98 1661.6L401.44 1660L401.9 1660.8L402.36 1661.1L402.82 1660.7L403.28 1661.5L403.74 1663.7L404.2 1662.4L404.66 1660.9L405.12 1660.8L405.58 1659.3L406.04 1658.9L406.5 1659.4L406.96 1659.2L407.42 1660.4L407.88 1661L408.34 1661.1L408.8 1661.5L409.26 1662.6L409.72 1660.9L410.18 1661.6L410.64 1661.4L411.1 1660.4L411.56 1660.7L412.02 1660.8L412.48 1659.9L412.94 1661.1L413.4 1661.8L413.86 1662.4L414.32 1662.2L414.78 1663.9L415.24 1662.8L415.7 1662.4L416.16 1661L416.62 1661.8L417.08 1660.8L417.54 1661L418 1662.1L418.46 1662.9L418.92 1663.5L419.38 1664.6L419.84 1663.9L420.3 1664.2L420.76 1664.7L421.22 1664.6L421.68 1664.2L422.14 1664.5L422.6 1662.9L423.06 1662.4L423.52 1663.4L423.98 1662.8L424.44 1663.4L424.9 1664.3L425.36 1664.9L425.82 1663.8L426.28 1664.5L426.74 1664L427.2 1663.6L427.66 1664.3L428.12 1664.3L428.58 1664.3L429.04 1663.8L429.5 1663.9L429.96 1661.9L430.42 1660.7L430.88 1660.1L431.34 1660L431.8 1661.5L432.26 1663.6L432.72 1665L433.18 1665L433.64 1665.2L434.1 1663.5L434.56 1662.9L435.02 1662.5L435.48 1661L435.94 1661.9L436.4 1662.9L436.86 1662.6L437.32 1663.2L437.78 1665.5L438.24 1664.9L438.7 1663.3L439.16 1663.2L439.62 1663L440.08 1663.1L440.54 1662.2L441 1663.4L441.46 1663.3L441.92 1662.4L442.38 1660.8L442.84 1662L443.3 1661.7L443.76 1661.3L444.22 1661.5L444.68 1663L445.14 1662.3L445.6 1661.9L446.06 1661.8L446.52 1662.2L446.98 1661.3L447.44 1661.2L447.9 1661.8L448.36 1661.8L448.82 1660.2L449.28 1659.4L449.74 1658.7L450.2 1658.5L450.66 1658.4L451.12 1659.7L451.58 1659.7L452.04 1660.6L452.5 1660.5L452.96 1660.5L453.42 1660.1L453.88 1660L454.34 1659.3L454.8 1660.2L455.26 1659.6L455.72 1659.7L456.18 1660.6L456.64 1660.8L457.1 1659.3L457.56 1658.4L458.02 1657.8L458.48 1657.3L458.94 1657L459.4 1657.8L459.86 1658.5L460.32 1658.1L460.78 1658.3L461.24 1658.5L461.7 1658L462.16 1659.2L462.62 1658.9L463.08 1658.1L463.54 1657.3L464 1657L464.46 1654.9L464.92 1655.7L465.38 1656.5L465.84 1656.6L466.3 1656.5L466.76 1657.1L467.22 1656.3L467.68 1655.2L468.14 1654.2L468.6 1653.6L469.06 1654.8L469.52 1655.5L469.98 1656.4L470.44 1657.7L470.9 1658L471.36 1657.1L471.82 1656.6L472.28 1655.8L472.74 1655.4L473.2 1656.5L473.66 1656L474.12 1657L474.58 1656.5L475.04 1657.3L475.5 1656.4L475.96 1656.5L476.42 1655.7L476.88 1656L477.34 1654.9L477.8 1653.7L478.26 1654.1L478.72 1653.3L479.18 1652.8L479.64 1652.3L480.1 1653.5L480.56 1653.3L481.02 1653.1L481.48 1653.2L481.94 1652.5L482.4 1651.6L482.86 1650.6L483.32 1650.9L483.78 1650.6L484.24 1651.2L484.7 1652.1L485.16 1650.6L485.62 1650.4L486.08 1650.3L486.54 1649.6L487 1648.4L487.46 1648.9L487.92 1647.8L488.38 1647.7L488.84 1647.9L489.3 1647.2L489.76 1646.3L490.22 1647.7L490.68 1647.7L491.14 1647.8L491.6 1647.3L492.06 1648.1L492.52 1646.1L492.98 1645.3L493.44 1644.7L493.9 1645.1L494.36 1645.2L494.82 1646L495.28 1645.7L495.74 1645L496.2 1644.5L496.66 1644.1L497.12 1644.1L497.58 1643.4L498.04 1643.5L498.5 1642.7L498.96 1642.2L499.42 1641.4L499.88 1642L500.34 1641.5L500.8 1641.9L501.26 1642.6L501.72 1642.5L502.18 1642.7L502.64 1643.3L503.1 1643.2L503.56 1641.9L504.02 1641.7L504.48 1639.8L504.94 1639.2L505.4 1639.6L505.86 1640.4L506.32 1639.2L506.78 1638.9L507.24 1638L507.7 1637.4L508.16 1636.4L508.62 1636.8L509.08 1637.2L509.54 1635.6L510 1634.3L510.46 1634.2L510.92 1635.1L511.38 1634.9L511.84 1635.9L512.3 1637.3L512.76 1636.9L513.22 1635.4L513.68 1634.3L514.14 1635.7L514.6 1634.6L515.06 1634.2L515.52 1633.7L515.98 1633.9L516.44 1631.6L516.9 1631.3L517.36 1630.9L517.82 1630.7L518.28 1630.9L518.74 1630.8L519.2 1630.5L519.66 1630.1L520.12 1630.1L520.58 1629.4L521.04 1629.7L521.5 1629.2L521.96 1628.3L522.42 1627L522.88 1626.9L523.34 1626L523.8 1625.1L524.26 1624.7L524.72 1625.6L525.18 1625.7L525.64 1625L526.1 1624.1L526.56 1623.4L527.02 1622L527.48 1620.1L527.94 1620.1L528.4 1621.2L528.86 1621.4L529.32 1620.8L529.78 1621.4L530.24 1619.9L530.7 1618.3L531.16 1617.9L531.62 1618L532.08 1617.2L532.54 1617.6L533 1617.3L533.46 1615.7L533.92 1615L534.38 1614.2L534.84 1613.9L535.3 1613.5L535.76 1613.6L536.22 1612.7L536.68 1613.3L537.14 1613.3L537.6 1613.3L538.06 1614.3L538.52 1613.9L538.98 1613.7L539.44 1612.7L539.9 1611.8L540.36 1609L540.82 1609.4L541.28 1608.6L541.74 1608.4L542.2 1608L542.66 1608.4L543.12 1605.9L543.58 1605.2L544.04 1605.5L544.5 1604.9L544.96 1604.8L545.42 1605.6L545.88 1605.8L546.34 1604.8L546.8 1603.5L547.26 1602.9L547.72 1602.7L548.18 1601.6L548.64 1600.2L549.1 1600.3L549.56 1599.9L550.02 1600.1L550.48 1599.6L550.94 1600.5L551.4 1600.4L551.86 1600.2L552.32 1599L552.78 1599.3L553.24 1597L553.7 1597L554.16 1596.8L554.62 1596.5L555.08 1595.3L555.54 1596.6L556 1596.3L556.46 1596.3L556.92 1596.4L557.38 1595.7L557.84 1595.8L558.3 1594.7L558.76 1593.2L559.22 1591.9L559.68 1591.8L560.14 1590.3L560.6 1590.9L561.06 1589.6L561.52 1589.4L561.98 1588.9L562.44 1587.6L562.9 1586.5L563.36 1586.6L563.82 1586L564.28 1585L564.74 1585.2L565.2 1584.8L565.66 1586.1L566.12 1585L566.58 1584.1L567.04 1583L567.5 1581.6L567.96 1578.9L568.42 1579.2L568.88 1579.2L569.34 1579.2L569.8 1577.9L570.26 1577.8L570.72 1577.5L571.18 1577.8L571.64 1577.9L572.1 1578.9L572.56 1577.8L573.02 1576.7L573.48 1575.8L573.94 1575.4L574.4 1575.3L574.86 1576.1L575.32 1576.2L575.78 1576.3L576.24 1575.9L576.7 1575.7L577.16 1575.6L577.62 1575.8L578.08 1575.8L578.54 1575.9L579 1575.8L579.46 1575.6L579.92 1575.2L580.38 1574.4L580.84 1574.2L581.3 1573.3L581.76 1574.3L582.22 1574L582.68 1574.1L583.14 1573L583.6 1572.6L584.06 1571.6L584.52 1572.5L584.98 1573.8L585.44 1575.7L585.9 1576.6L586.36 1576.4L586.82 1575.6L587.28 1574.4L587.74 1573.9L588.2 1574.4L588.66 1575.8L589.12 1576.2L589.58 1577.2L590.04 1577.7L590.5 1578.2L590.96 1577.5L591.42 1578L591.88 1578.1L592.34 1577.7L592.8 1577.6L593.26 1577.3L593.72 1577L594.18 1576.9L594.64 1576.6L595.1 1576.8L595.56 1577.3L596.02 1578.5L596.48 1578.6L596.94 1580.3L597.4 1580.5L597.86 1581.5L598.32 1582.7L598.78 1584L599.24 1583.6L599.7 1585L600.16 1585L600.62 1584.1L601.08 1583.5L601.54 1584.6L602 1584.7L602.46 1584.3L602.92 1585.6L603.38 1586.3L603.84 1585.7L604.3 1587L604.76 1587.8L605.22 1586.7L605.68 1586.1L606.14 1586.3L606.6 1585.9L607.06 1585.5L607.52 1586.7L607.98 1587.1L608.44 1587.9L608.9 1586.6L609.36 1588.3L609.82 1587.6L610.28 1588.6L610.74 1587.8L611.2 1589.2L611.66 1589.3L612.12 1590.1L612.58 1590.6L613.04 1592.6L613.5 1592.8L613.96 1593.9L614.42 1594.7L614.88 1595.4L615.34 1594.6L615.8 1594.1L616.26 1593.2L616.72 1593.3L617.18 1593.6L617.64 1595.9L618.1 1597.7L618.56 1598.9L619.02 1599.3L619.48 1598.8L619.94 1597.7L620.4 1597.2L620.86 1597.7L621.32 1598.3L621.78 1598.9L622.24 1599.7L622.7 1600.9L623.16 1601.2L623.62 1601.3L624.08 1602.8L624.54 1604L625 1603.2L625.46 1602.9L625.92 1604.2L626.38 1602.8L626.84 1602.8L627.3 1603.4L627.76 1604.9L628.22 1605.2L628.68 1606.7L629.14 1606.5L629.6 1607.2L630.06 1607.8L630.52 1608.3L630.98 1608.6L631.44 1608.7L631.9 1610.1L632.36 1610L632.82 1610L633.28 1610.6L633.74 1610.7L634.2 1611.5L634.66 1612.4L635.12 1612.8L635.58 1613.2L636.04 1614.4L636.5 1612.7L636.96 1611.4L637.42 1610.8L637.88 1611.1L638.34 1611.1L638.8 1612.4L639.26 1614L639.72 1614.6L640.18 1613.9L640.64 1614.9L641.1 1614.3L641.56 1613.3L642.02 1614.7L642.48 1615.6L642.94 1614.3L643.4 1615L643.86 1616.4L644.32 1615.2L644.78 1615.8L645.24 1616.9L645.7 1617.9L646.16 1618.2L646.62 1618.2L647.08 1618.2L647.54 1619L648 1618.3L648.46 1618.4L648.92 1620.2L649.38 1620.7L649.84 1620.3L650.3 1620.9L650.76 1621.8L651.22 1621.6L651.68 1621.4L652.14 1622.9L652.6 1624.4L653.06 1624.3L653.52 1624.4L653.98 1625.2L654.44 1625.4L654.9 1625L655.36 1625.3L655.82 1625.3L656.28 1626L656.74 1627L657.2 1628.1L657.66 1629.5L658.12 1631.3L658.58 1631.2L659.04 1630.7L659.5 1631.3L659.96 1630.5L660.42 1630.5L660.88 1630.6L661.34 1629.4L661.8 1629L662.26 1629L662.72 1630.6L663.18 1632.1L663.64 1635L664.1 1635.1L664.56 1636.2L665.02 1634.9L665.48 1635L665.94 1634.6L666.4 1635.2L666.86 1636.5L667.32 1637.5L667.78 1638.8L668.24 1640.1L668.7 1641.1L669.16 1641.8L669.62 1642.5L670.08 1642.7L670.54 1642.5L671 1642.4L671.46 1642.2L671.92 1642.2L672.38 1641.6L672.84 1641L673.3 1641.1L673.76 1641.2L674.22 1641.4L674.68 1641.4L675.14 1642.4L675.6 1643L676.06 1643L676.52 1643.2L676.98 1644.1L677.44 1644.2L677.9 1643.5L678.36 1644L678.82 1644.2L679.28 1644.4L679.74 1645.1L680.2 1646.8L680.66 1647.9L681.12 1648.9L681.58 1649.2L682.04 1649.6L682.5 1649.1L682.96 1649.1L683.42 1649.4L683.88 1649.9L684.34 1649.6L684.8 1650.2L685.26 1650.5L685.72 1650.1L686.18 1650.6L686.64 1651.3L687.1 1652.2L687.56 1651.4L688.02 1652.9L688.48 1653L688.94 1653.7L689.4 1654.9L689.86 1656.4L690.32 1654.7L690.78 1654.7L691.24 1654.8L691.7 1652.7L692.16 1652.9L692.62 1654.9L693.08 1654.7L693.54 1655L694 1655.9L694.46 1656L694.92 1655.8L695.38 1656.2L695.84 1656.3L696.3 1656.8L696.76 1657.3L697.22 1656.8L697.68 1657L698.14 1658.7L698.6 1658.4L699.06 1658.4L699.52 1658.6L699.98 1659.1L700.44 1658.9L700.9 1659.4L701.36 1659.9L701.82 1660.7L702.28 1660.7L702.74 1660.4L703.2 1660.2L703.66 1659.8L704.12 1659.6L704.58 1659.7L705.04 1659L705.5 1659.5L705.96 1659.1L706.42 1659.8L706.88 1661L707.34 1662.4L707.8 1663.4L708.26 1664.7L708.72 1665.2L709.18 1664.5L709.64 1663.7L710.1 1662.8L710.56 1663.2L711.02 1662.2L711.48 1662.7L711.94 1664.3L712.4 1664.7L712.86 1664.3L713.32 1665.6L713.78 1666.6L714.24 1665.6L714.7 1665.6L715.16 1666.9L715.62 1665.6L716.08 1664.3L716.54 1665L717 1665.7L717.46 1664.9L717.92 1666.5L718.38 1667.2L718.84 1665.1L719.3 1664.3L719.76 1664.1L720.22 1663.2L720.68 1663.3L721.14 1663.8L721.6 1665.2L722.06 1665L722.52 1665.3L722.98 1665.6L723.44 1666.8L723.9 1666.2L724.36 1666.2L724.82 1666.8L725.28 1666L725.74 1665.7L726.2 1664.9L726.66 1665.3L727.12 1665L727.58 1666.4L728.04 1667.2L728.5 1667.8L728.96 1668.3L729.42 1668.3L729.88 1667.2L730.34 1666.7L730.8 1668.6L731.26 1669.2L731.72 1669.3L732.18 1671.3L732.64 1672.8L733.1 1672.1L733.56 1672.5L734.02 1673.3L734.48 1671.9L734.94 1671.1L735.4 1671.2L735.86 1670.2L736.32 1670.2L736.78 1670.3L737.24 1670.3L737.7 1670L738.16 1669.9L738.62 1670.3L739.08 1671.8L739.54 1672.6L740 1672L740.46 1672.7L740.92 1671.9L741.38 1671.4L741.84 1671.3L742.3 1672.9L742.76 1674.1L743.22 1674.4L743.68 1673.6L744.14 1672.3L744.6 1672.3L745.06 1672.3L745.52 1672.8L745.98 1674.7L746.44 1676.6L746.9 1676.3L747.36 1675.7L747.82 1675.4L748.28 1675.4L748.74 1675.3L749.2 1675.2L749.66 1674.9L750.12 1675.5L750.58 1674.8L751.04 1673.8L751.5 1675L751.96 1674.3L752.42 1673.5L752.88 1675.1L753.34 1676L753.8 1676L754.26 1678.1L754.72 1677.8L755.18 1676.7L755.64 1675.9L756.1 1675.9L756.56 1675L757.02 1675.8L757.48 1675.4L757.94 1677L758.4 1676.3L758.86 1677.1L759.32 1675.9L759.78 1677.5L760.24 1677L760.7 1677.2L761.16 1677.2L761.62 1678.3L762.08 1676.6L762.54 1676.7L763 1676.8L763.46 1675.7L763.92 1676.1L764.38 1676.5L764.84 1676.6L765.3 1676.2L765.76 1677L766.22 1676.1L766.68 1676.9L767.14 1677.7L767.6 1678.9L768.06 1679.5L768.52 1679.7L768.98 1679.2L769.44 1678.1L769.9 1677.7L770.36 1678L770.82 1679.4L771.28 1680.5L771.74 1680.6L772.2 1679.4L772.66 1679.1L773.12 1678.8L773.58 1677.9L774.04 1677.3L774.5 1679.2L774.96 1679.2L775.42 1679.1L775.88 1679.2L776.34 1680.1L776.8 1681L777.26 1680L777.72 1680.2L778.18 1679.8L778.64 1679.6L779.1 1677.9L779.56 1679.6L780.02 1679L780.48 1679.8L780.94 1681.2L781.4 1681.4L781.86 1680.7L782.32 1681.6L782.78 1681.2L783.24 1680.4L783.7 1680.5L784.16 1680.7L784.62 1680.6L785.08 1680.8L785.54 1680.2L786 1680.7L786.46 1680L786.92 1679.9L787.38 1680.9L787.84 1681.6L788.3 1681.4L788.76 1682.3L789.22 1683.5L789.68 1683.7L790.14 1683.5L790.6 1683.5L791.06 1683.1L791.52 1681.8L791.98 1681.7L792.44 1682.6L792.9 1683.8L793.36 1684.7L793.82 1684.2L794.28 1683.6L794.74 1683.1L795.2 1682.5L795.66 1681.6L796.12 1682.5L796.58 1682.7L797.04 1683.7L797.5 1683.7L797.96 1684.6L798.42 1685L798.88 1685.6L799.34 1684.7L799.8 1685.1L800.26 1684.2L800.72 1683.8L801.18 1683.9L801.64 1684.5L802.1 1684.3L802.56 1684.9L803.02 1685.1L803.48 1685.3L803.94 1684.1L804.4 1684.2L804.86 1684.4L805.32 1684.9L805.78 1684.7L806.24 1685.4L806.7 1685.2L807.16 1684.5L807.62 1684.9L808.08 1684.8L808.54 1684.9L809 1686L809.46 1687.5L809.92 1686.7L810.38 1685.4L810.84 1684.7L811.3 1684.1L811.76 1683.4L812.22 1683.5L812.68 1684.7L813.14 1684L813.6 1683.6L814.06 1683.7L814.52 1684L814.98 1684.1L815.44 1685.4L815.9 1685.3L816.36 1684.6L816.82 1685L817.28 1684.3L817.74 1684.5L818.2 1685.4L818.66 1686.7L819.12 1686L819.58 1686.7L820.04 1686.9L820.5 1686.3L820.96 1685.6L821.42 1686.3L821.88 1686.5L822.34 1685.6L822.8 1685.6L823.26 1685.8L823.72 1685.6L824.18 1685.1L824.64 1686.3L825.1 1686.8L825.56 1686.6L826.02 1686.4L826.48 1685.9L826.94 1685.4L827.4 1685.1L827.86 1685.7L828.32 1685.2L828.78 1686.2L829.24 1686.1L829.7 1687.7L830.16 1687.4L830.62 1688L831.08 1688.3L831.54 1687.7L832 1685.9L832.46 1686.2L832.92 1686.1L833.38 1685.4L833.84 1686.2L834.3 1687.3L834.76 1686.7L835.22 1687.2L835.68 1687.1L836.14 1687.5L836.6 1687L837.06 1687.4L837.52 1687.3L837.98 1688.1L838.44 1688.2L838.9 1687.7L839.36 1688L839.82 1687.9L840.28 1687.7L840.74 1687.7L841.2 1687.2L841.66 1687.3L842.12 1687.9L842.58 1687.4L843.04 1687.5L843.5 1688.6L843.96 1688.3L844.42 1688.5L844.88 1688.4L845.34 1688.8L845.8 1688.4L846.26 1687.4L846.72 1686.7L847.18 1687.3L847.64 1687.7L848.1 1687.7L848.56 1689.9L849.02 1689.7L849.48 1690.1L849.94 1688.7L850.4 1689.5L850.86 1688.7L851.32 1690.2L851.78 1689.5L852.24 1689.8L852.7 1688.8L853.16 1689.8L853.62 1687.8L854.08 1687.3L854.54 1688.7L855 1689L855.46 1688.5L855.92 1689.8L856.38 1691.1L856.84 1689.6L857.3 1688.9L857.76 1688.3L858.22 1688.9L858.68 1687.3L859.14 1687.2L859.6 1688.3L860.06 1688.7L860.52 1687.6L860.98 1689.3L861.44 1690.5L861.9 1689.7L862.36 1689.1L862.82 1688.7L863.28 1687.7L863.74 1688L864.2 1689.2L864.66 1689.5L865.12 1689.6L865.58 1691.1L866.04 1690.2L866.5 1689.7L866.96 1689.9L867.42 1691.3L867.88 1691.2L868.34 1691.6L868.8 1690.7L869.26 1690.1L869.72 1688.9L870.18 1688.3L870.64 1687.8L871.1 1687.9L871.56 1688.2L872.02 1688.5L872.48 1688.8L872.94 1688.5L873.4 1689.2L873.86 1689.2L874.32 1688.8L874.78 1689.7L875.24 1689.6L875.7 1689.5L876.16 1689.4L876.62 1689.6L877.08 1687.3L877.54 1687.3L878 1687.7L878.46 1687.9L878.92 1687.9L879.38 1689.2L879.84 1689.3L880.3 1688L880.76 1688L881.22 1687.7L881.68 1687.5L882.14 1688.5L882.6 1689.5L883.06 1690.4L883.52 1691L883.98 1690.4L884.44 1690.1L884.9 1690.2L885.36 1689.4L885.82 1689L886.28 1689.7L886.74 1688.9L887.2 1689.1L887.66 1688.3L888.12 1688.8L888.58 1688.1L889.04 1688.7L889.5 1688.9L889.96 1689L890.42 1689.1L890.88 1688.8L891.34 1687.7L891.8 1687.9L892.26 1687.9L892.72 1687.2L893.18 1688.3L893.64 1689.1L894.1 1688.7L894.56 1689.1L895.02 1689.6L895.48 1689.7L895.94 1689.6L896.4 1689.3L896.86 1688.8L897.32 1689.3L897.78 1688.6L898.24 1688.2L898.7 1688.7L899.16 1689.6L899.62 1688.8L900.08 1689L900.54 1689.7L901 1689.2L901.46 1688.3L901.92 1687.9L902.38 1688.5L902.84 1688.2L903.3 1689L903.76 1689.7L904.22 1690.4L904.68 1690.5L905.14 1690.8L905.6 1690.2L906.06 1690L906.52 1690.4L906.98 1690.7L907.44 1690.7L907.9 1691.1L908.36 1690.8L908.82 1691.3L909.28 1690.6L909.74 1690.8L910.2 1691.2L910.66 1691.9L911.12 1691.6L911.58 1691.9L912.04 1691.8L912.5 1690.7L912.96 1690.9L913.42 1690.1L913.88 1689.8L914.34 1690.2L914.8 1690.6L915.26 1690.4L915.72 1690.9L916.18 1691.5L916.64 1690.8L917.1 1690.9L917.56 1691.3L918.02 1690.3L918.48 1690.6L918.94 1690.3L919.4 1690L919.86 1688.9L920.32 1689.1L920.78 1687.8L921.24 1688.2L921.7 1688.9L922.16 1688.6L922.62 1688.7L923.08 1689.6L923.54 1689.1L924 1688.3L924.46 1689.2L924.92 1689.7L925.38 1690L925.84 1691L926.3 1691.2L926.76 1691.3L927.22 1691.4L927.68 1690.4L928.14 1689.2L928.6 1688.7L929.06 1689.2L929.52 1689L929.98 1688.7L930.44 1688.6L930.9 1689.6L931.36 1688.9L931.82 1689.2L932.28 1689.4L932.74 1689.3L933.2 1688.3L933.66 1688.7L934.12 1688.2L934.58 1688.5L935.04 1689.5L935.5 1690.3L935.96 1689.3L936.42 1689.6L936.88 1689.7L937.34 1689.2L937.8 1689.1L938.26 1690L938.72 1689.7L939.18 1690.1L939.64 1691.1L940.1 1690.9L940.56 1691L941.02 1690.7L941.48 1690.1L941.94 1688.9L942.4 1688.4L942.86 1687.8L943.32 1687.8L943.78 1688L944.24 1687.4L944.7 1687.5L945.16 1688.4L945.62 1688.2L946.08 1688.2L946.54 1688.8L947 1689.2L947.46 1688L947.92 1688.9L948.38 1689.1L948.84 1689.2L949.3 1689.4L949.76 1690.1L950.22 1689.2L950.68 1688.6L951.14 1689.2L951.6 1688.7L952.06 1687.8L952.52 1688.3L952.98 1688L953.44 1686.9L953.9 1686.6L954.36 1687.4L954.82 1686.9L955.28 1687.8L955.74 1688.4L956.2 1688.7L956.66 1687.4L957.12 1688.2L957.58 1687.9L958.04 1687.9L958.5 1687.8L958.96 1688L959.42 1687.3L959.88 1686.9L960.34 1686.8L960.8 1686.5L961.26 1685.9L961.72 1685.1L962.18 1684.8L962.64 1684.6L963.1 1684.5L963.56 1685.3L964.02 1686.3L964.48 1686.6L964.94 1686.1L965.4 1686.1L965.86 1686.6L966.32 1685.6L966.78 1686L967.24 1685.6L967.7 1684.7L968.16 1684.1L968.62 1684.1L969.08 1683.5L969.54 1683.1L970 1684.8L970.46 1684.2L970.92 1684L971.38 1683.7L971.84 1684.1L972.3 1683.1L972.76 1683.5L973.22 1683.7L973.68 1682.9L974.14 1682.5L974.6 1682.9L975.06 1682.5L975.52 1682.4L975.98 1682.6L976.44 1683L976.9 1682.2L977.36 1681.7L977.82 1681.4L978.28 1681L978.74 1680.8L979.2 1681.3L979.66 1681.9L980.12 1681.4L980.58 1681.6L981.04 1681.2L981.5 1680.8L981.96 1680.2L982.42 1680.8L982.88 1680.6L983.34 1681L983.8 1681L984.26 1680.5L984.72 1680.2L985.18 1680.6L985.64 1680.4L986.1 1680L986.56 1680.4L987.02 1680.4L987.48 1680.7L987.94 1680.4L988.4 1680L988.86 1679.2L989.32 1678.8L989.78 1678.4L990.24 1678L990.7 1677.5L991.16 1677.6L991.62 1677.6L992.08 1676.9L992.54 1676.9L993 1677.6L993.46 1678L993.92 1676.9L994.38 1677.4L994.84 1677.5L995.3 1677.4L995.76 1677.7L996.22 1678.5L996.68 1677.9L997.14 1677.8L997.6 1677.7L998.06 1677.6L998.52 1677.2L998.98 1677.3L999.44 1677.3L999.9 1677.1L1000.36 1676.3L1000.82 1676.9L1001.28 1676.9L1001.74 1677.3L1002.2 1677.1L1002.66 1676.7L1003.12 1675.7L1003.58 1675.7L1004.04 1675.3L1004.5 1675.9L1004.96 1676.2L1005.42 1676.9L1005.88 1677.7L1006.34 1677.4L1006.8 1677.6L1007.26 1677.7L1007.72 1677.7L1008.18 1677.3L1008.64 1677.7L1009.1 1677.9L1009.56 1678.9L1010.02 1678.6L1010.48 1678.3L1010.94 1678.3L1011.4 1677.5L1011.86 1677.2L1012.32 1676.9L1012.78 1677L1013.24 1676.6L1013.7 1677.5L1014.16 1677.6L1014.62 1678L1015.08 1678.4L1015.54 1679.2L1016 1678.2L1016.46 1678.3L1016.92 1677.8L1017.38 1677.2L1017.84 1676.2L1018.3 1676.2L1018.76 1675.8L1019.22 1676.2L1019.68 1676.2L1020.14 1676.9L1020.6 1676.9L1021.06 1677L1021.52 1677.1L1021.98 1677.1L1022.44 1676.5L1022.9 1676.6L1023.36 1676.3L1023.82 1675.8L1024.28 1676.2L1024.74 1677.4L1025.2 1677.9L1025.66 1677.9L1026.12 1678.2L1026.58 1678.2L1027.04 1677.3L1027.5 1677L1027.96 1678.1L1028.42 1678.7L1028.88 1678.8L1029.34 1679L1029.8 1679.5L1030.26 1679.8L1030.72 1680.3L1031.18 1680.9L1031.64 1681.3L1032.1 1681.6L1032.56 1680.8L1033.02 1679.8L1033.48 1679.5L1033.94 1680L1034.4 1679.8L1034.86 1680.6L1035.32 1681.6L1035.78 1682.4L1036.24 1682.2L1036.7 1682.5L1037.16 1681.9L1037.62 1682.3L1038.08 1682.4L1038.54 1682.7L1039 1682.6L1039.46 1683.4L1039.92 1683.4L1040.38 1683.3L1040.84 1683.7L1041.3 1684.7L1041.76 1684.8L1042.22 1685.4L1042.68 1685.8L1043.14 1686.2L1043.6 1685.9L1044.06 1685.7L1044.52 1686.1L1044.98 1685.5L1045.44 1685.5L1045.9 1685.7L1046.36 1686.1L1046.82 1686.1L1047.28 1686.5L1047.74 1686.2L1048.2 1686.1L1048.66 1685.8L1049.12 1685.2L1049.58 1685.2L1050.04 1686.2L1050.5 1686.4L1050.96 1686.7L1051.42 1687.5L1051.88 1687.4L1052.34 1687L1052.8 1687.9L1053.26 1688.2L1053.72 1687.6L1054.18 1688.3L1054.64 1688.7L1055.1 1688.3L1055.56 1688.3L1056.02 1688.9L1056.48 1688.8L1056.94 1688.7L1057.4 1688.9L1057.86 1688.7L1058.32 1689L1058.78 1689.5L1059.24 1689.4L1059.7 1689.1L1060.16 1689.7L1060.62 1689.8L1061.08 1689.5L1061.54 1689.6L1062 1689.6L1062.46 1689.6L1062.92 1689.2L1063.38 1689.6L1063.84 1689.9L1064.3 1691L1064.76 1691.1L1065.22 1691.1L1065.68 1690.4L1066.14 1690.5L1066.6 1689.8L1067.06 1689.7L1067.52 1690L1067.98 1690.6L1068.44 1690.6L1068.9 1690.7L1069.36 1690.6L1069.82 1690.5L1070.28 1690.4L1070.74 1690.3L1071.2 1690L1071.66 1690.4L1072.12 1690.6L1072.58 1690.7L1073.04 1691.1L1073.5 1691.8L1073.96 1692L1074.42 1691.7L1074.88 1691.8L1075.34 1691.1L1075.8 1690.6L1076.26 1690.1L1076.72 1690.2L1077.18 1690.4L1077.64 1690.7L1078.1 1691L1078.56 1691.1L1079.02 1691.1L1079.48 1691L1079.94 1691L1080.4 1690.4L1080.86 1690.8L1081.32 1690.7L1081.78 1691L1082.24 1691L1082.7 1690.8L1083.16 1690.7L1083.62 1690.7L1084.08 1690.1L1084.54 1690.1L1085 1690.4L1085.46 1690.6L1085.92 1690.9L1086.38 1691.3L1086.84 1691.6L1087.3 1691.9L1087.76 1691.8L1088.22 1691.6L1088.68 1691.6L1089.14 1691.9L1089.6 1691.5L1090.06 1691.7L1090.52 1691.6L1090.98 1691.6L1091.44 1690.8L1091.9 1690.5L1092.36 1690.1L1092.82 1690.5L1093.28 1690.7L1093.74 1691.3L1094.2 1692L1094.66 1692.2L1095.12 1691.9L1095.58 1691.5L1096.04 1691.3L1096.5 1691.1L1096.96 1691.5L1097.42 1691.8L1097.88 1691.9L1098.34 1691.3L1098.8 1691.8L1099.26 1692.1L1099.72 1692.4L1100.18 1692.3L1100.64 1692.9L1101.1 1692L1101.56 1691.4L1102.02 1691.2L1102.48 1690.8L1102.94 1690.9L1103.4 1691.8L1103.86 1691.8L1104.32 1691.5L1104.78 1692.3L1105.24 1692.2L1105.7 1692.1L1106.16 1692.2L1106.62 1692.7L1107.08 1692.2L1107.54 1692.3L1108 1692.5L1108.46 1693L1108.92 1692.8L1109.38 1692.8L1109.84 1692.3L1110.3 1692.1L1110.76 1691.6L1111.22 1691.5L1111.68 1691.9L1112.14 1692.5L1112.6 1692.5L1113.06 1693.1L1113.52 1693.1L1113.98 1693.1L1114.44 1693L1114.9 1692.9L1115.36 1692.2L1115.82 1692.7L1116.28 1691.9L1116.74 1691.8L1117.2 1691.8L1117.66 1692.4L1118.12 1691.6L1118.58 1692.5L1119.04 1693.1L1119.5 1692.7L1119.96 1692.4L1120.42 1692.3L1120.88 1692.3L1121.34 1692.2L1121.8 1692.8L1122.26 1692.8L1122.72 1693.3L1123.18 1693.2L1123.64 1693.2L1124.1 1693.1L1124.56 1692.7L1125.02 1692.2L1125.48 1691.9L1125.94 1691.3L1126.4 1690.4L1126.86 1690.9L1127.32 1691.3L1127.78 1691.6L1128.24 1691.3L1128.7 1691.8L1129.16 1691.4L1129.62 1691.9L1130.08 1691.5L1130.54 1692.2L1131 1693L1131.46 1692.6L1131.92 1691.7L1132.38 1691.8L1132.84 1691.8L1133.3 1690.9L1133.76 1690.9L1134.22 1690.9L1134.68 1691.2L1135.14 1691.5L1135.6 1691.8L1136.06 1692.3L1136.52 1692.4L1136.98 1691.8L1137.44 1691.8L1137.9 1691.5L1138.36 1691.1L1138.82 1691.3L1139.28 1691.5L1139.74 1690.8L1140.2 1690.8L1140.66 1690.8L1141.12 1690.6L1141.58 1690.7L1142.04 1690.7L1142.5 1690.5L1142.96 1690.3L1143.42 1690.4L1143.88 1690.7L1144.34 1690.3L1144.8 1690.5L1145.26 1691.3L1145.72 1691.8L1146.18 1692.1L1146.64 1693.3L1147.1 1693.2L1147.56 1693L1148.02 1692.6L1148.48 1692.4L1148.94 1692.2L1149.4 1692.4L1149.86 1692.6L1150.32 1692.5L1150.78 1692.2L1151.24 1692.2L1151.7 1692.3L1152.16 1692.1L1152.62 1692.3L1153.08 1692.8L1153.54 1692.8L1154 1692.3L1154.46 1693.2L1154.92 1693.4L1155.38 1693.2L1155.84 1693.3L1156.3 1694.1L1156.76 1693.8L1157.22 1693.9L1157.68 1694.2L1158.14 1694.1L1158.6 1694.6L1159.06 1694.9L1159.52 1694.7L1159.98 1694.6L1160.44 1694.9L1160.9 1694.7L1161.36 1694.2L1161.82 1694.6L1162.28 1695.1L1162.74 1695.5L1163.2 1695.4L1163.66 1695.5L1164.12 1695.6L1164.58 1695.6L1165.04 1695L1165.5 1694.8L1165.96 1695.3L1166.42 1695.4L1166.88 1695L1167.34 1695.3L1167.8 1696L1168.26 1696L1168.72 1695.9L1169.18 1695.9L1169.64 1696.1L1170.1 1695.6L1170.56 1695.5L1171.02 1695.2L1171.48 1695.4L1171.94 1695.3L1172.4 1695.6L1172.86 1695.5L1173.32 1695.6L1173.78 1695.9L1174.24 1696.3L1174.7 1696.1L1175.16 1696.4L1175.62 1696.4L1176.08 1696.7L1176.54 1696.3L1177 1696.5L1177.46 1696.7L1177.92 1696.9L1178.38 1696.4L1178.84 1696.3L1179.3 1696L1179.76 1695.9L1180.22 1696L1180.68 1696.1L1181.14 1696.2L1181.6 1696.6L1182.06 1696.8L1182.52 1697L1182.98 1696.9L1183.44 1697.2L1183.9 1697.2L1184.36 1697.4L1184.82 1696.7L1185.28 1697.4L1185.74 1697.3L1186.2 1697.5L1186.66 1697.3L1187.12 1698.2L1187.58 1697.7L1188.04 1697.9L1188.5 1697.9L1188.96 1697.5L1189.42 1697.2L1189.88 1697.7L1190.34 1697.4L1190.8 1697.5L1191.26 1697.7L1191.72 1698.1L1192.18 1698.2L1192.64 1698.1L1193.1 1697.9L1193.56 1698L1194.02 1697.8L1194.48 1697.6L1194.94 1697.9L1195.4 1698.4L1195.86 1698.6L1196.32 1698.7L1196.78 1698.5L1197.24 1698.3L1197.7 1697.8L1198.16 1698.2L1198.62 1698.3L1199.08 1698.6L1199.54 1699.6L1200 1700.4L1200.46 1700.2L1200.92 1700.3L1201.38 1700.2L1201.84 1699.7L1202.3 1699.4L1202.76 1699.5L1203.22 1699.2L1203.68 1699.2L1204.14 1699.1L1204.6 1699L1205.06 1698.9L1205.52 1699.3L1205.98 1699.6L1206.44 1699.7L1206.9 1699.5L1207.36 1699.3L1207.82 1699.6L1208.28 1699.4L1208.74 1699.4L1209.2 1700.2L1209.66 1700.4L1210.12 1700.2L1210.58 1700.7L1211.04 1700.8L1211.5 1700.5L1211.96 1700.6L1212.42 1700.5L1212.88 1700.4L1213.34 1700.8L1213.8 1700.1L1214.26 1700.1L1214.72 1700L1215.18 1699.9L1215.64 1699.5L1216.1 1699.9L1216.56 1699.7L1217.02 1699.8L1217.48 1700.3L1217.94 1700.1L1218.4 1700.8L1218.86 1700.9L1219.32 1700.6L1219.78 1700.3L1220.24 1700.8L1220.7 1700.6L1221.16 1701.1L1221.62 1701.9L1222.08 1701.9L1222.54 1702L1223 1702.1L1223.46 1701.6L1223.92 1701.6L1224.38 1701.4L1224.84 1701.3L1225.3 1701.6L1225.76 1701.9L1226.22 1702.3L1226.68 1702.6L1227.14 1702.8L1227.6 1702.8L1228.06 1702.9L1228.52 1702.3L1228.98 1702.4L1229.44 1702L1229.9 1701.7L1230.36 1701.7L1230.82 1701.9L1231.28 1701.8L1231.74 1702.5L1232.2 1702.9L1232.66 1702.7L1233.12 1702.7L1233.58 1702.9L1234.04 1702.9L1234.5 1702.6L1234.96 1702.9L1235.42 1703.1L1235.88 1703.2L1236.34 1702.9L1236.8 1702.9L1237.26 1703.2L1237.72 1703.3L1238.18 1703.1L1238.64 1703.1L1239.1 1703L1239.56 1702.7L1240.02 1702.7L1240.48 1702.9L1240.94 1703.4L1241.4 1703.7L1241.86 1703.5L1242.32 1703.3L1242.78 1703.4L1243.24 1703.7L1243.7 1704.1L1244.16 1704.6L1244.62 1704.8L1245.08 1704.7L1245.54 1704.4L1246 1704.2L1246.46 1704.1L1246.92 1704.2L1247.38 1704.2L1247.84 1704.4L1248.3 1704.7L1248.76 1704.4L1249.22 1704.4L1249.68 1704.4L1250.14 1704.2L1250.6 1703.9L1251.06 1704.1L1251.52 1704.3L1251.98 1704.5L1252.44 1704.6L1252.9 1704.6L1253.36 1704.7L1253.82 1704.5L1254.28 1704.4L1254.74 1704.3L1255.2 1703.9L1255.66 1703.7L1256.12 1703.7L1256.58 1703.8L1257.04 1704.1L1257.5 1704.6L1257.96 1704.7L1258.42 1704.7L1258.88 1704.6L1259.34 1704.3L1259.8 1704.2L1260.26 1704.8L1260.72 1705.1L1261.18 1705.2L1261.64 1705.6L1262.1 1705.9L1262.56 1705.7L1263.02 1705.4L1263.48 1705.4L1263.94 1705.1L1264.4 1705L1264.86 1704.7L1265.32 1704.9L1265.78 1704.8L1266.24 1704.8L1266.7 1705.1L1267.16 1705.2L1267.62 1705.2L1268.08 1704.8L1268.54 1704.7L1269 1704.7L1269.46 1704.8L1269.92 1705.2L1270.38 1705.7L1270.84 1706L1271.3 1706L1271.76 1705.9L1272.22 1705.5L1272.68 1705.6L1273.14 1705.6L1273.6 1705.6L1274.06 1705.5L1274.52 1705.8L1274.98 1706L1275.44 1706L1275.9 1706.4L1276.36 1706.6L1276.82 1706.4L1277.28 1706.4L1277.74 1706.2L1278.2 1706L1278.66 1705.9L1279.12 1705.4L1279.58 1705.2L1280.04 1705.3L1280.5 1705.3L1280.96 1705.6L1281.42 1706L1281.88 1706.3L1282.34 1706.2L1282.8 1705.9L1283.26 1705.8L1283.72 1705.9L1284.18 1706L1284.64 1706.1L1285.1 1706.1L1285.56 1705.9L1286.02 1706L1286.48 1706.2L1286.94 1706.3L1287.4 1706.6L1287.86 1706.9L1288.32 1707.3L1288.78 1707.2L1289.24 1707.3L1289.7 1707.2L1290.16 1707.2L1290.62 1706.6L1291.08 1706.6L1291.54 1706.7L1292 1706.5L1292.46 1706.4L1292.92 1706.4L1293.38 1706.6L1293.84 1706.5L1294.3 1706.5L1294.76 1706.7L1295.22 1706.7L1295.68 1706.2L1296.14 1706.6L1296.6 1706.4L1297.06 1706.6L1297.52 1706.6L1297.98 1707.1L1298.44 1706.7L1298.9 1706.8L1299.36 1707L1299.82 1707.3L1300.28 1707.2L1300.74 1707.4L1301.2 1707.6L1301.66 1707.3L1302.12 1706.8L1302.58 1706.8L1303.04 1706.6L1303.5 1707L1303.96 1707.3L1304.42 1707.4L1304.88 1707.3L1305.34 1707.4L1305.8 1707L1306.26 1706.7L1306.72 1707L1307.18 1707.1L1307.64 1707.6L1308.1 1707.9L1308.56 1707.9L1309.02 1707.3L1309.48 1707.6L1309.94 1707.2L1310.4 1707.2L1310.86 1707.2L1311.32 1707.9L1311.78 1707.8L1312.24 1707.8L1312.7 1707.4L1313.16 1707.1L1313.62 1707.3L1314.08 1707.4L1314.54 1707.2L1315 1707.2L1315.46 1707.8L1315.92 1707.5L1316.38 1707.4L1316.84 1707.7L1317.3 1708.4L1317.76 1708.2L1318.22 1707.9L1318.68 1708L1319.14 1708.2L1319.6 1707.8L1320.06 1708L1320.52 1708.1L1320.98 1707.8L1321.44 1707.6L1321.9 1707.6L1322.36 1707.6L1322.82 1707.7L1323.28 1708L1323.74 1708.3L1324.2 1708.3L1324.66 1708.5L1325.12 1708.5L1325.58 1708.5L1326.04 1708.3L1326.5 1708.5L1326.96 1708.3L1327.42 1708.4L1327.88 1708.4L1328.34 1708.2L1328.8 1708L1329.26 1708L1329.72 1708.2L1330.18 1708.5L1330.64 1708.4L1331.1 1708.6L1331.56 1708.6L1332.02 1708.6L1332.48 1708.3L1332.94 1708.5L1333.4 1708.4L1333.86 1708.3L1334.32 1708.4L1334.78 1708.4L1335.24 1708.4L1335.7 1708.5L1336.16 1709.1L1336.62 1708.8L1337.08 1709L1337.54 1709.3L1338 1709.1L1338.46 1709L1338.92 1709.6L1339.38 1709.3L1339.84 1709.3L1340.3 1709.7L1340.76 1709.8L1341.22 1709.2L1341.68 1709.6L1342.14 1709.5L1342.6 1708.6L1343.06 1708.4L1343.52 1708.5L1343.98 1708.1L1344.44 1708.6L1344.9 1709.3L1345.36 1709.1L1345.82 1709.2L1346.28 1709.1L1346.74 1708.8L1347.2 1708.7L1347.66 1708.9L1348.12 1708.9L1348.58 1709.2L1349.04 1709.1L1349.5 1709.3L1349.96 1709.6L1350.42 1709.5L1350.88 1709.5L1351.34 1709.5L1351.8 1709.7L1352.26 1709.5L1352.72 1710.1L1353.18 1710.1L1353.64 1710.3L1354.1 1710L1354.56 1709.9L1355.02 1709.6L1355.48 1709.4L1355.94 1709.1L1356.4 1709.1L1356.86 1709.5L1357.32 1709.6L1357.78 1710.2L1358.24 1709.8L1358.7 1710L1359.16 1709.6L1359.62 1709.7L1360.08 1709.5L1360.54 1709.5L1361 1709.2L1361.46 1709.4L1361.92 1709.3L1362.38 1709.7L1362.84 1710.4L1363.3 1710.6L1363.76 1710.4L1364.22 1710.3L1364.68 1710L1365.14 1709.8L1365.6 1710.2L1366.06 1710.4L1366.52 1710.2L1366.98 1710.5L1367.44 1710.6L1367.9 1710.7L1368.36 1710.7L1368.82 1710.7L1369.28 1711.1L1369.74 1711L1370.2 1710.7L1370.66 1710.8L1371.12 1711.3L1371.58 1711.2L1372.04 1711L1372.5 1711.2L1372.96 1711.2L1373.42 1711.3L1373.88 1711.1L1374.34 1711.1L1374.8 1710.8L1375.26 1710.5L1375.72 1710.3L1376.18 1710.2L1376.64 1710.4L1377.1 1710.6L1377.56 1710.8L1378.02 1710.4L1378.48 1710.4L1378.94 1710.2L1379.4 1710.4L1379.86 1710.3L1380.32 1711L1380.78 1711.1L1381.24 1711.6L1381.7 1711.3L1382.16 1711.6L1382.62 1711.2L1383.08 1711.2L1383.54 1710.8L1384 1710.9L1384.46 1711.1L1384.92 1711.3L1385.38 1711.5L1385.84 1711.7L1386.3 1711.7L1386.76 1711.3L1387.22 1710.9L1387.68 1711L1388.14 1711L1388.6 1711.2L1389.06 1711.5L1389.52 1711.8L1389.98 1712L1390.44 1711.8L1390.9 1711.4L1391.36 1711.1L1391.82 1711.3L1392.28 1710.6L1392.74 1710.9L1393.2 1711.6L1393.66 1711.6L1394.12 1711.4L1394.58 1712L1395.04 1711.6L1395.5 1711.1L1395.96 1710.8L1396.42 1711L1396.88 1710.8L1397.34 1710.9L1397.8 1711L1398.26 1711.4L1398.72 1711.3L1399.18 1711.5L1399.64 1711.4L1400.1 1711.6L1400.56 1711.8L1401.02 1711.4L1401.48 1711.1L1401.94 1711L1402.4 1711.3L1402.86 1711.6L1403.32 1712L1403.78 1712.6L1404.24 1713L1404.7 1712.5L1405.16 1712.4L1405.62 1712.5L1406.08 1712.1L1406.54 1712L1407 1712.6L1407.46 1712.1L1407.92 1711.9L1408.38 1712.1L1408.84 1711.9L1409.3 1711.5L1409.76 1711.8L1410.22 1711.9L1410.68 1712.1L1411.14 1712.5L1411.6 1712.5L1412.06 1712.3L1412.52 1712.2L1412.98 1712L1413.44 1711.3L1413.9 1711.2L1414.36 1711.1L1414.82 1711.5L1415.28 1711.8L1415.74 1712.8L1416.2 1713.3L1416.66 1713.5L1417.12 1713L1417.58 1712.8L1418.04 1712.5L1418.5 1712.4L1418.96 1712.7L1419.42 1712.9L1419.88 1713.1L1420.34 1713.3L1420.8 1712.9L1421.26 1712.6L1421.72 1712.8L1422.18 1712.6L1422.64 1712.6L1423.1 1712.8L1423.56 1712.6L1424.02 1712.3L1424.48 1712.3L1424.94 1712.1L1425.4 1712L1425.86 1712L1426.32 1712L1426.78 1711.9L1427.24 1712.3L1427.7 1712.3L1428.16 1712.6L1428.62 1712.5L1429.08 1712.4L1429.54 1712L1430 1712.2L1430.46 1711.7L1430.92 1711.7L1431.38 1711.7L1431.84 1711.7L1432.3 1711.8L1432.76 1712.3L1433.22 1712.7L1433.68 1712.7L1434.14 1712.9L1434.6 1712.6L1435.06 1712.7L1435.52 1712.8L1435.98 1713.2L1436.44 1713L1436.9 1713.1L1437.36 1713.2L1437.82 1712.8L1438.28 1712.5L1438.74 1713.1L1439.2 1713.1L1439.66 1712.9L1440.12 1712.8L1440.58 1713.1L1441.04 1712.8L1441.5 1712.6L1441.96 1712.4L1442.42 1712.8L1442.88 1712.7L1443.34 1712.5L1443.8 1713L1444.26 1713.4L1444.72 1713.7L1445.18 1713.3L1445.64 1713.6L1446.1 1713.2L1446.56 1713.1L1447.02 1713.1L1447.48 1713.4L1447.94 1713.3L1448.4 1713.4L1448.86 1713.3L1449.32 1712.9L1449.78 1713.1L1450.24 1713.1L1450.7 1713L1451.16 1713.4L1451.62 1713.5L1452.08 1713.1L1452.54 1712.9L1453 1712.8L1453.46 1713.1L1453.92 1713.1L1454.38 1713.1L1454.84 1713.4L1455.3 1713.9L1455.76 1713.1L1456.22 1713.1L1456.68 1713.4L1457.14 1713.2L1457.6 1712.6L1458.06 1713.1L1458.52 1713.3L1458.98 1713L1459.44 1713.2L1459.9 1713.4L1460.36 1713.5L1460.82 1713.3L1461.28 1713.4L1461.74 1713.2L1462.2 1713.2L1462.66 1712.8L1463.12 1712.9L1463.58 1713L1464.04 1713L1464.5 1713.4L1464.96 1713.5L1465.42 1713.5L1465.88 1713.5L1466.34 1713.2L1466.8 1712.8L1467.26 1712.8L1467.72 1712.5L1468.18 1712L1468.64 1712.7L1469.1 1712.8L1469.56 1712.6L1470.02 1712.7L1470.48 1712.9L1470.94 1712.5L1471.4 1712.6L1471.86 1712.9L1472.32 1713L1472.78 1713.1L1473.24 1713.5L1473.7 1713.4L1474.16 1713.6L1474.62 1713.1L1475.08 1713.1L1475.54 1712.9L1476 1713L1476.46 1712.8L1476.92 1713.1L1477.38 1713.2L1477.84 1713.3L1478.3 1713.5L1478.76 1713.3L1479.22 1713.5L1479.68 1713.8L1480.14 1713.7L1480.6 1713.5L1481.06 1714L1481.52 1714.1L1481.98 1713.8L1482.44 1713.5L1482.9 1713.6L1483.36 1713.3L1483.82 1713.4L1484.28 1713.4L1484.74 1713.7L1485.2 1713.9L1485.66 1713.9L1486.12 1713.9L1486.58 1714.1L1487.04 1714L1487.5 1713.7L1487.96 1713.9L1488.42 1713.7L1488.88 1713.6L1489.34 1713.8L1489.8 1713.8L1490.26 1713.3L1490.72 1713.2L1491.18 1713.3L1491.64 1712.9L1492.1 1712.8L1492.56 1713.5L1493.02 1713.6L1493.48 1713.4L1493.94 1713.5L1494.4 1713.8L1494.86 1713.6L1495.32 1713.4L1495.78 1713.4L1496.24 1713.5L1496.7 1713.2L1497.16 1713.2L1497.62 1713.1L1498.08 1713.2L1498.54 1713.1L1499 1712.8L1499.46 1712.8L1499.92 1713.2L1500.38 1713L1500.84 1713.1L1501.3 1713.1L1501.76 1713.1L1502.22 1713.2L1502.68 1713.1L1503.14 1713.2L1503.6 1713.7L1504.06 1713.2L1504.52 1713.2L1504.98 1713.2L1505.44 1712.8L1505.9 1712.8L1506.36 1713.2L1506.82 1713.2L1507.28 1713.8L1507.74 1714.1L1508.2 1714.3L1508.66 1714.3L1509.12 1714.1L1509.58 1713.6L1510.04 1713.5L1510.5 1713.6L1510.96 1713.9L1511.42 1714.1L1511.88 1714.1L1512.34 1714.4L1512.8 1714.1L1513.26 1714L1513.72 1713.9L1514.18 1713.8L1514.64 1713.1L1515.1 1713.2L1515.56 1713.1L1516.02 1713.1L1516.48 1713.5L1516.94 1714.1L1517.4 1714L1517.86 1714.3L1518.32 1714.2L1518.78 1713.9L1519.24 1713.8L1519.7 1713.5L1520.16 1713.4L1520.62 1713.7L1521.08 1714L1521.54 1714.1L1522 1714.5L1522.46 1714.1L1522.92 1713.5L1523.38 1713.6L1523.84 1713.4L1524.3 1713.5L1524.76 1713.9L1525.22 1714.2L1525.68 1714L1526.14 1713.8L1526.6 1713.8L1527.06 1713.5L1527.52 1713.6L1527.98 1713.9L1528.44 1714.6L1528.9 1714.9L1529.36 1714.9L1529.82 1714.7L1530.28 1714.6L1530.74 1714.2L1531.2 1713.9L1531.66 1713.7L1532.12 1713.8L1532.58 1713.8L1533.04 1713.7L1533.5 1713.8L1533.96 1713.8L1534.42 1713.7L1534.88 1713.4L1535.34 1713.2L1535.8 1713.3L1536.26 1713.6L1536.72 1713.6L1537.18 1714.2L1537.64 1714.3L1538.1 1714.2L1538.56 1714.1L1539.02 1714.2L1539.48 1713.6L1539.94 1713.4L1540.4 1713.4L1540.86 1713.3L1541.32 1713.4L1541.78 1713.6L1542.24 1713.4L1542.7 1713.7L1543.16 1714L1543.62 1713.8L1544.08 1713.7L1544.54 1713.9L1545 1713.5L1545.46 1712.9L1545.92 1713.2L1546.38 1713.7L1546.84 1713.7L1547.3 1713.7L1547.76 1713.7L1548.22 1713.1L1548.68 1712.5L1549.14 1712.6L1549.6 1712.7L1550.06 1713.1L1550.52 1713.5L1550.98 1713.8L1551.44 1713.6L1551.9 1713.5L1552.36 1713.4L1552.82 1713.4L1553.28 1713.1L1553.74 1713.4L1554.2 1713.3L1554.66 1713.3L1555.12 1712.9L1555.58 1713.4L1556.04 1713.2L1556.5 1713.1L1556.96 1713.2L1557.42 1713.2L1557.88 1713L1558.34 1713.1L1558.8 1713.2L1559.26 1713.3L1559.72 1713.5L1560.18 1713.7L1560.64 1713.8L1561.1 1714.2L1561.56 1713.9L1562.02 1713.7L1562.48 1713.6L1562.94 1713.3L1563.4 1713.3L1563.86 1713.3L1564.32 1713.8L1564.78 1713.8L1565.24 1713.9L1565.7 1713.9L1566.16 1713.8L1566.62 1713.7L1567.08 1713.2L1567.54 1712.8L1568 1712.5L1568.46 1712.9L1568.92 1712.6L1569.38 1713.2L1569.84 1713.5L1570.3 1713.5L1570.76 1713.3L1571.22 1713.5L1571.68 1713.3L1572.14 1713.5L1572.6 1713.4L1573.06 1713.4L1573.52 1713.1L1573.98 1713.3L1574.44 1713.2L1574.9 1712.5L1575.36 1712.4L1575.82 1712.5L1576.28 1712L1576.74 1712.2L1577.2 1713L1577.66 1712.9L1578.12 1712.7L1578.58 1713.1L1579.04 1712.9L1579.5 1712.5L1579.96 1712.7L1580.42 1713L1580.88 1712.7L1581.34 1712.3L1581.8 1712.3L1582.26 1712.3L1582.72 1712.3L1583.18 1712.1L1583.64 1712.6L1584.1 1712.4L1584.56 1712.2L1585.02 1711.7L1585.48 1711.6L1585.94 1711.4L1586.4 1711.5L1586.86 1711.6L1587.32 1711.7L1587.78 1711.5L1588.24 1711.8L1588.7 1711.8L1589.16 1711.6L1589.62 1711.2L1590.08 1711.1L1590.54 1710.6L1591 1710.3L1591.46 1710.2L1591.92 1710.2L1592.38 1710.3L1592.84 1710.6L1593.3 1710.7L1593.76 1710.6L1594.22 1710.7L1594.68 1710.7L1595.14 1710.5L1595.6 1710.5L1596.06 1710.2L1596.52 1710.1L1596.98 1710.2L1597.44 1710.1L1597.9 1709.8L1598.36 1710.4L1598.82 1710.7L1599.28 1710.7L1599.74 1710.7L1600.2 1711L1600.66 1710.9L1601.12 1710.9L1601.58 1710.7L1602.04 1711L1602.5 1711L1602.96 1711.4L1603.42 1711.3L1603.88 1711.6L1604.34 1711.8L1604.8 1712L1605.26 1711.9L1605.72 1712L1606.18 1712.3L1606.64 1711.8L1607.1 1711.9L1607.56 1712.2L1608.02 1712.6L1608.48 1712.8L1608.94 1713.3L1609.4 1713.2L1609.86 1713.2L1610.32 1713.2L1610.78 1712.9L1611.24 1712.9L1611.7 1713.5L1612.16 1713.2L1612.62 1713.6L1613.08 1713.6L1613.54 1713.7L1614 1713.8L1614.46 1714L1614.92 1713.4L1615.38 1713.4L1615.84 1713.4L1616.3 1713.3L1616.76 1713.3L1617.22 1713.6L1617.68 1713.9L1618.14 1714L1618.6 1713.7L1619.06 1713.5L1619.52 1713.5L1619.98 1713.4L1620.44 1713.3L1620.9 1713.4L1621.36 1713.3L1621.82 1713.4L1622.28 1712.8L1622.74 1712.7L1623.2 1713.2L1623.66 1712.9L1624.12 1712.8L1624.58 1713.2L1625.04 1713.5L1625.5 1712.9L1625.96 1713.3L1626.42 1713.9L1626.88 1713.5L1627.34 1713.3L1627.8 1713.5L1628.26 1713.3L1628.72 1712.7L1629.18 1712.9L1629.64 1713.2L1630.1 1713.5L1630.56 1713.6L1631.02 1713.7L1631.48 1714L1631.94 1713.7L1632.4 1713.4L1632.86 1713.3L1633.32 1713.7L1633.78 1713.5L1634.24 1713.3L1634.7 1713.5L1635.16 1713.7L1635.62 1713.2L1636.08 1713.4L1636.54 1713.8L1637 1713.6L1637.46 1713.8L1637.92 1714.1L1638.38 1714L1638.84 1713.9L1639.3 1714.1L1639.76 1714L1640.22 1713.7L1640.68 1713.7L1641.14 1713.6L1641.6 1714L1642.06 1713.7L1642.52 1713.6L1642.98 1713.6L1643.44 1714L1643.9 1713.6L1644.36 1713.6L1644.82 1713.8L1645.28 1714.2L1645.74 1714.2L1646.2 1713.7L1646.66 1713.9L1647.12 1714L1647.58 1713.7L1648.04 1713.1L1648.5 1713.7L1648.96 1713.7L1649.42 1713.5L1649.88 1713.7L1650.34 1714.1L1650.8 1713.9L1651.26 1713.4L1651.72 1713.5L1652.18 1713.4L1652.64 1712.8L1653.1 1712.8L1653.56 1712.9L1654.02 1712.8L1654.48 1713.3L1654.94 1713.8L1655.4 1713.8L1655.86 1714L1656.32 1714.2L1656.78 1714.2L1657.24 1714L1657.7 1714.1L1658.16 1714.2L1658.62 1714.3L1659.08 1714L1659.54 1714.2L1660 1714.1L1660.46 1714L1660.92 1713.8L1661.38 1714L1661.84 1713.9L1662.3 1713.7L1662.76 1713.7L1663.22 1713.7L1663.68 1713.8L1664.14 1714L1664.6 1714.1L1665.06 1714.3L1665.52 1714.4L1665.98 1714L1666.44 1714.2L1666.9 1714.1L1667.36 1713.9L1667.82 1713.8L1668.28 1713.8L1668.74 1713.7L1669.2 1713.8L1669.66 1713.7L1670.12 1713.8L1670.58 1713.8L1671.04 1713.4L1671.5 1713.4L1671.96 1714.1L1672.42 1714.2L1672.88 1714.4L1673.34 1714.5L1673.8 1714.6L1674.26 1714.3L1674.72 1714.3L1675.18 1714.6L1675.64 1714.7L1676.1 1714.7L1676.56 1714.4L1677.02 1714.6L1677.48 1714.1L1677.94 1714L1678.4 1713.9L1678.86 1714.2L1679.32 1713.8L1679.78 1714.2L1680.24 1714.5L1680.7 1714.3L1681.16 1713.7L1681.62 1713.8L1682.08 1714.1L1682.54 1714.4L1683 1714.3L1683.46 1714.6L1683.92 1714.5L1684.38 1714.4L1684.84 1713.9L1685.3 1714L1685.76 1714.1L1686.22 1714.1L1686.68 1714.2L1687.14 1714.5L1687.6 1714.3L1688.06 1714.2L1688.52 1714.3L1688.98 1713.9L1689.44 1713.9L1689.9 1714.1L1690.36 1714.3L1690.82 1714.8L1691.28 1714.5L1691.74 1714.4L1692.2 1714.7L1692.66 1714.9L1693.12 1714.6L1693.58 1714.9L1694.04 1714.9L1694.5 1714.8L1694.96 1714.9L1695.42 1714.7L1695.88 1714.7L1696.34 1714.7L1696.8 1715.1L1697.26 1714.5L1697.72 1714.8L1698.18 1714.7L1698.64 1714.9L1699.1 1714.4L1699.56 1715L1700.02 1714.7L1700.48 1715L1700.94 1714.6L1701.4 1714.7L1701.86 1714.5L1702.32 1714.5L1702.78 1714.3L1703.24 1714.4L1703.7 1714.4L1704.16 1714.3L1704.62 1714.2L1705.08 1714L1705.54 1713.7L1706 1714.1L1706.46 1713.9L1706.92 1714.1L1707.38 1714.2L1707.84 1714.3L1708.3 1713.9L1708.76 1714.2L1709.22 1714.2L1709.68 1714.3L1710.14 1714.5L1710.6 1714.8L1711.06 1715L1711.52 1715L1711.98 1715.1L1712.44 1715.1L1712.9 1715L1713.36 1714.9L1713.82 1714.7L1714.28 1714.5L1714.74 1714.5L1715.2 1714.7L1715.66 1714.9L1716.12 1715.1L1716.58 1715.2L1717.04 1715L1717.5 1714.8L1717.96 1714.9L1718.42 1714.7L1718.88 1715L1719.34 1715.2L1719.8 1715.5L1720.26 1715.3L1720.72 1715.5L1721.18 1715.5L1721.64 1715.1L1722.1 1714.8L1722.56 1714.9L1723.02 1714.5L1723.48 1714.4L1723.94 1714.5L1724.4 1715L1724.86 1714.2L1725.32 1714.2L1725.78 1714.1L1726.24 1714.2L1726.7 1714.2L1727.16 1715L1727.62 1715.3L1728.08 1715.5L1728.54 1715.8L1729 1715.4L1729.46 1715.2L1729.92 1715.6L1730.38 1715.7L1730.84 1715.4L1731.3 1715.6L1731.76 1715.5L1732.22 1715.3L1732.68 1715.3L1733.14 1715.5L1733.6 1715.2L1734.06 1715.4L1734.52 1715.4L1734.98 1715.4L1735.44 1715.2L1735.9 1715.7L1736.36 1715.6L1736.82 1715.5L1737.28 1715.4L1737.74 1715.5L1738.2 1715.3L1738.66 1715.2L1739.12 1715.2L1739.58 1714.8L1740.04 1714.6L1740.5 1714.7L1740.96 1715.1L1741.42 1715.2L1741.88 1715.8L1742.34 1715.9L1742.8 1715.8L1743.26 1715.8L1743.72 1715.6L1744.18 1714.8L1744.64 1714.8L1745.1 1715.3L1745.56 1715.5L1746.02 1715.6L1746.48 1716.4L1746.94 1716.5L1747.4 1715.7L1747.86 1715.6L1748.32 1715.7L1748.78 1715.2L1749.24 1715.3L1749.7 1715.5L1750.16 1715.5L1750.62 1715.4L1751.08 1715.6L1751.54 1715.1L1752 1715.4L1752.46 1715.3L1752.92 1715.3L1753.38 1715.1L1753.84 1715.5L1754.3 1715L1754.76 1715L1755.22 1714.8L1755.68 1714.7L1756.14 1715L1756.6 1715.2L1757.06 1715.2L1757.52 1715.6L1757.98 1715.6L1758.44 1715.6L1758.9 1715.4L1759.36 1715.3L1759.82 1715.1L1760.28 1715.5L1760.74 1715L1761.2 1715.5L1761.66 1716L1762.12 1716L1762.58 1715.7L1763.04 1715.9L1763.5 1715.7L1763.96 1715.3L1764.42 1715.2L1764.88 1715.6L1765.34 1715.7L1765.8 1715.9L1766.26 1716.3L1766.72 1716.5L1767.18 1716.3L1767.64 1716.3L1768.1 1715.8L1768.56 1715.7L1769.02 1715.8L1769.48 1715.7L1769.94 1715.9L1770.4 1716.2L1770.86 1716.5L1771.32 1716.2L1771.78 1716.2L1772.24 1716L1772.7 1716.2L1773.16 1715.7L1773.62 1715.5L1774.08 1715.2L1774.54 1715L1775 1714.7L1775.46 1714.3L1775.92 1714.8L1776.38 1715L1776.84 1715.1L1777.3 1714.9L1777.76 1715.5L1778.22 1715.7L1778.68 1716.1L1779.14 1716.1L1779.6 1716.5L1780.06 1716.4L1780.52 1716.3L1780.98 1715.9L1781.44 1715.6L1781.9 1715.5L1782.36 1715.7L1782.82 1715.4L1783.28 1715.7L1783.74 1716.4L1784.2 1716.5L1784.66 1716.4L1785.12 1716.1L1785.58 1716.1L1786.04 1716.1L1786.5 1715.9L1786.96 1715.8L1787.42 1716.1L1787.88 1716L1788.34 1715.7L1788.8 1715.9L1789.26 1715.8L1789.72 1716L1790.18 1716L1790.64 1716.1L1791.1 1715.7L1791.56 1715.8L1792.02 1715.7L1792.48 1715.9L1792.94 1715.4L1793.4 1715.8L1793.86 1715.7L1794.32 1715.7L1794.78 1715.7L1795.24 1716.1L1795.7 1716.1L1796.16 1716.3L1796.62 1716.4L1797.08 1716.3L1797.54 1716.5L1798 1716.7L1798.46 1716.6L1798.92 1716.8L1799.38 1716.5L1799.84 1716.2L1800.3 1716.1L1800.76 1715.9L1801.22 1715.7L1801.68 1716.1L1802.14 1716.3L1802.6 1716.1L1803.06 1716.3L1803.52 1716.3L1803.98 1716.3L1804.44 1716.2L1804.9 1716.1L1805.36 1716.2L1805.82 1716.5L1806.28 1716.4L1806.74 1716.5L1807.2 1716.7L1807.66 1716.5L1808.12 1716.5L1808.58 1716.6L1809.04 1716.4L1809.5 1716.3L1809.96 1716.4L1810.42 1716.3L1810.88 1716.1L1811.34 1716.1L1811.8 1715.9L1812.26 1715.7L1812.72 1715.8L1813.18 1715.9L1813.64 1716.5L1814.1 1716.6L1814.56 1716.7L1815.02 1716.5L1815.48 1716.3L1815.94 1716.2L1816.4 1716.1L1816.86 1716.1L1817.32 1716.3L1817.78 1716.3L1818.24 1715.9L1818.7 1716L1819.16 1715.9L1819.62 1715.6L1820.08 1715.7L1820.54 1715.9L1821 1715.7L1821.46 1715.8L1821.92 1715.8L1822.38 1715.6L1822.84 1716L1823.3 1716.1L1823.76 1715.8L1824.22 1715.9L1824.68 1716.2L1825.14 1715.5L1825.6 1715.4L1826.06 1715.7L1826.52 1715.5L1826.98 1715.6L1827.44 1715.9L1827.9 1715.5L1828.36 1715.6L1828.82 1715.7L1829.28 1715.8L1829.74 1715.8L1830.2 1715.9L1830.66 1715.9L1831.12 1716L1831.58 1715.8L1832.04 1715.9L1832.5 1716.1L1832.96 1716.1L1833.42 1716L1833.88 1715.7L1834.34 1715.7L1834.8 1715.7L1835.26 1715.9L1835.72 1716L1836.18 1716.2L1836.64 1715.9L1837.1 1716.1L1837.56 1715.8L1838.02 1715.8L1838.48 1715.8L1838.94 1716L1839.4 1716.1L1839.86 1716L1840.32 1715.9L1840.78 1715.8L1841.24 1715.8L1841.7 1715.3L1842.16 1715.4L1842.62 1715.5L1843.08 1715.5L1843.54 1715.2L1844 1715.7L1844.46 1715.9L1844.92 1715.4L1845.38 1715.5L1845.84 1715.8L1846.3 1715.5L1846.76 1715.2L1847.22 1715.7L1847.68 1715.6L1848.14 1715.1L1848.6 1715.3L1849.06 1715.1L1849.52 1714.7L1849.98 1714.6L1850.44 1715L1850.9 1715.1L1851.36 1715.4L1851.82 1715.6L1852.28 1715.8L1852.74 1716.1L1853.2 1716L1853.66 1715.3L1854.12 1715.3L1854.58 1715.7L1855.04 1715L1855.5 1715.1L1855.96 1715.6L1856.42 1715.9L1856.88 1715.2L1857.34 1715.6L1857.8 1715.1L1858.26 1715L1858.72 1714.3L1859.18 1714.3L1859.64 1714L1860.1 1714.7L1860.56 1714.6L1861.02 1715.3L1861.48 1715.6L1861.94 1716.1L1862.4 1715.8L1862.86 1715.7L1863.32 1715.3L1863.78 1714.9L1864.24 1714.9L1864.7 1714.8L1865.16 1715.2L1865.62 1715.7L1866.08 1716L1866.54 1715.8L1867 1715.9L1867.46 1715.8L1867.92 1715.5L1868.38 1715.6L1868.84 1715.5L1869.3 1715.4L1869.76 1715L1870.22 1715.2L1870.68 1714.9L1871.14 1714.9L1871.6 1714.6L1872.06 1714.8L1872.52 1714.5L1872.98 1715.1L1873.44 1715L1873.9 1715.4L1874.36 1715.6L1874.82 1715.5L1875.28 1715.2L1875.74 1715.1L1876.2 1714.8L1876.66 1714.6L1877.12 1714.8L1877.58 1714.9L1878.04 1715L1878.5 1715.6L1878.96 1715.7L1879.42 1715.4L1879.88 1714.9L1880.34 1714.6L1880.8 1714.1L1881.26 1713.7L1881.72 1713.9L1882.18 1713.5L1882.64 1713.6L1883.1 1713.3L1883.56 1713.3L1884.02 1713.2L1884.48 1713.5L1884.94 1713.3L1885.4 1713.1L1885.86 1712.7L1886.32 1712.5L1886.78 1712.5L1887.24 1712.6L1887.7 1713L1888.16 1713L1888.62 1713L1889.08 1712.8L1889.54 1712.9L1890 1712.7L1890.46 1712.7L1890.92 1713L1891.38 1713L1891.84 1713.1L1892.3 1713L1892.76 1713L1893.22 1713.2L1893.68 1713.7L1894.14 1713.7L1894.6 1713.7L1895.06 1714L1895.52 1713.7L1895.98 1713.7L1896.44 1713.7L1896.9 1713.5L1897.36 1713.7L1897.82 1713.8L1898.28 1713.6L1898.74 1713.5L1899.2 1714.1L1899.66 1713.9L1900.12 1714L1900.58 1714.2L1901.04 1714.3L1901.5 1714.5L1901.96 1714.4L1902.42 1714.4L1902.88 1714.4L1903.34 1714.7L1903.8 1714.3L1904.26 1714.6L1904.72 1714.3L1905.18 1714.3L1905.64 1713.7L1906.1 1714.1L1906.56 1714.1L1907.02 1714.4L1907.48 1714.3L1907.94 1714.6L1908.4 1714.4L1908.86 1714.4L1909.32 1714.3L1909.78 1714.1L1910.24 1714.3L1910.7 1713.9L1911.16 1713.9L1911.62 1713.6L1912.08 1713.8L1912.54 1713.6L1913 1713.5L1913.46 1713.4L1913.92 1713.6L1914.38 1713.2L1914.84 1713.4L1915.3 1713.6L1915.76 1713.8L1916.22 1713.7L1916.68 1714.2L1917.14 1713.9L1917.6 1714.1L1918.06 1714.1L1918.52 1714.4L1918.98 1714.2L1919.44 1714.6L1919.9 1714.6L1920.36 1714.3L1920.82 1714.1L1921.28 1714.1L1921.74 1713.9L1922.2 1713.8L1922.66 1713.7L1923.12 1713.8L1923.58 1714L1924.04 1713.6L1924.5 1714L1924.96 1713.9L1925.42 1713.6L1925.88 1714.1L1926.34 1714L1926.8 1713.4L1927.26 1713.8L1927.72 1714.1L1928.18 1713.5L1928.64 1713.9L1929.1 1714L1929.56 1713.7L1930.02 1714L1930.48 1714.4L1930.94 1714.7L1931.4 1714.8L1931.86 1715.3L1932.32 1714.7L1932.78 1714.4L1933.24 1713.7L1933.7 1713.9L1934.16 1713.3L1934.62 1713.6L1935.08 1713.7L1935.54 1714.3L1936 1714L1936.46 1714.2L1936.92 1714.2L1937.38 1713.9L1937.84 1713.4L1938.3 1713.3L1938.76 1713.5L1939.22 1713.4L1939.68 1713.8L1940.14 1713.7L1940.6 1713.8L1941.06 1713.9L1941.52 1713.8L1941.98 1713.5L1942.44 1714.2L1942.9 1714.3L1943.36 1713.9L1943.82 1713.5L1944.28 1713.6L1944.74 1713L1945.2 1713.1L1945.66 1712.9L1946.12 1712.9L1946.58 1713.2L1947.04 1713.2L1947.5 1712.9L1947.96 1713.1L1948.42 1713.1L1948.88 1712.9L1949.34 1713.1L1949.8 1713.5L1950.26 1713.9L1950.72 1714.3L1951.18 1714.1L1951.64 1714.4L1952.1 1714L1952.56 1713.9L1953.02 1713.7L1953.48 1714L1953.94 1713.9L1954.4 1713.9L1954.86 1713.8L1955.32 1713.6L1955.78 1713.6L1956.24 1713.8L1956.7 1713.6L1957.16 1713.7L1957.62 1713.7L1958.08 1713.8L1958.54 1713.5L1959 1713.4L1959.46 1713.3L1959.92 1713.4L1960.38 1713.7L1960.84 1713.5L1961.3 1713.7L1961.76 1713.7L1962.22 1713.8L1962.68 1713.4L1963.14 1713.6L1963.6 1713.6L1964.06 1713.9L1964.52 1713.6L1964.98 1713.8L1965.44 1713.6L1965.9 1713.9L1966.36 1713.6L1966.82 1713.6L1967.28 1713.1L1967.74 1713.4L1968.2 1713.2L1968.66 1713.4L1969.12 1713.3L1969.58 1713.3L1970.04 1713.1L1970.5 1712.8L1970.96 1712.4L1971.42 1712.5L1971.88 1712.9L1972.34 1713.1L1972.8 1713.2L1973.26 1713.4L1973.72 1713.6L1974.18 1713.5L1974.64 1713.3L1975.1 1713.4L1975.56 1713.4L1976.02 1713.5L1976.48 1713L1976.94 1713.2L1977.4 1712.9L1977.86 1713.2L1978.32 1713L1978.78 1713.5L1979.24 1713.3L1979.7 1713.5L1980.16 1713.2L1980.62 1713.3L1981.08 1713L1981.54 1713L1982 1712.8L1982.46 1713L1982.92 1713.3L1983.38 1713.5L1983.84 1713.3L1984.3 1713.3L1984.76 1713.5L1985.22 1713.1L1985.68 1713.1L1986.14 1713.4L1986.6 1713.5L1987.06 1713.5L1987.52 1713.5L1987.98 1713.5L1988.44 1713.8L1988.9 1713.9L1989.36 1713.7L1989.82 1713.8L1990.28 1714.1L1990.74 1714L1991.2 1713.9L1991.66 1714.4L1992.12 1714.4L1992.58 1714.4L1993.04 1714.3L1993.5 1714.1L1993.96 1714.2L1994.42 1714.7L1994.88 1714.6L1995.34 1715L1995.8 1715.1L1996.26 1714.8L1996.72 1714.5L1997.18 1714.7L1997.64 1714.5L1998.1 1715.1L1998.56 1715.3L1999.02 1715.5L1999.48 1715.8L1999.94 1715.7L2000.4 1715.5L2000.86 1715.2L2001.32 1714.9L2001.78 1714.4L2002.24 1714.4L2002.7 1714.4L2003.16 1714.2L2003.62 1714.3L2004.08 1714.7L2004.54 1714.5L2005 1714.2L2005.46 1714L2005.92 1714.3L2006.38 1714.6L2006.84 1714.9L2007.3 1715L2007.76 1715.6L2008.22 1715.4L2008.68 1715L2009.14 1715.3L2009.6 1715.5L2010.06 1715.4L2010.52 1715.3L2010.98 1715.4L2011.44 1715L2011.9 1715.1L2012.36 1715.2L2012.82 1715.3L2013.28 1715.5L2013.74 1716.1L2014.2 1715.9L2014.66 1716.5L2015.12 1716.5L2015.58 1716.4L2016.04 1715.8L2016.5 1715.9L2016.96 1715.7L2017.42 1715.7L2017.88 1715.6L2018.34 1715.8L2018.8 1715.7L2019.26 1715.4L2019.72 1715.3L2020.18 1715.3L2020.64 1715.4L2021.1 1715.9L2021.56 1716L2022.02 1716.2L2022.48 1716.3L2022.94 1716.6L2023.4 1716.3L2023.86 1716.2L2024.32 1716.2L2024.78 1716.3L2025.24 1716.1L2025.7 1716.1L2026.16 1716L2026.62 1716.2L2027.08 1716L2027.54 1716.1L2028 1716L2028.46 1716L2028.92 1715.8L2029.38 1715.8L2029.84 1715.4L2030.3 1715.3L2030.76 1715.5L2031.22 1715.7L2031.68 1716.1L2032.14 1716.6L2032.6 1716.8L2033.06 1716.8L2033.52 1716.7L2033.98 1716.5L2034.44 1716.2L2034.9 1716.3L2035.36 1716.3L2035.82 1716.1L2036.28 1716.1L2036.74 1715.9L2037.2 1715.8L2037.66 1716L2038.12 1716.2L2038.58 1716.3L2039.04 1716.3L2039.5 1716.3L2039.96 1716.4L2040.42 1716.6L2040.88 1716.6L2041.34 1716.9L2041.8 1717L2042.26 1716.5L2042.72 1716.4L2043.18 1716.4L2043.64 1716.5L2044.1 1716.4L2044.56 1716.9L2045.02 1716.9L2045.48 1716.8L2045.94 1716.5L2046.4 1716.6L2046.86 1716.3L2047.32 1716L2047.78 1715.9L2048.24 1715.8L2048.7 1715.6L2049.16 1715.8L2049.62 1716.2L2050.08 1716.3L2050.54 1716.8L2051 1716.6L2051.46 1716.8L2051.92 1716.7L2052.38 1716.7L2052.84 1716.7L2053.3 1717.3L2053.76 1717.1L2054.22 1717L2054.68 1716.9L2055.14 1716.7L2055.6 1716.6L2056.06 1716.4L2056.52 1716.6L2056.98 1716.3L2057.44 1716.1L2057.9 1716L2058.36 1716.6L2058.82 1716.2L2059.28 1716.7L2059.74 1717L2060.2 1716.9L2060.66 1716.6L2061.12 1716.9L2061.58 1717L2062.04 1716.8L2062.5 1716.8L2062.96 1717L2063.42 1716.8L2063.88 1716.7L2064.34 1716.3L2064.8 1716.4L2065.26 1716.3L2065.72 1716.5L2066.18 1716L2066.64 1716.5L2067.1 1716.2L2067.56 1716.3L2068.02 1716.4L2068.48 1716.6L2068.94 1716.6L2069.4 1716.8L2069.86 1717.2L2070.32 1717.1L2070.78 1717L2071.24 1717L2071.7 1717.2L2072.16 1716.7L2072.62 1716.8L2073.08 1717.2L2073.54 1717L2074 1716.6L2074.46 1716.8L2074.92 1716.5L2075.38 1716.3L2075.84 1716.5L2076.3 1717L2076.76 1716.9L2077.22 1717.2L2077.68 1717L2078.14 1717L2078.6 1717L2079.06 1717.1L2079.52 1716.9L2079.98 1717.1L2080.44 1717.3L2080.9 1717.1L2081.36 1717.1L2081.82 1716.9L2082.28 1716.7L2082.74 1716.7L2083.2 1716.9L2083.66 1716.9L2084.12 1717.1L2084.58 1717.4L2085.04 1717.1L2085.5 1716.9L2085.96 1717.1L2086.42 1717.2L2086.88 1716.7L2087.34 1716.8L2087.8 1716.7L2088.26 1716.3L2088.72 1716.4L2089.18 1716.9L2089.64 1716.6L2090.1 1717.1L2090.56 1717.4L2091.02 1717.2L2091.48 1717.2L2091.94 1717.6L2092.4 1717.6L2092.86 1717.3L2093.32 1717.5L2093.78 1717.4L2094.24 1717.4L2094.7 1717.1L2095.16 1717.2L2095.62 1717.4L2096.08 1717.4L2096.54 1717.5L2097 1717.6L2097.46 1717.8L2097.92 1717.7L2098.38 1717.9L2098.84 1718.1L2099.3 1718.1L2099.76 1717.6L2100.22 1717.4L2100.68 1717.2L2101.14 1717L2101.6 1717.3L2102.06 1717.5L2102.52 1717.9L2102.98 1717.9L2103.44 1718L2103.9 1717.9L2104.36 1718L2104.82 1717.5L2105.28 1717.9L2105.74 1717.9L2106.2 1718.1L2106.66 1717.9L2107.12 1718.1L2107.58 1718.3L2108.04 1718.3L2108.5 1718.3L2108.96 1718.8L2109.42 1718.9L2109.88 1718.7L2110.34 1718.4L2110.8 1718.2L2111.26 1717.8L2111.72 1717.8L2112.18 1717.1L2112.64 1717.5L2113.1 1717.6L2113.56 1717.8L2114.02 1717.6L2114.48 1717.7L2114.94 1717.5L2115.4 1717.5L2115.86 1717.4L2116.32 1717.7L2116.78 1718.2L2117.24 1718.7L2117.7 1718.4L2118.16 1718.4L2118.62 1718.4L2119.08 1718.4L2119.54 1718.1L2120 1718.3L2120.46 1718.3L2120.92 1718.1L2121.38 1718L2121.84 1718.1L2122.3 1718.1L2122.76 1718.3L2123.22 1718.4L2123.68 1718.7L2124.14 1718.5L2124.6 1718.3L2125.06 1718.2L2125.52 1718.6L2125.98 1718.5L2126.44 1718.5L2126.9 1718.6L2127.36 1718.4L2127.82 1718.1L2128.28 1718L2128.74 1718.2L2129.2 1718.3L2129.66 1718.5L2130.12 1718.7L2130.58 1718.8L2131.04 1718.6L2131.5 1718.6L2131.96 1718.7L2132.42 1718.5L2132.88 1718.6L2133.34 1718.5L2133.8 1718.6L2134.26 1719L2134.72 1718.9L2135.18 1718.5L2135.64 1718.8L2136.1 1718.4L2136.56 1717.9L2137.02 1718L2137.48 1718.3L2137.94 1718.5L2138.4 1719L2138.86 1718.9L2139.32 1718.8L2139.78 1718.9L2140.24 1718.6L2140.7 1718.1L2141.16 1718L2141.62 1718.1L2142.08 1718L2142.54 1717.8L2143 1717.8L2143.46 1718.1L2143.92 1717.7L2144.38 1717.9L2144.84 1718.1L2145.3 1718.3L2145.76 1718.4L2146.22 1718.7L2146.68 1718.6L2147.14 1718.3L2147.6 1718.8L2148.06 1718.4L2148.52 1718.6L2148.98 1718.5L2149.44 1718.7L2149.9 1718L2150.36 1718.3L2150.82 1718.1L2151.28 1718.1L2151.74 1718.4L2152.2 1718.2L2152.66 1718L2153.12 1718L2153.58 1718.2L2154.04 1718.2L2154.5 1718.4L2154.96 1718.5L2155.42 1718.7L2155.88 1718.8L2156.34 1719.1L2156.8 1719.2L2157.26 1719.3L2157.72 1719L2158.18 1718.5L2158.64 1718.4L2159.1 1718.4L2159.56 1718.1L2160.02 1718.6L2160.48 1718.7L2160.94 1718.3L2161.4 1718.3L2161.86 1718.6L2162.32 1718.7L2162.78 1719L2163.24 1719.3L2163.7 1719.4L2164.16 1719.2L2164.62 1719L2165.08 1719.1L2165.54 1719L2166 1718.5L2166.46 1718.7L2166.92 1718.6L2167.38 1718.7L2167.84 1718.7L2168.3 1718.8L2168.76 1718.7L2169.22 1718.5L2169.68 1718.2L2170.14 1718.1L2170.6 1718.5L2171.06 1718.3L2171.52 1718.7L2171.98 1718.5L2172.44 1719.2L2172.9 1718.8L2173.36 1719.3L2173.82 1719.3L2174.28 1718.9L2174.74 1718.7L2175.2 1719.1L2175.66 1719L2176.12 1719.1L2176.58 1719.6L2177.04 1719.3L2177.5 1719.2L2180.5 1719.2" fill="none" stroke="#a0a0a0" stroke-width="9.5" stroke-linejoin="round" stroke-linecap="butt"/>
</g>
<line shape-rendering="crispEdges" x1="1129.5" y1="319.5" x2="1129.5" y2="1753.5" stroke="#00ffff" stroke-width="9" stroke-linecap="round" stroke-dasharray="9.00 19.44"/>
<line shape-rendering="crispEdges" x1="1596.0" y1="314.0" x2="1596.0" y2="1748.0" stroke="#00ffff" stroke-width="8" stroke-linecap="round" stroke-dasharray="10.00 18.44"/>
<line shape-rendering="crispEdges" x1="1891.0" y1="314.0" x2="1891.0" y2="1748.0" stroke="#00ffff" stroke-width="8" stroke-linecap="round" stroke-dasharray="10.00 18.44"/>
<line shape-rendering="crispEdges" x1="1989.0" y1="319.0" x2="1989.0" y2="1753.0" stroke="#00ffff" stroke-width="8" stroke-linecap="round" stroke-dasharray="10.00 18.44"/>
<filter id="hard" filterUnits="userSpaceOnUse" x="0" y="0" width="2238" height="2042" color-interpolation-filters="sRGB"><feComponentTransfer><feFuncA type="discrete" tableValues="0 1"/></feComponentTransfer></filter>
<g font-family="'Liberation Sans', Arial, sans-serif" style="font-kerning:none" filter="url(#hard)">
<text transform="translate(338.2 1869) scale(0.973 1)" font-size="78" text-anchor="middle">10</text>
<text transform="translate(568.2 1869) scale(0.973 1)" font-size="78" text-anchor="middle">20</text>
<text transform="translate(798.2 1869) scale(0.973 1)" font-size="78" text-anchor="middle">30</text>
<text transform="translate(1028.2 1869) scale(0.973 1)" font-size="78" text-anchor="middle">40</text>
<text transform="translate(1258.2 1869) scale(0.973 1)" font-size="78" text-anchor="middle">50</text>
<text transform="translate(1488.2 1869) scale(0.973 1)" font-size="78" text-anchor="middle">60</text>
<text transform="translate(1718.2 1869) scale(0.973 1)" font-size="78" text-anchor="middle">70</text>
<text transform="translate(1948.2 1869) scale(0.973 1)" font-size="78" text-anchor="middle">80</text>
<text transform="translate(2178.2 1869) scale(0.973 1)" font-size="78" text-anchor="middle">90</text>
<text transform="translate(1199 2010) scale(0.974 1)" font-size="96.5" text-anchor="middle">2Theta</text>
<text transform="translate(95.5 1140.5) rotate(-90) scale(0.971 1)" font-size="70.8">Cps</text>
<text transform="translate(1007.0 305.0) rotate(-90) scale(0.968 1)" font-size="71" fill="#00ffff">Ag (111)</text>
<text transform="translate(1150.5 301.0) rotate(-90) scale(0.968 1)" font-size="71" fill="#00ffff">Ag (200)</text>
<text transform="translate(1609.6 300.6) rotate(-90) scale(0.968 1)" font-size="71" fill="#00ffff">Ag (220)</text>
<text transform="translate(1908.8 300.6) rotate(-90) scale(0.968 1)" font-size="71" fill="#00ffff">Ag (311)</text>
<text transform="translate(2009.6 297.3) rotate(-90) scale(0.968 1)" font-size="71" fill="#00ffff">Ag (222)</text>
<text transform="translate(374.7 950.8) rotate(-90) scale(0.966 1)" font-size="51.8" fill="#ff8000">PivOAg</text>
<text transform="translate(500.9 940.6) rotate(-90) scale(0.966 1)" font-size="51.8" fill="#ff8000">PivOAg</text>
<text transform="translate(768.0 950.6) rotate(-90) scale(0.966 1)" font-size="58.2" fill="#980000">AgOx</text>
<text transform="translate(870.8 917.9) rotate(-90) scale(0.966 1)" font-size="58.2" fill="#980000">AgOx</text>
<text transform="translate(1203.9 952.0) rotate(-90) scale(0.966 1)" font-size="58.2" fill="#980000">AgOx</text>
<text transform="translate(1393.0 990.7) rotate(-90) scale(0.966 1)" font-size="58.2" fill="#980000">AgOx</text>
<text transform="translate(1467.0 986.8) rotate(-90) scale(0.966 1)" font-size="58.2" fill="#980000">AgOx</text>
</g>
</svg>
</body>
</html>
